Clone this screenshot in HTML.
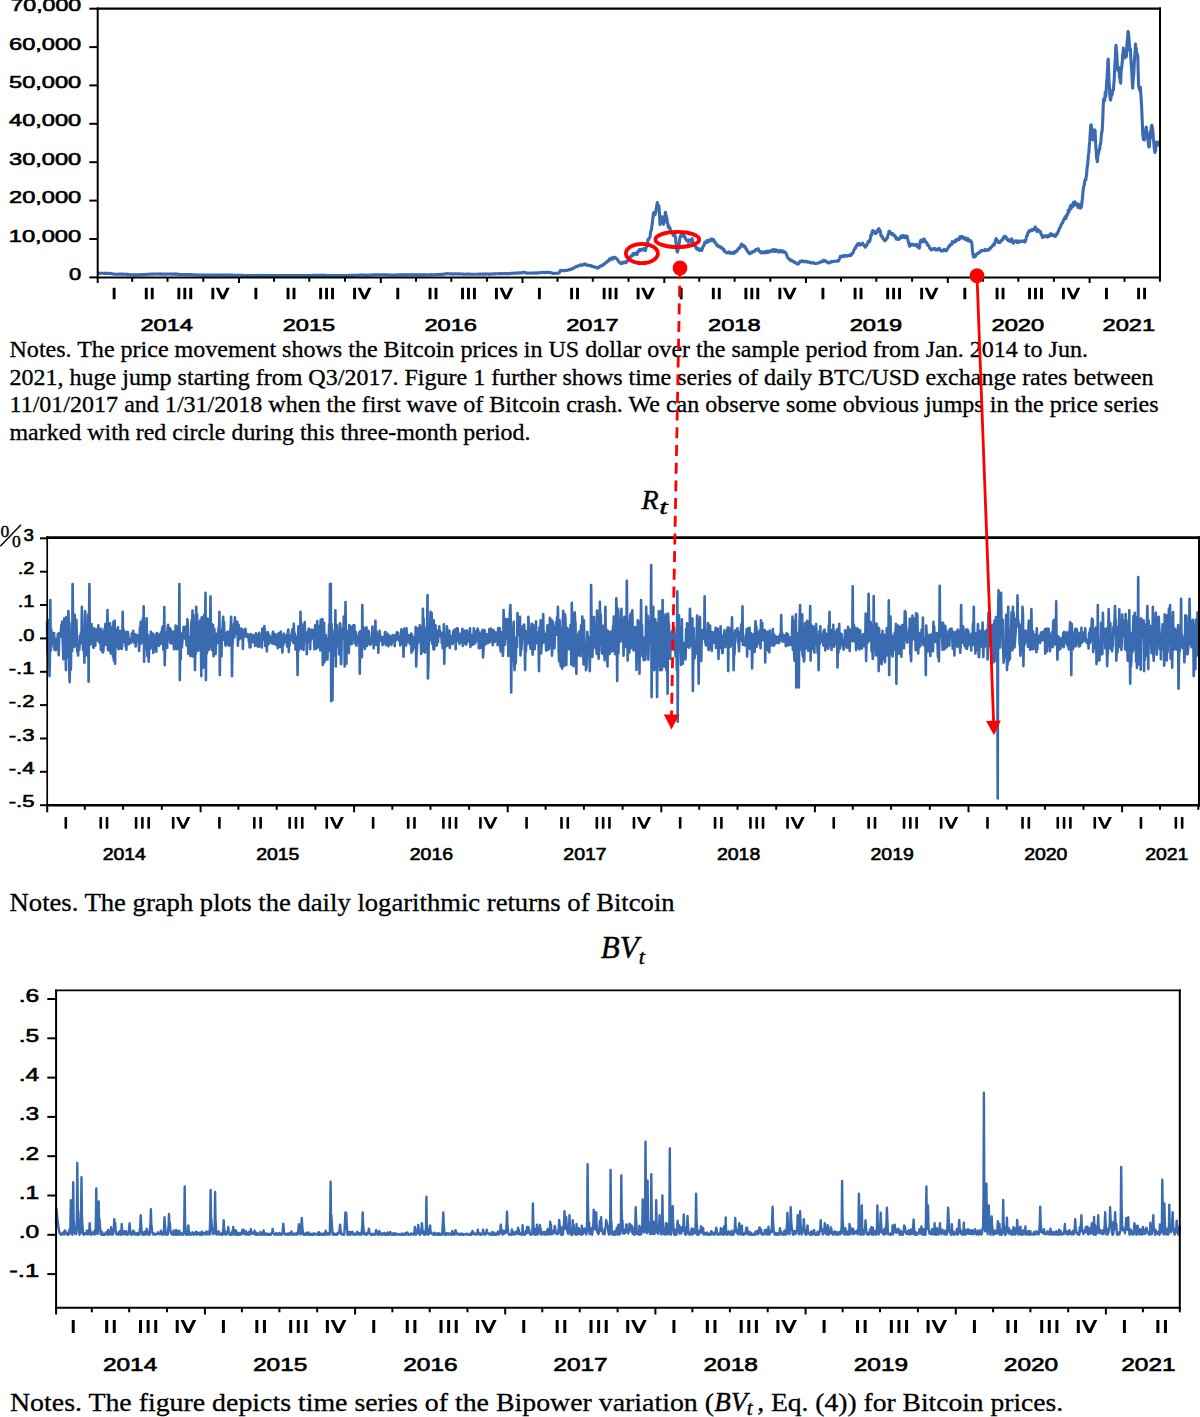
<!DOCTYPE html>
<html><head><meta charset="utf-8"><style>
html,body{margin:0;padding:0;background:#fff;}
svg{display:block;}
</style></head><body>
<svg width="1200" height="1417" viewBox="0 0 1200 1417" font-family="Liberation Sans, sans-serif" fill="#000">
<polyline points="97.6,273.4 98.0,273.4 98.4,273.4 98.8,273.4 99.2,273.4 99.6,273.3 100.0,273.1 100.3,273.2 100.7,273.2 101.1,273.2 101.5,273.2 101.9,273.2 102.3,273.3 102.7,273.3 103.1,273.2 103.4,273.3 103.8,273.3 104.2,273.4 104.6,273.4 105.0,273.5 105.4,273.4 105.8,273.4 106.2,273.3 106.6,273.3 106.9,273.3 107.3,273.5 107.7,273.4 108.1,273.4 108.5,273.3 108.9,273.5 109.3,273.4 109.7,273.5 110.0,273.5 110.4,273.4 110.8,273.6 111.2,273.6 111.6,273.6 112.0,273.8 112.4,273.9 112.8,273.9 113.2,274.0 113.5,274.1 113.9,274.1 114.3,274.0 114.7,274.2 115.1,274.2 115.5,274.3 115.9,274.3 116.3,274.2 116.6,274.2 117.0,274.3 117.4,274.2 117.8,274.2 118.2,274.2 118.6,274.1 119.0,274.1 119.4,274.1 119.8,274.0 120.1,274.1 120.5,274.1 120.9,274.1 121.3,274.1 121.7,274.2 122.1,274.2 122.5,274.1 122.9,274.1 123.2,274.1 123.6,274.2 124.0,274.3 124.4,274.2 124.8,274.3 125.2,274.3 125.6,274.3 126.0,274.2 126.3,274.3 126.7,274.3 127.1,274.4 127.5,274.4 127.9,274.4 128.3,274.5 128.7,274.5 129.1,274.5 129.5,274.6 129.8,274.6 130.2,274.7 130.6,274.7 131.0,274.7 131.4,274.7 131.8,274.7 132.2,274.7 132.6,274.7 132.9,274.7 133.3,274.7 133.7,274.7 134.1,274.7 134.5,274.8 134.9,274.8 135.3,274.9 135.7,274.9 136.1,274.8 136.4,274.8 136.8,274.8 137.2,274.6 137.6,274.8 138.0,274.8 138.4,274.7 138.8,274.7 139.2,274.7 139.5,274.7 139.9,274.7 140.3,274.6 140.7,274.7 141.1,274.7 141.5,274.6 141.9,274.7 142.3,274.6 142.6,274.6 143.0,274.5 143.4,274.5 143.8,274.5 144.2,274.5 144.6,274.5 145.0,274.6 145.4,274.6 145.8,274.4 146.1,274.5 146.5,274.4 146.9,274.5 147.3,274.3 147.7,274.4 148.1,274.3 148.5,274.3 148.9,274.3 149.2,274.2 149.6,274.1 150.0,274.2 150.4,274.2 150.8,274.2 151.2,274.2 151.6,274.1 152.0,274.1 152.4,274.1 152.7,274.1 153.1,274.1 153.5,274.2 153.9,274.0 154.3,274.0 154.7,274.0 155.1,274.0 155.5,274.1 155.8,274.0 156.2,274.0 156.6,274.0 157.0,274.0 157.4,274.0 157.8,274.1 158.2,274.1 158.6,273.9 159.0,274.0 159.3,274.1 159.7,274.0 160.1,273.9 160.5,274.1 160.9,274.1 161.3,274.1 161.7,274.2 162.1,274.1 162.4,274.1 162.8,274.1 163.2,274.1 163.6,274.0 164.0,274.1 164.4,274.1 164.8,274.1 165.2,274.1 165.5,274.0 165.9,274.1 166.3,274.0 166.7,274.0 167.1,274.1 167.5,274.1 167.9,274.0 168.3,274.0 168.7,274.0 169.0,274.0 169.4,274.0 169.8,274.0 170.2,274.0 170.6,274.1 171.0,274.2 171.4,274.1 171.8,274.0 172.1,274.1 172.5,274.1 172.9,274.1 173.3,274.1 173.7,274.1 174.1,274.2 174.5,274.1 174.9,274.2 175.3,274.1 175.6,274.2 176.0,274.1 176.4,274.1 176.8,274.1 177.2,274.3 177.6,274.4 178.0,274.3 178.4,274.4 178.7,274.4 179.1,274.3 179.5,274.5 179.9,274.6 180.3,274.5 180.7,274.5 181.1,274.5 181.5,274.5 181.8,274.5 182.2,274.6 182.6,274.6 183.0,274.6 183.4,274.6 183.8,274.5 184.2,274.5 184.6,274.5 185.0,274.6 185.3,274.6 185.7,274.6 186.1,274.6 186.5,274.6 186.9,274.6 187.3,274.6 187.7,274.6 188.1,274.5 188.4,274.6 188.8,274.6 189.2,274.6 189.6,274.6 190.0,274.7 190.4,274.7 190.8,274.6 191.2,274.7 191.6,274.7 191.9,274.7 192.3,274.7 192.7,274.7 193.1,274.9 193.5,274.8 193.9,274.9 194.3,275.0 194.7,274.9 195.0,274.8 195.4,274.8 195.8,274.9 196.2,275.0 196.6,274.9 197.0,274.9 197.4,274.9 197.8,275.0 198.2,275.0 198.5,275.0 198.9,275.0 199.3,275.0 199.7,275.1 200.1,275.0 200.5,275.1 200.9,275.0 201.3,275.1 201.6,275.1 202.0,275.1 202.4,275.2 202.8,275.1 203.2,275.0 203.6,275.1 204.0,275.1 204.4,275.1 204.7,275.2 205.1,275.1 205.5,275.1 205.9,275.1 206.3,275.2 206.7,275.1 207.1,275.1 207.5,275.1 207.9,275.1 208.2,275.1 208.6,275.0 209.0,275.1 209.4,275.1 209.8,275.2 210.2,275.0 210.6,275.0 211.0,275.0 211.3,275.0 211.7,275.1 212.1,275.1 212.5,275.1 212.9,275.1 213.3,275.1 213.7,275.0 214.1,275.0 214.5,275.1 214.8,275.1 215.2,275.1 215.6,275.0 216.0,275.0 216.4,275.0 216.8,275.1 217.2,275.1 217.6,275.1 217.9,275.0 218.3,275.0 218.7,275.0 219.1,275.0 219.5,275.0 219.9,275.1 220.3,275.1 220.7,275.1 221.0,275.0 221.4,275.0 221.8,275.0 222.2,274.9 222.6,275.0 223.0,275.0 223.4,275.0 223.8,275.0 224.2,275.1 224.5,275.0 224.9,275.0 225.3,275.0 225.7,275.1 226.1,275.1 226.5,275.1 226.9,275.1 227.3,275.2 227.6,275.1 228.0,275.1 228.4,275.1 228.8,275.1 229.2,275.1 229.6,275.1 230.0,275.1 230.4,275.1 230.8,275.2 231.1,275.2 231.5,275.2 231.9,275.1 232.3,275.1 232.7,275.2 233.1,275.2 233.5,275.2 233.9,275.2 234.2,275.2 234.6,275.2 235.0,275.2 235.4,275.2 235.8,275.2 236.2,275.2 236.6,275.2 237.0,275.2 237.4,275.1 237.7,275.2 238.1,275.2 238.5,275.3 238.9,275.2 239.3,275.3 239.7,275.3 240.1,275.3 240.5,275.3 240.8,275.3 241.2,275.4 241.6,275.4 242.0,275.4 242.4,275.4 242.8,275.3 243.2,275.4 243.6,275.5 243.9,275.6 244.3,275.7 244.7,275.7 245.1,275.7 245.5,275.7 245.9,275.7 246.3,275.6 246.7,275.6 247.1,275.6 247.4,275.6 247.8,275.6 248.2,275.6 248.6,275.6 249.0,275.6 249.4,275.6 249.8,275.6 250.2,275.6 250.5,275.6 250.9,275.6 251.3,275.5 251.7,275.6 252.1,275.6 252.5,275.6 252.9,275.5 253.3,275.5 253.7,275.5 254.0,275.5 254.4,275.6 254.8,275.6 255.2,275.5 255.6,275.5 256.0,275.6 256.4,275.5 256.8,275.5 257.1,275.4 257.5,275.5 257.9,275.5 258.3,275.5 258.7,275.4 259.1,275.4 259.5,275.4 259.9,275.5 260.2,275.4 260.6,275.5 261.0,275.5 261.4,275.4 261.8,275.5 262.2,275.4 262.6,275.4 263.0,275.5 263.4,275.5 263.7,275.5 264.1,275.4 264.5,275.5 264.9,275.5 265.3,275.5 265.7,275.5 266.1,275.5 266.5,275.4 266.8,275.4 267.2,275.5 267.6,275.4 268.0,275.5 268.4,275.5 268.8,275.4 269.2,275.5 269.6,275.4 270.0,275.5 270.3,275.5 270.7,275.5 271.1,275.5 271.5,275.5 271.9,275.5 272.3,275.5 272.7,275.5 273.1,275.5 273.4,275.5 273.8,275.5 274.2,275.5 274.6,275.5 275.0,275.5 275.4,275.6 275.8,275.5 276.2,275.6 276.6,275.6 276.9,275.6 277.3,275.5 277.7,275.6 278.1,275.6 278.5,275.6 278.9,275.6 279.3,275.5 279.7,275.6 280.0,275.6 280.4,275.5 280.8,275.6 281.2,275.5 281.6,275.6 282.0,275.6 282.4,275.6 282.8,275.5 283.1,275.6 283.5,275.5 283.9,275.5 284.3,275.5 284.7,275.5 285.1,275.5 285.5,275.6 285.9,275.6 286.3,275.6 286.6,275.6 287.0,275.5 287.4,275.5 287.8,275.6 288.2,275.6 288.6,275.6 289.0,275.5 289.4,275.6 289.7,275.5 290.1,275.6 290.5,275.5 290.9,275.6 291.3,275.5 291.7,275.6 292.1,275.6 292.5,275.5 292.9,275.5 293.2,275.5 293.6,275.5 294.0,275.6 294.4,275.6 294.8,275.5 295.2,275.5 295.6,275.5 296.0,275.6 296.3,275.5 296.7,275.5 297.1,275.5 297.5,275.5 297.9,275.5 298.3,275.5 298.7,275.5 299.1,275.6 299.4,275.6 299.8,275.5 300.2,275.6 300.6,275.5 301.0,275.5 301.4,275.5 301.8,275.5 302.2,275.6 302.6,275.6 302.9,275.6 303.3,275.6 303.7,275.5 304.1,275.5 304.5,275.6 304.9,275.5 305.3,275.6 305.7,275.5 306.0,275.5 306.4,275.6 306.8,275.5 307.2,275.5 307.6,275.5 308.0,275.5 308.4,275.5 308.8,275.5 309.2,275.5 309.5,275.5 309.9,275.5 310.3,275.5 310.7,275.5 311.1,275.5 311.5,275.5 311.9,275.5 312.3,275.4 312.6,275.5 313.0,275.4 313.4,275.4 313.8,275.4 314.2,275.4 314.6,275.4 315.0,275.4 315.4,275.4 315.8,275.4 316.1,275.3 316.5,275.4 316.9,275.3 317.3,275.3 317.7,275.3 318.1,275.3 318.5,275.4 318.9,275.3 319.2,275.4 319.6,275.4 320.0,275.4 320.4,275.4 320.8,275.4 321.2,275.4 321.6,275.3 322.0,275.4 322.3,275.4 322.7,275.3 323.1,275.3 323.5,275.3 323.9,275.4 324.3,275.4 324.7,275.4 325.1,275.4 325.5,275.4 325.8,275.4 326.2,275.4 326.6,275.5 327.0,275.5 327.4,275.5 327.8,275.5 328.2,275.5 328.6,275.5 328.9,275.5 329.3,275.5 329.7,275.6 330.1,275.6 330.5,275.5 330.9,275.5 331.3,275.5 331.7,275.6 332.1,275.6 332.4,275.6 332.8,275.6 333.2,275.6 333.6,275.6 334.0,275.5 334.4,275.5 334.8,275.6 335.2,275.6 335.5,275.5 335.9,275.6 336.3,275.6 336.7,275.5 337.1,275.5 337.5,275.5 337.9,275.5 338.3,275.5 338.6,275.5 339.0,275.5 339.4,275.6 339.8,275.6 340.2,275.5 340.6,275.5 341.0,275.5 341.4,275.5 341.8,275.5 342.1,275.5 342.5,275.5 342.9,275.5 343.3,275.5 343.7,275.5 344.1,275.5 344.5,275.5 344.9,275.5 345.2,275.6 345.6,275.6 346.0,275.5 346.4,275.5 346.8,275.6 347.2,275.5 347.6,275.5 348.0,275.5 348.4,275.5 348.7,275.4 349.1,275.5 349.5,275.4 349.9,275.4 350.3,275.5 350.7,275.4 351.1,275.4 351.5,275.4 351.8,275.4 352.2,275.4 352.6,275.4 353.0,275.4 353.4,275.3 353.8,275.3 354.2,275.3 354.6,275.3 355.0,275.2 355.3,275.2 355.7,275.2 356.1,275.2 356.5,275.2 356.9,275.2 357.3,275.2 357.7,275.2 358.1,275.2 358.4,275.2 358.8,275.2 359.2,275.1 359.6,275.0 360.0,275.0 360.4,275.0 360.8,274.9 361.2,274.9 361.5,275.0 361.9,275.0 362.3,275.0 362.7,275.0 363.1,275.1 363.5,275.1 363.9,275.1 364.3,275.1 364.7,275.2 365.0,275.2 365.4,275.2 365.8,275.2 366.2,275.2 366.6,275.2 367.0,275.1 367.4,275.1 367.8,275.1 368.1,275.1 368.5,275.0 368.9,275.1 369.3,275.1 369.7,275.0 370.1,275.0 370.5,275.0 370.9,275.1 371.3,275.0 371.6,274.9 372.0,274.9 372.4,274.9 372.8,275.0 373.2,274.9 373.6,274.9 374.0,274.9 374.4,274.8 374.7,274.8 375.1,274.8 375.5,274.8 375.9,274.8 376.3,274.8 376.7,274.8 377.1,274.8 377.5,274.9 377.8,274.8 378.2,274.8 378.6,274.8 379.0,274.7 379.4,274.8 379.8,274.8 380.2,274.8 380.6,274.8 381.0,274.8 381.3,274.8 381.7,274.8 382.1,274.8 382.5,274.8 382.9,274.8 383.3,274.8 383.7,274.8 384.1,274.8 384.4,274.8 384.8,274.8 385.2,274.8 385.6,274.8 386.0,274.8 386.4,274.8 386.8,274.8 387.2,274.9 387.6,275.0 387.9,274.9 388.3,275.0 388.7,275.0 389.1,275.0 389.5,275.0 389.9,275.0 390.3,275.0 390.7,275.0 391.0,275.0 391.4,274.9 391.8,275.0 392.2,275.0 392.6,275.0 393.0,275.0 393.4,275.0 393.8,275.0 394.2,275.0 394.5,275.0 394.9,275.0 395.3,274.9 395.7,275.0 396.1,275.0 396.5,275.0 396.9,274.9 397.3,275.0 397.6,275.0 398.0,274.9 398.4,274.9 398.8,274.9 399.2,274.8 399.6,274.9 400.0,274.9 400.4,274.9 400.7,274.9 401.1,274.8 401.5,274.9 401.9,274.9 402.3,274.9 402.7,274.9 403.1,274.9 403.5,274.8 403.9,274.8 404.2,274.8 404.6,274.8 405.0,274.9 405.4,274.9 405.8,274.9 406.2,274.9 406.6,274.8 407.0,274.9 407.3,274.9 407.7,274.8 408.1,274.8 408.5,274.8 408.9,274.8 409.3,274.8 409.7,274.8 410.1,274.8 410.5,274.8 410.8,274.8 411.2,274.8 411.6,274.9 412.0,274.9 412.4,274.9 412.8,274.8 413.2,274.9 413.6,274.8 413.9,274.8 414.3,274.9 414.7,274.9 415.1,274.9 415.5,274.9 415.9,274.9 416.3,274.8 416.7,274.9 417.0,274.8 417.4,274.9 417.8,274.8 418.2,274.8 418.6,274.7 419.0,274.8 419.4,274.9 419.8,274.9 420.2,274.8 420.5,274.9 420.9,274.9 421.3,274.8 421.7,274.9 422.1,274.9 422.5,274.9 422.9,274.9 423.3,274.9 423.6,274.9 424.0,274.8 424.4,274.8 424.8,274.9 425.2,274.9 425.6,274.8 426.0,274.8 426.4,274.8 426.8,274.8 427.1,274.8 427.5,274.8 427.9,274.8 428.3,274.8 428.7,274.7 429.1,274.7 429.5,274.7 429.9,274.8 430.2,274.7 430.6,274.8 431.0,274.8 431.4,274.6 431.8,274.7 432.2,274.7 432.6,274.7 433.0,274.7 433.3,274.7 433.7,274.7 434.1,274.8 434.5,274.7 434.9,274.7 435.3,274.7 435.7,274.6 436.1,274.6 436.5,274.6 436.8,274.7 437.2,274.6 437.6,274.5 438.0,274.5 438.4,274.5 438.8,274.5 439.2,274.4 439.6,274.5 439.9,274.5 440.3,274.5 440.7,274.4 441.1,274.4 441.5,274.4 441.9,274.4 442.3,274.3 442.7,274.3 443.1,274.3 443.4,274.2 443.8,274.1 444.2,274.2 444.6,274.1 445.0,274.0 445.4,274.0 445.8,274.0 446.2,274.0 446.5,273.8 446.9,273.7 447.3,273.6 447.7,273.7 448.1,273.7 448.5,273.8 448.9,273.8 449.3,273.7 449.7,273.9 450.0,273.8 450.4,273.9 450.8,273.8 451.2,273.9 451.6,274.0 452.0,273.9 452.4,273.9 452.8,273.9 453.1,273.9 453.5,274.0 453.9,274.1 454.3,273.9 454.7,273.9 455.1,273.9 455.5,273.9 455.9,273.9 456.2,273.9 456.6,274.0 457.0,273.9 457.4,273.9 457.8,274.0 458.2,273.9 458.6,273.9 459.0,274.0 459.4,273.9 459.7,273.9 460.1,274.0 460.5,274.0 460.9,274.0 461.3,274.0 461.7,274.0 462.1,274.0 462.5,274.0 462.8,274.1 463.2,274.1 463.6,274.1 464.0,274.2 464.4,274.2 464.8,274.2 465.2,274.2 465.6,274.2 466.0,274.2 466.3,274.1 466.7,274.2 467.1,274.1 467.5,274.1 467.9,274.1 468.3,274.1 468.7,274.2 469.1,274.2 469.4,274.2 469.8,274.1 470.2,274.1 470.6,274.3 471.0,274.3 471.4,274.2 471.8,274.2 472.2,274.2 472.5,274.2 472.9,274.2 473.3,274.2 473.7,274.2 474.1,274.2 474.5,274.3 474.9,274.2 475.3,274.3 475.7,274.2 476.0,274.2 476.4,274.2 476.8,274.2 477.2,274.2 477.6,274.2 478.0,274.3 478.4,274.2 478.8,274.1 479.1,274.1 479.5,274.1 479.9,274.1 480.3,274.1 480.7,274.1 481.1,274.1 481.5,274.0 481.9,274.1 482.3,274.1 482.6,274.1 483.0,274.1 483.4,274.2 483.8,274.1 484.2,274.1 484.6,274.1 485.0,274.1 485.4,274.1 485.7,274.1 486.1,274.1 486.5,274.0 486.9,274.0 487.3,273.9 487.7,274.0 488.1,274.1 488.5,274.1 488.9,274.0 489.2,274.1 489.6,274.1 490.0,274.1 490.4,274.1 490.8,274.1 491.2,274.1 491.6,274.0 492.0,274.0 492.3,274.0 492.7,273.9 493.1,273.8 493.5,273.9 493.9,273.9 494.3,273.9 494.7,273.9 495.1,273.9 495.4,273.7 495.8,273.8 496.2,273.7 496.6,273.8 497.0,273.7 497.4,273.7 497.8,273.7 498.2,273.7 498.6,273.6 498.9,273.6 499.3,273.7 499.7,273.7 500.1,273.7 500.5,273.7 500.9,273.6 501.3,273.7 501.7,273.5 502.0,273.8 502.4,273.7 502.8,273.6 503.2,273.7 503.6,273.7 504.0,273.7 504.4,273.8 504.8,273.7 505.2,273.5 505.5,273.5 505.9,273.7 506.3,273.7 506.7,273.7 507.1,273.6 507.5,273.6 507.9,273.7 508.3,273.6 508.6,273.5 509.0,273.6 509.4,273.6 509.8,273.6 510.2,273.6 510.6,273.6 511.0,273.4 511.4,273.4 511.7,273.3 512.1,273.2 512.5,273.2 512.9,273.3 513.3,273.2 513.7,273.1 514.1,273.2 514.5,273.3 514.9,273.2 515.2,273.3 515.6,273.0 516.0,273.2 516.4,273.2 516.8,273.1 517.2,273.0 517.6,273.0 518.0,272.9 518.3,272.9 518.7,272.8 519.1,273.1 519.5,272.9 519.9,273.0 520.3,272.9 520.7,272.8 521.1,272.9 521.5,272.9 521.8,272.8 522.2,272.7 522.6,272.8 523.0,272.5 523.4,272.2 523.8,272.4 524.2,272.4 524.6,272.3 524.9,272.5 525.3,272.7 525.7,272.9 526.1,273.0 526.5,273.1 526.9,273.2 527.3,273.1 527.7,273.2 528.1,273.2 528.4,273.3 528.8,273.2 529.2,273.2 529.6,273.2 530.0,273.0 530.4,273.0 530.8,273.0 531.2,273.0 531.5,273.1 531.9,273.1 532.3,273.1 532.7,273.0 533.1,273.1 533.5,272.9 533.9,273.0 534.3,273.1 534.6,273.1 535.0,273.0 535.4,273.0 535.8,273.0 536.2,272.8 536.6,272.9 537.0,273.1 537.4,273.0 537.8,273.1 538.1,272.9 538.5,272.7 538.9,272.7 539.3,272.8 539.7,272.8 540.1,272.6 540.5,272.6 540.9,272.6 541.2,272.5 541.6,272.3 542.0,272.4 542.4,272.5 542.8,272.5 543.2,272.5 543.6,272.6 544.0,272.6 544.4,272.5 544.7,272.6 545.1,272.5 545.5,272.5 545.9,272.2 546.3,272.5 546.7,272.4 547.1,272.4 547.5,272.4 547.8,272.3 548.2,272.4 548.6,272.5 549.0,272.6 549.4,272.5 549.8,272.4 550.2,272.5 550.6,272.7 550.9,272.8 551.3,272.9 551.7,272.9 552.1,273.1 552.5,273.2 552.9,273.4 553.3,273.5 553.7,273.3 554.1,273.5 554.4,273.4 554.8,273.3 555.2,273.3 555.6,273.3 556.0,273.3 556.4,273.2 556.8,273.2 557.2,273.3 557.5,273.2 557.9,273.2 558.3,273.1 558.7,273.0 559.1,272.9 559.5,272.5 559.9,271.2 560.3,270.6 560.7,270.5 561.0,270.4 561.4,270.4 561.8,270.5 562.2,270.6 562.6,270.4 563.0,270.7 563.4,270.5 563.8,270.6 564.1,270.6 564.5,270.7 564.9,270.6 565.3,270.5 565.7,270.3 566.1,270.2 566.5,270.3 566.9,270.3 567.3,270.4 567.6,270.2 568.0,270.1 568.4,269.9 568.8,269.5 569.2,269.6 569.6,269.8 570.0,269.7 570.4,269.7 570.7,269.5 571.1,269.0 571.5,268.9 571.9,269.1 572.3,268.7 572.7,268.3 573.1,268.4 573.5,268.3 573.8,268.1 574.2,267.8 574.6,267.5 575.0,267.2 575.4,266.9 575.8,266.7 576.2,266.4 576.6,266.4 577.0,266.7 577.3,266.4 577.7,266.0 578.1,265.9 578.5,265.5 578.9,265.6 579.3,265.7 579.7,265.1 580.1,265.1 580.4,265.1 580.8,264.9 581.2,264.7 581.6,264.8 582.0,265.4 582.4,265.2 582.8,265.0 583.2,265.0 583.6,264.6 583.9,264.2 584.3,264.4 584.7,264.6 585.1,263.9 585.5,264.4 585.9,264.9 586.3,264.8 586.7,264.7 587.0,265.1 587.4,264.9 587.8,265.2 588.2,265.5 588.6,265.4 589.0,265.3 589.4,265.7 589.8,265.7 590.1,265.8 590.5,265.3 590.9,266.0 591.3,265.8 591.7,266.1 592.1,266.4 592.5,266.3 592.9,266.3 593.3,266.3 593.6,266.6 594.0,267.0 594.4,267.2 594.8,267.1 595.2,267.1 595.6,267.0 596.0,267.3 596.4,267.3 596.7,267.3 597.1,267.6 597.5,268.1 597.9,268.1 598.3,267.9 598.7,267.2 599.1,267.3 599.5,266.7 599.9,266.5 600.2,266.1 600.6,265.9 601.0,266.0 601.4,265.9 601.8,265.6 602.2,265.4 602.6,265.3 603.0,265.0 603.3,264.3 603.7,264.7 604.1,264.2 604.5,264.1 604.9,263.6 605.3,263.0 605.7,262.8 606.1,262.3 606.5,262.6 606.8,261.7 607.2,261.7 607.6,261.0 608.0,260.7 608.4,261.2 608.8,260.6 609.2,259.8 609.6,258.8 609.9,258.9 610.3,258.9 610.7,259.5 611.1,258.6 611.5,258.0 611.9,258.5 612.3,258.6 612.7,259.2 613.0,258.4 613.4,257.3 613.8,257.6 614.2,257.5 614.6,257.6 615.0,258.2 615.4,257.5 615.8,258.2 616.2,258.3 616.5,258.6 616.9,258.8 617.3,259.3 617.7,259.8 618.1,260.7 618.5,261.4 618.9,261.5 619.3,262.0 619.6,262.6 620.0,263.1 620.4,263.2 620.8,263.6 621.2,263.5 621.6,263.6 622.0,263.0 622.4,262.7 622.8,262.1 623.1,262.9 623.5,262.9 623.9,262.5 624.3,262.6 624.7,262.6 625.1,262.0 625.5,262.4 625.9,262.7 626.2,262.6 626.6,261.8 627.0,261.2 627.4,261.2 627.8,260.8 628.2,259.8 628.6,259.1 629.0,259.0 629.3,258.1 629.7,257.5 630.1,257.8 630.5,257.0 630.9,256.0 631.3,255.7 631.7,256.1 632.1,255.4 632.5,254.6 632.8,253.9 633.2,255.3 633.6,253.4 634.0,254.5 634.4,253.8 634.8,253.3 635.2,253.2 635.6,253.4 635.9,254.1 636.3,253.3 636.7,253.6 637.1,254.4 637.5,251.9 637.9,251.7 638.3,250.9 638.7,251.7 639.1,250.6 639.4,249.8 639.8,249.3 640.2,249.7 640.6,250.3 641.0,249.6 641.4,250.3 641.8,250.2 642.2,249.4 642.5,249.9 642.9,249.7 643.3,249.7 643.7,248.7 644.1,248.9 644.5,249.8 644.9,249.5 645.3,250.6 645.7,249.5 646.0,247.5 646.4,247.2 646.8,245.5 647.2,244.7 647.6,242.4 648.0,239.4 648.4,239.8 648.8,238.6 649.1,238.5 649.5,238.1 649.9,237.5 650.3,234.4 650.7,231.8 651.1,230.6 651.5,229.6 651.9,226.1 652.2,224.1 652.6,220.1 653.0,217.2 653.4,214.0 653.8,212.5 654.2,213.5 654.6,213.4 655.0,214.8 655.4,213.2 655.7,212.4 656.1,209.2 656.5,208.0 656.9,204.8 657.3,202.5 657.7,205.7 658.1,206.4 658.5,207.4 658.8,205.8 659.2,208.9 659.6,216.8 660.0,224.6 660.4,221.2 660.8,222.0 661.2,217.5 661.6,217.0 662.0,220.1 662.3,216.8 662.7,218.2 663.1,222.9 663.5,224.3 663.9,223.1 664.3,220.2 664.7,219.3 665.1,216.1 665.4,212.2 665.8,214.5 666.2,215.6 666.6,218.8 667.0,218.7 667.4,223.1 667.8,223.8 668.2,226.7 668.5,227.6 668.9,225.8 669.3,227.9 669.7,227.7 670.1,228.7 670.5,230.5 670.9,231.0 671.3,231.8 671.7,232.6 672.0,232.2 672.4,232.7 672.8,234.3 673.2,235.5 673.6,235.2 674.0,235.8 674.4,235.4 674.8,234.2 675.1,235.7 675.5,237.6 675.9,241.7 676.3,245.6 676.7,248.8 677.1,251.6 677.5,252.0 677.9,250.2 678.3,247.6 678.6,246.0 679.0,243.9 679.4,242.4 679.8,238.1 680.2,236.8 680.6,235.6 681.0,235.8 681.4,235.1 681.7,236.2 682.1,235.5 682.5,233.5 682.9,236.1 683.3,235.4 683.7,235.0 684.1,236.2 684.5,236.6 684.9,236.6 685.2,238.4 685.6,238.4 686.0,239.7 686.4,240.2 686.8,240.6 687.2,240.6 687.6,240.6 688.0,240.6 688.3,242.2 688.7,240.1 689.1,239.8 689.5,240.0 689.9,240.8 690.3,240.9 690.7,240.3 691.1,240.2 691.4,241.6 691.8,240.3 692.2,238.6 692.6,242.2 693.0,241.9 693.4,242.7 693.8,243.8 694.2,243.6 694.6,245.7 694.9,246.0 695.3,245.7 695.7,247.1 696.1,248.1 696.5,248.5 696.9,249.0 697.3,248.0 697.7,249.1 698.0,248.5 698.4,249.6 698.8,248.9 699.2,249.1 699.6,250.6 700.0,249.8 700.4,250.1 700.8,249.9 701.2,248.8 701.5,249.9 701.9,250.3 702.3,248.4 702.7,247.8 703.1,246.2 703.5,245.8 703.9,245.8 704.3,244.7 704.6,242.8 705.0,242.1 705.4,242.5 705.8,242.4 706.2,242.4 706.6,242.5 707.0,240.6 707.4,241.2 707.7,242.0 708.1,241.7 708.5,240.6 708.9,240.1 709.3,240.3 709.7,240.6 710.1,240.0 710.5,240.9 710.9,240.8 711.2,239.0 711.6,239.8 712.0,239.7 712.4,239.2 712.8,239.7 713.2,240.6 713.6,239.6 714.0,240.5 714.3,241.8 714.7,241.7 715.1,242.1 715.5,243.4 715.9,243.4 716.3,243.8 716.7,245.3 717.1,244.9 717.5,245.0 717.8,245.4 718.2,246.5 718.6,246.2 719.0,246.2 719.4,246.3 719.8,247.2 720.2,246.7 720.6,247.8 720.9,247.8 721.3,247.1 721.7,248.3 722.1,248.8 722.5,248.3 722.9,249.2 723.3,249.6 723.7,249.7 724.1,249.5 724.4,251.4 724.8,251.5 725.2,251.8 725.6,252.2 726.0,252.4 726.4,252.6 726.8,252.4 727.2,252.8 727.5,252.5 727.9,252.3 728.3,252.8 728.7,252.6 729.1,251.9 729.5,252.3 729.9,252.9 730.3,252.9 730.6,253.3 731.0,253.0 731.4,252.6 731.8,253.3 732.2,253.3 732.6,252.7 733.0,253.3 733.4,253.1 733.8,253.4 734.1,253.3 734.5,252.9 734.9,251.4 735.3,251.9 735.7,252.0 736.1,251.9 736.5,251.5 736.9,250.8 737.2,250.7 737.6,249.5 738.0,249.6 738.4,248.6 738.8,248.4 739.2,247.7 739.6,248.2 740.0,247.2 740.4,246.4 740.7,245.7 741.1,246.2 741.5,244.1 741.9,244.6 742.3,245.0 742.7,245.3 743.1,245.5 743.5,245.4 743.8,246.5 744.2,246.9 744.6,246.5 745.0,246.6 745.4,247.4 745.8,248.3 746.2,249.3 746.6,249.6 746.9,249.6 747.3,251.2 747.7,250.9 748.1,251.5 748.5,252.8 748.9,252.8 749.3,253.6 749.7,253.8 750.1,253.6 750.4,253.0 750.8,252.6 751.2,252.4 751.6,252.0 752.0,252.7 752.4,251.6 752.8,252.0 753.2,251.7 753.5,251.3 753.9,251.4 754.3,251.4 754.7,251.1 755.1,250.4 755.5,249.7 755.9,249.4 756.3,249.9 756.7,249.9 757.0,249.9 757.4,249.0 757.8,249.9 758.2,248.8 758.6,249.9 759.0,250.9 759.4,251.0 759.8,251.2 760.1,252.0 760.5,252.3 760.9,252.9 761.3,252.4 761.7,252.2 762.1,252.6 762.5,252.0 762.9,252.3 763.3,252.4 763.6,252.8 764.0,252.6 764.4,251.9 764.8,252.6 765.2,251.9 765.6,251.7 766.0,251.6 766.4,252.6 766.7,251.9 767.1,251.2 767.5,251.7 767.9,251.4 768.3,252.4 768.7,251.3 769.1,251.5 769.5,250.8 769.8,251.9 770.2,251.0 770.6,251.1 771.0,250.6 771.4,251.2 771.8,251.3 772.2,249.8 772.6,250.8 773.0,251.1 773.3,250.9 773.7,251.2 774.1,250.2 774.5,249.5 774.9,250.6 775.3,251.5 775.7,250.4 776.1,250.1 776.4,250.2 776.8,250.1 777.2,251.1 777.6,251.2 778.0,251.8 778.4,252.1 778.8,251.1 779.2,251.6 779.6,250.4 779.9,251.1 780.3,251.7 780.7,251.2 781.1,250.6 781.5,251.0 781.9,252.0 782.3,251.6 782.7,251.0 783.0,251.7 783.4,252.1 783.8,251.4 784.2,251.6 784.6,252.3 785.0,252.2 785.4,252.4 785.8,252.7 786.1,253.7 786.5,254.3 786.9,255.3 787.3,257.1 787.7,257.6 788.1,258.1 788.5,258.6 788.9,258.6 789.3,259.3 789.6,259.7 790.0,259.4 790.4,260.0 790.8,260.7 791.2,260.0 791.6,260.4 792.0,260.5 792.4,261.0 792.7,261.2 793.1,261.5 793.5,261.5 793.9,261.5 794.3,262.4 794.7,262.0 795.1,262.6 795.5,262.9 795.9,262.8 796.2,263.1 796.6,263.7 797.0,263.2 797.4,263.9 797.8,264.0 798.2,264.2 798.6,263.6 799.0,263.4 799.3,262.6 799.7,262.4 800.1,261.4 800.5,261.7 800.9,261.7 801.3,261.1 801.7,261.3 802.1,261.5 802.4,260.9 802.8,261.3 803.2,261.7 803.6,261.4 804.0,261.9 804.4,261.4 804.8,261.2 805.2,261.6 805.6,261.8 805.9,261.6 806.3,261.6 806.7,261.9 807.1,261.5 807.5,262.1 807.9,262.0 808.3,262.0 808.7,262.0 809.0,262.0 809.4,262.4 809.8,262.1 810.2,262.3 810.6,262.6 811.0,262.9 811.4,263.0 811.8,262.7 812.2,263.0 812.5,262.9 812.9,262.7 813.3,262.7 813.7,262.6 814.1,263.1 814.5,263.5 814.9,263.2 815.3,263.3 815.6,263.2 816.0,263.5 816.4,263.4 816.8,263.4 817.2,263.3 817.6,263.2 818.0,263.1 818.4,263.0 818.8,262.9 819.1,262.5 819.5,262.7 819.9,262.1 820.3,262.2 820.7,261.9 821.1,261.9 821.5,261.9 821.9,261.1 822.2,261.4 822.6,261.7 823.0,261.5 823.4,261.2 823.8,260.2 824.2,260.5 824.6,260.6 825.0,261.3 825.3,261.3 825.7,261.4 826.1,261.2 826.5,261.9 826.9,262.0 827.3,262.2 827.7,262.7 828.1,262.5 828.5,262.5 828.8,263.0 829.2,262.3 829.6,262.1 830.0,262.2 830.4,262.5 830.8,261.7 831.2,261.8 831.6,261.6 831.9,261.3 832.3,261.7 832.7,261.5 833.1,261.6 833.5,261.6 833.9,261.5 834.3,261.5 834.7,261.1 835.1,261.2 835.4,261.2 835.8,261.3 836.2,261.1 836.6,261.3 837.0,261.2 837.4,261.0 837.8,261.1 838.2,260.9 838.5,260.9 838.9,259.7 839.3,258.9 839.7,258.3 840.1,257.8 840.5,256.2 840.9,256.5 841.3,256.7 841.6,256.6 842.0,256.5 842.4,256.1 842.8,256.4 843.2,255.6 843.6,256.4 844.0,256.1 844.4,256.5 844.8,255.6 845.1,256.0 845.5,256.0 845.9,255.6 846.3,255.3 846.7,256.0 847.1,255.9 847.5,256.2 847.9,255.7 848.2,255.6 848.6,255.6 849.0,255.6 849.4,255.5 849.8,255.5 850.2,255.0 850.6,254.4 851.0,255.4 851.4,255.1 851.7,254.6 852.1,253.6 852.5,253.4 852.9,252.6 853.3,252.2 853.7,250.8 854.1,250.0 854.5,249.4 854.8,248.4 855.2,247.8 855.6,248.0 856.0,246.6 856.4,245.9 856.8,245.5 857.2,244.5 857.6,244.0 858.0,245.1 858.3,245.2 858.7,243.8 859.1,243.3 859.5,244.3 859.9,244.8 860.3,244.6 860.7,244.4 861.1,244.8 861.4,244.0 861.8,244.3 862.2,244.3 862.6,243.2 863.0,244.3 863.4,244.6 863.8,244.7 864.2,245.0 864.5,246.0 864.9,246.5 865.3,247.2 865.7,245.5 866.1,245.2 866.5,245.7 866.9,244.9 867.3,243.9 867.7,243.3 868.0,241.9 868.4,241.3 868.8,241.9 869.2,241.4 869.6,241.6 870.0,240.0 870.4,238.4 870.8,235.1 871.1,234.8 871.5,235.3 871.9,233.4 872.3,231.0 872.7,230.7 873.1,231.3 873.5,231.4 873.9,231.2 874.3,231.9 874.6,233.0 875.0,232.5 875.4,233.3 875.8,233.1 876.2,233.3 876.6,232.7 877.0,231.0 877.4,231.9 877.7,230.7 878.1,229.3 878.5,229.4 878.9,228.6 879.3,230.4 879.7,229.9 880.1,230.7 880.5,232.3 880.8,235.0 881.2,236.1 881.6,235.7 882.0,235.7 882.4,237.3 882.8,237.7 883.2,239.1 883.6,239.4 884.0,239.6 884.3,239.6 884.7,240.9 885.1,240.0 885.5,239.4 885.9,239.9 886.3,239.7 886.7,238.1 887.1,237.6 887.4,238.0 887.8,235.5 888.2,234.5 888.6,234.0 889.0,231.2 889.4,231.2 889.8,231.9 890.2,232.0 890.6,233.2 890.9,233.7 891.3,233.3 891.7,234.1 892.1,234.6 892.5,233.5 892.9,234.0 893.3,234.5 893.7,235.2 894.0,235.6 894.4,235.3 894.8,236.4 895.2,235.8 895.6,237.6 896.0,238.0 896.4,239.1 896.8,239.0 897.2,238.6 897.5,238.1 897.9,239.4 898.3,239.5 898.7,239.3 899.1,239.1 899.5,239.0 899.9,237.8 900.3,238.2 900.6,236.8 901.0,236.0 901.4,236.5 901.8,237.0 902.2,237.5 902.6,235.5 903.0,237.1 903.4,235.7 903.7,236.0 904.1,236.8 904.5,237.7 904.9,236.6 905.3,235.8 905.7,237.4 906.1,237.6 906.5,236.9 906.9,237.2 907.2,236.2 907.6,238.6 908.0,240.0 908.4,242.5 908.8,242.4 909.2,244.9 909.6,246.3 910.0,245.6 910.3,245.3 910.7,244.1 911.1,245.0 911.5,245.1 911.9,244.8 912.3,244.1 912.7,244.8 913.1,244.4 913.5,244.6 913.8,245.1 914.2,245.1 914.6,245.1 915.0,245.6 915.4,244.6 915.8,245.7 916.2,244.7 916.6,244.4 916.9,245.4 917.3,246.5 917.7,246.9 918.1,247.0 918.5,247.3 918.9,247.9 919.3,248.1 919.7,245.9 920.0,242.3 920.4,241.4 920.8,240.4 921.2,240.4 921.6,240.7 922.0,239.9 922.4,239.9 922.8,241.9 923.2,241.0 923.5,241.5 923.9,240.2 924.3,238.9 924.7,240.3 925.1,240.9 925.5,241.7 925.9,242.0 926.3,242.4 926.6,242.5 927.0,244.2 927.4,243.8 927.8,245.4 928.2,245.6 928.6,245.6 929.0,246.2 929.4,247.5 929.8,248.2 930.1,248.7 930.5,248.9 930.9,248.8 931.3,250.1 931.7,249.6 932.1,249.3 932.5,249.2 932.9,249.2 933.2,248.7 933.6,248.9 934.0,248.8 934.4,248.9 934.8,248.3 935.2,249.8 935.6,248.8 936.0,249.1 936.4,249.2 936.7,249.6 937.1,250.0 937.5,249.5 937.9,249.4 938.3,248.8 938.7,249.5 939.1,248.4 939.5,248.5 939.8,249.1 940.2,249.8 940.6,250.4 941.0,251.0 941.4,251.0 941.8,250.7 942.2,250.6 942.6,251.0 942.9,250.7 943.3,250.8 943.7,250.3 944.1,249.4 944.5,249.5 944.9,250.0 945.3,250.6 945.7,250.7 946.1,250.9 946.4,249.8 946.8,250.0 947.2,249.2 947.6,248.9 948.0,248.1 948.4,246.8 948.8,247.0 949.2,246.5 949.5,246.2 949.9,244.8 950.3,244.9 950.7,244.8 951.1,244.8 951.5,244.7 951.9,243.4 952.3,241.7 952.7,242.9 953.0,242.0 953.4,242.0 953.8,242.5 954.2,242.1 954.6,241.7 955.0,241.7 955.4,240.0 955.8,241.4 956.1,240.5 956.5,240.0 956.9,240.3 957.3,239.8 957.7,239.0 958.1,239.1 958.5,238.8 958.9,238.3 959.2,239.7 959.6,237.9 960.0,236.6 960.4,236.8 960.8,236.7 961.2,238.0 961.6,237.6 962.0,237.7 962.4,237.4 962.7,236.6 963.1,237.6 963.5,237.7 963.9,239.0 964.3,238.5 964.7,238.3 965.1,238.9 965.5,239.2 965.8,237.9 966.2,239.5 966.6,240.1 967.0,240.3 967.4,239.3 967.8,238.5 968.2,239.5 968.6,240.6 969.0,240.9 969.3,240.3 969.7,241.5 970.1,240.6 970.5,240.5 970.9,241.4 971.3,241.6 971.7,242.4 972.1,245.9 972.4,250.4 972.8,252.8 973.2,255.9 973.6,257.1 974.0,256.7 974.4,256.5 974.8,256.5 975.2,256.6 975.6,256.2 975.9,255.1 976.3,254.2 976.7,254.2 977.1,253.7 977.5,253.9 977.9,253.5 978.3,253.0 978.7,253.1 979.0,252.8 979.4,252.2 979.8,252.0 980.2,252.1 980.6,251.3 981.0,251.2 981.4,250.4 981.8,250.5 982.1,250.6 982.5,250.5 982.9,250.5 983.3,250.7 983.7,250.6 984.1,250.1 984.5,249.9 984.9,249.5 985.3,250.7 985.6,250.5 986.0,250.4 986.4,250.1 986.8,250.2 987.2,250.2 987.6,249.6 988.0,249.7 988.4,250.2 988.7,249.3 989.1,249.0 989.5,249.2 989.9,248.3 990.3,248.5 990.7,247.3 991.1,247.3 991.5,247.2 991.9,246.7 992.2,246.4 992.6,245.5 993.0,244.9 993.4,244.4 993.8,244.1 994.2,245.1 994.6,243.0 995.0,242.9 995.3,241.1 995.7,239.4 996.1,238.7 996.5,239.1 996.9,239.7 997.3,240.2 997.7,241.0 998.1,241.6 998.4,242.3 998.8,241.7 999.2,242.5 999.6,242.3 1000.0,242.4 1000.4,241.9 1000.8,241.6 1001.2,240.8 1001.6,240.1 1001.9,239.8 1002.3,240.0 1002.7,239.8 1003.1,237.9 1003.5,238.1 1003.9,237.9 1004.3,236.3 1004.7,236.4 1005.0,237.0 1005.4,237.9 1005.8,236.7 1006.2,237.6 1006.6,238.0 1007.0,238.8 1007.4,239.9 1007.8,240.4 1008.2,239.7 1008.5,239.6 1008.9,240.1 1009.3,240.9 1009.7,241.4 1010.1,241.0 1010.5,241.5 1010.9,240.4 1011.3,239.9 1011.6,238.8 1012.0,239.7 1012.4,240.9 1012.8,241.5 1013.2,243.3 1013.6,242.3 1014.0,241.8 1014.4,241.0 1014.8,241.0 1015.1,241.1 1015.5,241.4 1015.9,241.3 1016.3,240.9 1016.7,242.3 1017.1,242.3 1017.5,242.8 1017.9,241.3 1018.2,240.9 1018.6,241.0 1019.0,242.1 1019.4,241.7 1019.8,241.8 1020.2,241.6 1020.6,241.7 1021.0,241.2 1021.3,241.6 1021.7,241.0 1022.1,241.1 1022.5,241.4 1022.9,241.4 1023.3,241.5 1023.7,240.8 1024.1,241.2 1024.5,240.9 1024.8,241.2 1025.2,241.9 1025.6,239.7 1026.0,239.3 1026.4,237.2 1026.8,235.8 1027.2,235.8 1027.6,234.5 1027.9,232.8 1028.3,232.3 1028.7,232.4 1029.1,230.9 1029.5,231.0 1029.9,230.5 1030.3,230.8 1030.7,230.3 1031.1,230.8 1031.4,230.3 1031.8,229.6 1032.2,229.6 1032.6,229.9 1033.0,230.4 1033.4,229.5 1033.8,228.9 1034.2,229.1 1034.5,229.4 1034.9,228.5 1035.3,226.9 1035.7,228.7 1036.1,228.9 1036.5,229.1 1036.9,231.5 1037.3,230.4 1037.6,230.8 1038.0,229.5 1038.4,230.4 1038.8,231.2 1039.2,231.2 1039.6,231.1 1040.0,231.7 1040.4,231.6 1040.8,233.5 1041.1,234.4 1041.5,234.9 1041.9,235.2 1042.3,237.0 1042.7,237.5 1043.1,236.9 1043.5,236.6 1043.9,235.9 1044.2,235.9 1044.6,236.5 1045.0,236.3 1045.4,236.2 1045.8,235.9 1046.2,235.7 1046.6,236.1 1047.0,237.0 1047.4,236.3 1047.7,237.0 1048.1,235.9 1048.5,235.5 1048.9,236.5 1049.3,235.3 1049.7,234.7 1050.1,235.0 1050.5,234.1 1050.8,233.6 1051.2,235.5 1051.6,234.7 1052.0,234.8 1052.4,234.8 1052.8,234.5 1053.2,235.5 1053.6,235.8 1054.0,236.0 1054.3,236.1 1054.7,235.6 1055.1,236.4 1055.5,236.4 1055.9,235.0 1056.3,234.4 1056.7,233.5 1057.1,234.3 1057.4,233.4 1057.8,232.5 1058.2,231.3 1058.6,230.9 1059.0,229.1 1059.4,228.8 1059.8,228.1 1060.2,227.4 1060.5,226.1 1060.9,226.1 1061.3,224.3 1061.7,223.7 1062.1,223.4 1062.5,223.0 1062.9,221.9 1063.3,220.7 1063.7,219.8 1064.0,219.6 1064.4,218.6 1064.8,218.5 1065.2,216.9 1065.6,217.1 1066.0,218.6 1066.4,215.4 1066.8,214.9 1067.1,215.6 1067.5,214.3 1067.9,214.0 1068.3,210.2 1068.7,210.1 1069.1,211.6 1069.5,209.4 1069.9,209.0 1070.3,205.7 1070.6,207.4 1071.0,208.7 1071.4,205.9 1071.8,204.9 1072.2,204.7 1072.6,206.8 1073.0,204.6 1073.4,202.4 1073.7,205.8 1074.1,203.5 1074.5,204.8 1074.9,201.8 1075.3,203.1 1075.7,204.3 1076.1,203.3 1076.5,203.7 1076.8,205.2 1077.2,204.3 1077.6,205.5 1078.0,207.4 1078.4,204.0 1078.8,205.5 1079.2,206.4 1079.6,205.8 1080.0,207.7 1080.3,208.2 1080.7,207.6 1081.1,207.5 1081.5,206.9 1081.9,202.0 1082.3,199.5 1082.7,195.0 1083.1,190.5 1083.4,188.5 1083.8,186.1 1084.2,185.7 1084.6,182.0 1085.0,180.4 1085.4,179.4 1085.8,179.7 1086.2,176.8 1086.6,174.5 1086.9,169.5 1087.3,166.6 1087.7,164.2 1088.1,158.5 1088.5,154.3 1088.9,152.2 1089.3,145.6 1089.7,141.7 1090.0,136.6 1090.4,130.1 1090.8,125.3 1091.2,124.8 1091.6,128.7 1092.0,129.8 1092.4,133.1 1092.8,139.9 1093.2,137.6 1093.5,137.3 1093.9,134.9 1094.3,131.6 1094.7,129.9 1095.1,130.7 1095.5,139.5 1095.9,148.5 1096.3,151.4 1096.6,158.4 1097.0,158.7 1097.4,161.7 1097.8,156.4 1098.2,154.1 1098.6,152.6 1099.0,151.2 1099.4,148.9 1099.7,149.2 1100.1,145.2 1100.5,144.3 1100.9,141.2 1101.3,135.5 1101.7,132.2 1102.1,131.7 1102.5,125.1 1102.9,115.5 1103.2,106.4 1103.6,99.1 1104.0,99.1 1104.4,100.9 1104.8,99.9 1105.2,92.6 1105.6,96.6 1106.0,93.4 1106.3,88.6 1106.7,80.9 1107.1,77.9 1107.5,69.8 1107.9,60.6 1108.3,59.2 1108.7,72.1 1109.1,83.7 1109.5,88.5 1109.8,95.6 1110.2,99.2 1110.6,100.0 1111.0,97.0 1111.4,95.5 1111.8,92.3 1112.2,94.6 1112.6,91.3 1112.9,89.7 1113.3,90.1 1113.7,86.1 1114.1,80.7 1114.5,73.6 1114.9,63.5 1115.3,58.9 1115.7,47.7 1116.0,45.4 1116.4,49.9 1116.8,52.5 1117.2,62.4 1117.6,69.4 1118.0,70.3 1118.4,70.5 1118.8,67.5 1119.2,71.5 1119.5,77.6 1119.9,76.8 1120.3,81.6 1120.7,83.1 1121.1,70.5 1121.5,69.2 1121.9,65.2 1122.3,61.7 1122.6,54.6 1123.0,53.5 1123.4,48.1 1123.8,54.5 1124.2,58.2 1124.6,52.5 1125.0,50.8 1125.4,53.4 1125.8,55.5 1126.1,57.0 1126.5,55.5 1126.9,45.3 1127.3,40.8 1127.7,36.3 1128.1,31.5 1128.5,33.1 1128.9,37.8 1129.2,41.2 1129.6,50.0 1130.0,50.7 1130.4,48.7 1130.8,57.5 1131.2,63.8 1131.6,69.2 1132.0,75.8 1132.3,83.4 1132.7,88.2 1133.1,79.7 1133.5,77.0 1133.9,71.4 1134.3,62.1 1134.7,56.9 1135.1,52.0 1135.5,44.1 1135.8,47.6 1136.2,48.6 1136.6,53.0 1137.0,53.5 1137.4,54.5 1137.8,56.6 1138.2,72.8 1138.6,86.1 1138.9,86.6 1139.3,88.3 1139.7,90.1 1140.1,90.9 1140.5,87.3 1140.9,95.3 1141.3,101.2 1141.7,108.2 1142.1,118.2 1142.4,124.3 1142.8,135.3 1143.2,137.5 1143.6,139.7 1144.0,139.8 1144.4,139.9 1144.8,135.8 1145.2,136.7 1145.5,133.6 1145.9,128.3 1146.3,127.0 1146.7,131.1 1147.1,131.9 1147.5,137.5 1147.9,139.0 1148.3,142.7 1148.7,146.2 1149.0,147.1 1149.4,146.4 1149.8,139.0 1150.2,138.2 1150.6,131.2 1151.0,131.7 1151.4,126.4 1151.8,125.3 1152.1,126.0 1152.5,128.5 1152.9,131.6 1153.3,138.9 1153.7,140.2 1154.1,146.6 1154.5,150.1 1154.9,152.5 1155.2,149.7 1155.6,150.9 1156.0,144.5 1156.4,142.3 1156.8,142.2 1157.2,143.7 1157.6,145.3 1158.0,145.3 1158.4,142.3 1158.7,142.7 1159.1,144.1 1159.5,143.6" fill="none" stroke="#3a6ab0" stroke-width="3.1" stroke-linejoin="round"/>
<polyline points="47.0,621.2 47.4,650.9 47.8,654.4 48.2,620.1 48.6,631.1 49.1,651.3 49.5,676.1 49.9,657.6 50.3,600.0 50.7,650.8 51.2,629.1 51.6,637.1 52.0,632.5 52.4,643.2 52.8,639.6 53.3,641.7 53.7,646.8 54.1,633.1 54.5,649.7 54.9,648.0 55.4,642.2 55.8,650.3 56.2,638.7 56.6,641.7 57.1,640.3 57.5,642.5 57.9,633.9 58.3,642.9 58.7,655.2 59.2,633.2 59.6,634.6 60.0,635.2 60.4,636.4 60.8,634.4 61.3,625.1 61.7,633.4 62.1,621.6 62.5,637.8 62.9,645.2 63.4,659.2 63.8,639.9 64.2,618.2 64.6,620.4 65.0,631.9 65.5,628.9 65.9,670.1 66.3,617.1 66.7,650.7 67.1,626.5 67.6,657.5 68.0,626.3 68.4,611.0 68.8,620.6 69.2,670.1 69.7,682.1 70.1,630.6 70.5,670.1 70.9,669.0 71.3,636.8 71.8,622.7 72.2,651.1 72.6,584.0 73.0,617.1 73.5,630.3 73.9,647.0 74.3,616.0 74.7,614.7 75.1,646.0 75.6,625.7 76.0,626.9 76.4,619.9 76.8,638.2 77.2,651.7 77.7,647.0 78.1,655.4 78.5,643.6 78.9,649.8 79.3,649.8 79.8,635.9 80.2,637.1 80.6,635.9 81.0,632.6 81.4,643.1 81.9,606.7 82.3,629.3 82.7,641.5 83.1,650.0 83.5,648.8 84.0,646.9 84.4,662.6 84.8,628.8 85.2,611.3 85.6,630.8 86.1,648.5 86.5,655.3 86.9,655.2 87.3,640.7 87.7,651.2 88.2,614.5 88.6,681.8 89.0,627.6 89.4,584.0 89.9,644.3 90.3,644.5 90.7,636.5 91.1,630.9 91.5,624.0 92.0,633.7 92.4,631.5 92.8,640.8 93.2,647.4 93.6,647.8 94.1,628.3 94.5,641.9 94.9,636.5 95.3,645.6 95.7,631.5 96.2,629.4 96.6,640.5 97.0,637.5 97.4,633.3 97.8,638.7 98.3,625.2 98.7,639.1 99.1,642.4 99.5,628.9 99.9,638.1 100.4,634.9 100.8,649.6 101.2,628.7 101.6,641.0 102.0,631.1 102.5,652.3 102.9,652.4 103.3,651.1 103.7,645.6 104.1,645.2 104.6,628.7 105.0,633.2 105.4,623.8 105.8,644.7 106.3,641.3 106.7,627.8 107.1,631.9 107.5,610.0 107.9,650.0 108.4,634.9 108.8,632.5 109.2,641.2 109.6,650.9 110.0,623.3 110.5,649.4 110.9,653.5 111.3,631.1 111.7,652.1 112.1,650.2 112.6,627.1 113.0,656.7 113.4,621.8 113.8,660.6 114.2,637.1 114.7,620.8 115.1,663.8 115.5,634.9 115.9,629.6 116.3,646.5 116.8,642.5 117.2,643.5 117.6,644.1 118.0,627.4 118.4,649.3 118.9,636.6 119.3,645.3 119.7,648.7 120.1,637.6 120.5,631.0 121.0,644.2 121.4,636.0 121.8,649.0 122.2,644.8 122.7,611.7 123.1,640.0 123.5,629.5 123.9,641.8 124.3,638.4 124.8,631.8 125.2,638.1 125.6,646.4 126.0,638.4 126.4,649.7 126.9,632.2 127.3,631.7 127.7,631.7 128.1,633.5 128.5,637.7 129.0,644.1 129.4,641.9 129.8,640.2 130.2,639.0 130.6,638.8 131.1,642.9 131.5,639.3 131.9,633.4 132.3,641.1 132.7,636.2 133.2,630.8 133.6,637.9 134.0,637.2 134.4,642.9 134.8,641.3 135.3,634.4 135.7,646.4 136.1,638.2 136.5,639.5 136.9,635.1 137.4,639.0 137.8,635.2 138.2,641.6 138.6,637.6 139.1,650.9 139.5,641.3 139.9,627.7 140.3,640.5 140.7,621.9 141.2,643.5 141.6,632.0 142.0,634.5 142.4,633.2 142.8,618.9 143.3,631.0 143.7,606.4 144.1,661.8 144.5,638.7 144.9,632.4 145.4,622.9 145.8,647.7 146.2,642.9 146.6,618.3 147.0,648.9 147.5,656.2 147.9,634.7 148.3,652.6 148.7,661.6 149.1,649.6 149.6,646.3 150.0,645.6 150.4,648.6 150.8,631.7 151.2,637.0 151.7,638.5 152.1,647.4 152.5,636.7 152.9,633.5 153.3,653.0 153.8,636.5 154.2,639.8 154.6,644.6 155.0,646.6 155.5,650.1 155.9,634.1 156.3,651.6 156.7,644.3 157.1,633.0 157.6,639.8 158.0,639.4 158.4,639.6 158.8,634.9 159.2,645.6 159.7,636.4 160.1,641.0 160.5,638.3 160.9,632.3 161.3,643.5 161.8,640.4 162.2,627.8 162.6,635.1 163.0,626.1 163.4,649.8 163.9,647.7 164.3,607.0 164.7,665.1 165.1,647.7 165.5,644.6 166.0,647.4 166.4,642.1 166.8,632.3 167.2,647.6 167.6,628.2 168.1,624.8 168.5,635.3 168.9,639.1 169.3,637.9 169.7,628.1 170.2,642.6 170.6,629.4 171.0,633.5 171.4,643.4 171.9,634.9 172.3,642.3 172.7,638.5 173.1,631.6 173.5,638.4 174.0,649.2 174.4,640.6 174.8,644.9 175.2,642.0 175.6,625.6 176.1,634.6 176.5,649.3 176.9,629.9 177.3,648.8 177.7,626.5 178.2,629.4 178.6,646.7 179.0,636.0 179.4,584.0 179.8,680.1 180.3,635.4 180.7,659.4 181.1,633.6 181.5,645.9 181.9,647.4 182.4,640.8 182.8,634.2 183.2,636.4 183.6,626.7 184.0,637.3 184.5,638.3 184.9,638.5 185.3,626.8 185.7,627.4 186.1,638.0 186.6,645.5 187.0,637.2 187.4,619.4 187.8,625.0 188.3,653.8 188.7,645.7 189.1,636.8 189.5,645.6 189.9,652.3 190.4,656.2 190.8,639.8 191.2,626.7 191.6,620.4 192.0,632.3 192.5,610.5 192.9,656.4 193.3,614.7 193.7,633.6 194.1,641.7 194.6,647.6 195.0,670.1 195.4,645.6 195.8,653.7 196.2,606.7 196.7,636.9 197.1,614.3 197.5,649.0 197.9,632.5 198.3,650.7 198.8,633.4 199.2,635.1 199.6,624.2 200.0,620.6 200.4,645.0 200.9,642.2 201.3,676.1 201.7,617.3 202.1,640.8 202.5,642.6 203.0,654.4 203.4,667.7 203.8,664.7 204.2,614.7 204.6,627.4 205.1,629.2 205.5,592.7 205.9,680.1 206.3,628.1 206.8,653.5 207.2,650.7 207.6,618.6 208.0,629.7 208.4,635.6 208.9,649.7 209.3,642.2 209.7,638.5 210.1,627.2 210.5,596.4 211.0,640.0 211.4,632.8 211.8,649.8 212.2,624.3 212.6,630.7 213.1,625.0 213.5,656.3 213.9,650.6 214.3,628.9 214.7,635.5 215.2,644.4 215.6,653.9 216.0,641.8 216.4,644.3 216.8,635.5 217.3,633.2 217.7,636.7 218.1,642.6 218.5,627.7 218.9,640.6 219.4,611.7 219.8,675.1 220.2,644.6 220.6,630.2 221.0,631.0 221.5,656.1 221.9,637.0 222.3,631.0 222.7,625.8 223.2,616.8 223.6,639.7 224.0,622.0 224.4,636.6 224.8,632.7 225.3,644.0 225.7,645.6 226.1,637.9 226.5,639.4 226.9,644.2 227.4,631.7 227.8,641.2 228.2,631.7 228.6,637.1 229.0,645.6 229.5,638.4 229.9,641.7 230.3,629.7 230.7,628.1 231.1,616.8 231.6,634.1 232.0,676.1 232.4,646.0 232.8,641.6 233.2,633.0 233.7,637.5 234.1,623.9 234.5,637.1 234.9,617.4 235.3,629.6 235.8,629.5 236.2,628.9 236.6,633.4 237.0,627.6 237.4,621.9 237.9,645.8 238.3,629.1 238.7,625.1 239.1,639.3 239.6,632.4 240.0,633.4 240.4,638.2 240.8,628.5 241.2,633.0 241.7,631.8 242.1,629.1 242.5,631.4 242.9,648.9 243.3,630.3 243.8,632.1 244.2,633.5 244.6,635.3 245.0,636.3 245.4,628.7 245.9,635.4 246.3,634.7 246.7,637.0 247.1,634.1 247.5,634.7 248.0,636.1 248.4,634.4 248.8,641.5 249.2,636.6 249.6,647.4 250.1,635.7 250.5,647.3 250.9,634.1 251.3,639.3 251.7,641.4 252.2,642.2 252.6,640.5 253.0,635.2 253.4,638.6 253.8,635.2 254.3,641.7 254.7,641.3 255.1,645.8 255.5,640.0 256.0,633.3 256.4,636.3 256.8,642.5 257.2,637.7 257.6,646.4 258.1,635.3 258.5,634.3 258.9,646.6 259.3,632.9 259.7,641.8 260.2,638.1 260.6,638.5 261.0,645.1 261.4,639.0 261.8,647.5 262.3,628.5 262.7,640.0 263.1,637.8 263.5,636.3 263.9,639.4 264.4,626.1 264.8,632.2 265.2,645.9 265.6,637.8 266.0,641.8 266.5,639.3 266.9,651.4 267.3,632.2 267.7,633.8 268.1,632.3 268.6,644.3 269.0,636.4 269.4,635.5 269.8,641.2 270.2,636.7 270.7,639.2 271.1,640.9 271.5,643.3 271.9,637.7 272.4,637.9 272.8,632.5 273.2,631.7 273.6,643.9 274.0,637.0 274.5,642.4 274.9,634.8 275.3,634.2 275.7,634.9 276.1,644.9 276.6,645.2 277.0,637.1 277.4,639.0 277.8,648.2 278.2,634.5 278.7,633.2 279.1,644.1 279.5,636.3 279.9,633.1 280.3,646.9 280.8,631.6 281.2,639.7 281.6,640.4 282.0,643.2 282.4,652.4 282.9,639.0 283.3,645.0 283.7,634.0 284.1,633.6 284.5,640.8 285.0,642.2 285.4,636.9 285.8,640.3 286.2,639.8 286.6,635.4 287.1,646.4 287.5,646.6 287.9,630.9 288.3,629.6 288.8,651.9 289.2,635.3 289.6,645.2 290.0,636.7 290.4,638.4 290.9,636.4 291.3,640.3 291.7,633.4 292.1,630.9 292.5,629.3 293.0,632.8 293.4,642.9 293.8,623.9 294.2,636.3 294.6,633.3 295.1,635.7 295.5,649.5 295.9,636.5 296.3,641.5 296.7,642.5 297.2,644.7 297.6,675.1 298.0,638.3 298.4,626.3 298.8,650.4 299.3,630.9 299.7,632.6 300.1,646.8 300.5,611.7 300.9,633.4 301.4,648.7 301.8,624.0 302.2,638.5 302.6,637.8 303.0,641.5 303.5,649.9 303.9,638.2 304.3,627.7 304.7,622.1 305.2,639.7 305.6,636.9 306.0,638.0 306.4,635.9 306.8,654.3 307.3,637.7 307.7,632.0 308.1,641.4 308.5,629.3 308.9,628.6 309.4,642.5 309.8,630.0 310.2,649.3 310.6,630.5 311.0,640.1 311.5,638.6 311.9,629.5 312.3,637.0 312.7,630.1 313.1,632.0 313.6,638.4 314.0,634.2 314.4,649.3 314.8,632.4 315.2,625.1 315.7,637.2 316.1,648.7 316.5,633.3 316.9,648.1 317.3,621.1 317.8,644.7 318.2,647.2 318.6,646.8 319.0,638.3 319.4,625.9 319.9,633.7 320.3,650.4 320.7,619.9 321.1,648.5 321.6,633.3 322.0,625.3 322.4,619.0 322.8,664.9 323.2,636.5 323.7,657.9 324.1,622.7 324.5,662.1 324.9,655.9 325.3,658.9 325.8,635.0 326.2,643.2 326.6,643.6 327.0,645.7 327.4,659.8 327.9,644.6 328.3,638.3 328.7,644.1 329.1,624.6 329.5,650.6 330.0,584.0 330.4,645.9 330.8,583.7 331.2,701.1 331.6,624.1 332.1,649.6 332.5,700.1 332.9,634.6 333.3,637.9 333.7,655.8 334.2,652.6 334.6,629.8 335.0,652.8 335.4,610.4 335.8,666.4 336.3,633.5 336.7,624.8 337.1,646.2 337.5,643.6 338.0,636.5 338.4,631.6 338.8,632.3 339.2,654.4 339.6,626.3 340.1,623.3 340.5,628.3 340.9,664.2 341.3,662.4 341.7,628.9 342.2,628.7 342.6,634.8 343.0,638.1 343.4,634.3 343.8,616.5 344.3,620.7 344.7,666.4 345.1,636.8 345.5,602.0 345.9,631.5 346.4,663.8 346.8,630.7 347.2,635.4 347.6,652.5 348.0,635.3 348.5,638.8 348.9,652.9 349.3,625.0 349.7,642.7 350.1,641.9 350.6,627.1 351.0,635.7 351.4,644.3 351.8,628.3 352.2,643.4 352.7,626.1 353.1,637.4 353.5,625.4 353.9,626.5 354.4,625.2 354.8,636.1 355.2,643.6 355.6,632.3 356.0,632.3 356.5,645.8 356.9,638.9 357.3,642.6 357.7,641.9 358.1,639.2 358.6,635.9 359.0,640.5 359.4,632.3 359.8,673.8 360.2,631.2 360.7,641.8 361.1,639.0 361.5,637.0 361.9,657.1 362.3,605.0 362.8,646.7 363.2,627.1 363.6,641.8 364.0,634.0 364.4,628.3 364.9,648.9 365.3,629.0 365.7,643.1 366.1,637.9 366.5,627.4 367.0,646.0 367.4,643.1 367.8,643.6 368.2,636.5 368.6,630.8 369.1,633.7 369.5,640.6 369.9,644.4 370.3,644.7 370.8,641.8 371.2,638.7 371.6,642.8 372.0,641.7 372.4,626.6 372.9,642.8 373.3,637.9 373.7,648.1 374.1,630.5 374.5,642.7 375.0,638.4 375.4,620.7 375.8,638.6 376.2,644.8 376.6,631.5 377.1,643.7 377.5,636.4 377.9,634.3 378.3,652.7 378.7,640.4 379.2,639.0 379.6,630.8 380.0,640.2 380.4,640.3 380.8,640.7 381.3,636.5 381.7,641.7 382.1,637.0 382.5,645.3 382.9,644.8 383.4,641.2 383.8,641.8 384.2,639.2 384.6,636.8 385.0,632.4 385.5,631.9 385.9,645.1 386.3,640.7 386.7,636.2 387.1,637.1 387.6,633.8 388.0,639.8 388.4,646.3 388.8,640.3 389.3,640.8 389.7,635.7 390.1,641.0 390.5,638.4 390.9,643.4 391.4,644.9 391.8,642.2 392.2,637.8 392.6,635.0 393.0,641.0 393.5,635.5 393.9,635.8 394.3,636.9 394.7,646.2 395.1,635.2 395.6,638.7 396.0,640.4 396.4,636.6 396.8,632.4 397.2,637.7 397.7,637.1 398.1,632.7 398.5,637.6 398.9,640.5 399.3,637.7 399.8,637.1 400.2,645.4 400.6,644.7 401.0,639.1 401.4,629.2 401.9,640.7 402.3,640.6 402.7,630.6 403.1,635.8 403.5,656.7 404.0,640.1 404.4,628.6 404.8,636.6 405.2,640.4 405.7,638.6 406.1,645.5 406.5,628.4 406.9,637.9 407.3,636.8 407.8,642.1 408.2,635.3 408.6,635.1 409.0,635.4 409.4,636.6 409.9,643.9 410.3,635.2 410.7,640.1 411.1,633.5 411.5,652.8 412.0,634.6 412.4,637.8 412.8,650.5 413.2,644.2 413.6,641.8 414.1,637.2 414.5,647.3 414.9,637.1 415.3,646.0 415.7,627.0 416.2,666.4 416.6,653.3 417.0,647.6 417.4,628.3 417.8,643.1 418.3,632.2 418.7,640.5 419.1,641.2 419.5,628.7 419.9,625.4 420.4,630.7 420.8,641.3 421.2,653.9 421.6,634.0 422.1,636.5 422.5,651.6 422.9,608.7 423.3,645.9 423.7,618.7 424.2,647.3 424.6,628.5 425.0,652.4 425.4,645.8 425.8,645.9 426.3,631.2 426.7,627.3 427.1,631.7 427.5,595.0 427.9,678.4 428.4,666.4 428.8,637.3 429.2,632.8 429.6,632.5 430.0,634.4 430.5,611.7 430.9,633.0 431.3,640.7 431.7,613.1 432.1,643.1 432.6,644.4 433.0,632.4 433.4,649.0 433.8,620.4 434.2,649.5 434.7,639.4 435.1,635.4 435.5,625.3 435.9,641.7 436.3,629.8 436.8,645.5 437.2,631.3 437.6,642.0 438.0,642.0 438.5,633.3 438.9,634.5 439.3,626.3 439.7,636.2 440.1,631.0 440.6,632.8 441.0,635.0 441.4,635.3 441.8,643.2 442.2,633.5 442.7,648.2 443.1,641.6 443.5,637.9 443.9,624.4 444.3,663.8 444.8,635.8 445.2,642.5 445.6,637.0 446.0,635.0 446.4,646.2 446.9,626.4 447.3,640.4 447.7,645.2 448.1,643.3 448.5,632.0 449.0,630.5 449.4,630.7 449.8,647.9 450.2,637.3 450.6,637.2 451.1,638.4 451.5,636.4 451.9,642.7 452.3,640.0 452.7,644.0 453.2,631.3 453.6,632.5 454.0,638.9 454.4,629.8 454.9,641.3 455.3,629.4 455.7,649.1 456.1,634.7 456.5,634.8 457.0,628.4 457.4,630.2 457.8,628.6 458.2,638.0 458.6,641.6 459.1,637.2 459.5,644.0 459.9,641.9 460.3,640.6 460.7,633.5 461.2,642.0 461.6,635.8 462.0,638.1 462.4,628.9 462.8,646.0 463.3,634.1 463.7,638.5 464.1,643.5 464.5,630.6 464.9,639.7 465.4,635.7 465.8,639.6 466.2,644.7 466.6,638.9 467.0,630.5 467.5,642.1 467.9,638.3 468.3,639.8 468.7,640.0 469.1,632.5 469.6,639.4 470.0,628.4 470.4,647.0 470.8,636.3 471.3,637.2 471.7,645.0 472.1,640.6 472.5,634.7 472.9,644.6 473.4,643.3 473.8,628.3 474.2,642.8 474.6,640.2 475.0,643.6 475.5,631.4 475.9,641.5 476.3,631.3 476.7,638.8 477.1,638.0 477.6,628.6 478.0,639.7 478.4,630.5 478.8,648.1 479.2,633.1 479.7,647.0 480.1,636.5 480.5,648.0 480.9,636.0 481.3,639.2 481.8,631.6 482.2,643.7 482.6,629.9 483.0,657.4 483.4,652.4 483.9,638.1 484.3,644.5 484.7,630.4 485.1,634.7 485.5,644.5 486.0,635.8 486.4,636.5 486.8,643.0 487.2,634.4 487.7,643.1 488.1,640.1 488.5,643.0 488.9,639.8 489.3,629.0 489.8,642.0 490.2,637.0 490.6,635.5 491.0,628.6 491.4,640.9 491.9,636.7 492.3,632.5 492.7,645.1 493.1,632.2 493.5,630.1 494.0,633.8 494.4,641.5 494.8,642.0 495.2,632.3 495.6,635.9 496.1,640.8 496.5,635.6 496.9,637.5 497.3,632.2 497.7,645.2 498.2,628.0 498.6,640.0 499.0,634.7 499.4,629.3 499.8,628.4 500.3,646.8 500.7,651.4 501.1,632.0 501.5,643.2 501.9,637.8 502.4,636.8 502.8,655.9 503.2,651.1 503.6,610.0 504.1,632.8 504.5,643.7 504.9,644.7 505.3,637.3 505.7,619.0 506.2,638.1 506.6,630.8 507.0,621.9 507.4,623.4 507.8,619.0 508.3,656.0 508.7,632.7 509.1,642.0 509.5,633.7 509.9,611.3 510.4,605.0 510.8,623.8 511.2,692.4 511.6,644.6 512.0,635.1 512.5,642.2 512.9,627.5 513.3,636.9 513.7,621.8 514.1,661.1 514.6,670.1 515.0,637.9 515.4,649.8 515.8,663.4 516.2,639.4 516.7,640.4 517.1,646.8 517.5,613.0 517.9,635.1 518.3,628.8 518.8,618.8 519.2,633.2 519.6,633.4 520.0,616.7 520.5,655.5 520.9,644.7 521.3,649.6 521.7,644.7 522.1,630.6 522.6,631.1 523.0,625.7 523.4,637.8 523.8,630.1 524.2,624.5 524.7,642.9 525.1,670.1 525.5,630.9 525.9,651.9 526.3,642.6 526.8,632.5 527.2,641.1 527.6,643.9 528.0,636.8 528.4,616.7 528.9,628.9 529.3,623.7 529.7,634.6 530.1,641.8 530.5,648.6 531.0,632.0 531.4,634.5 531.8,644.3 532.2,623.8 532.6,654.6 533.1,646.9 533.5,628.5 533.9,625.6 534.3,639.0 534.7,649.2 535.2,631.0 535.6,643.7 536.0,621.3 536.4,636.7 536.9,632.2 537.3,639.4 537.7,640.3 538.1,643.7 538.5,638.6 539.0,671.1 539.4,627.2 539.8,649.6 540.2,643.4 540.6,620.4 541.1,653.5 541.5,646.8 541.9,641.4 542.3,643.5 542.7,634.1 543.2,614.0 543.6,637.7 544.0,631.8 544.4,642.2 544.8,635.6 545.3,638.1 545.7,635.9 546.1,650.4 546.5,634.1 546.9,644.3 547.4,625.2 547.8,649.8 548.2,629.3 548.6,641.7 549.0,649.2 549.5,643.3 549.9,617.7 550.3,636.1 550.7,635.0 551.1,645.8 551.6,620.0 552.0,655.8 552.4,644.3 552.8,621.6 553.2,631.2 553.7,628.0 554.1,631.1 554.5,648.3 554.9,630.8 555.4,627.3 555.8,625.5 556.2,622.4 556.6,634.8 557.0,617.2 557.5,632.2 557.9,606.7 558.3,624.6 558.7,651.7 559.1,661.1 559.6,620.4 560.0,632.8 560.4,661.1 560.8,666.3 561.2,640.7 561.7,638.9 562.1,668.6 562.5,629.4 562.9,618.3 563.3,610.9 563.8,666.1 564.2,630.9 564.6,642.6 565.0,614.4 565.4,617.2 565.9,645.9 566.3,665.1 566.7,640.0 567.1,628.0 567.5,628.2 568.0,631.6 568.4,637.6 568.8,649.2 569.2,649.2 569.6,646.3 570.1,644.5 570.5,624.7 570.9,626.6 571.3,664.6 571.8,602.7 572.2,633.8 572.6,657.2 573.0,633.0 573.4,666.3 573.9,634.8 574.3,617.5 574.7,612.2 575.1,620.8 575.5,623.2 576.0,663.1 576.4,673.8 576.8,640.6 577.2,635.1 577.6,639.4 578.1,638.9 578.5,655.1 578.9,632.1 579.3,649.2 579.7,655.5 580.2,630.9 580.6,656.2 581.0,625.4 581.4,635.1 581.8,648.5 582.3,616.5 582.7,636.3 583.1,625.5 583.5,664.5 583.9,620.2 584.4,642.9 584.8,648.1 585.2,648.8 585.6,651.2 586.0,670.1 586.5,667.3 586.9,648.9 587.3,631.9 587.7,638.2 588.2,645.4 588.6,637.1 589.0,650.8 589.4,655.8 589.8,671.1 590.3,643.8 590.7,656.6 591.1,585.0 591.5,617.7 591.9,634.1 592.4,657.0 592.8,643.2 593.2,635.7 593.6,618.8 594.0,616.9 594.5,635.7 594.9,635.4 595.3,647.9 595.7,633.5 596.1,641.7 596.6,653.6 597.0,610.5 597.4,644.6 597.8,623.2 598.2,651.6 598.7,658.8 599.1,649.4 599.5,628.6 599.9,601.7 600.3,636.2 600.8,614.7 601.2,643.6 601.6,628.3 602.0,652.6 602.4,653.6 602.9,647.8 603.3,625.7 603.7,642.1 604.1,639.1 604.6,660.2 605.0,643.1 605.4,606.7 605.8,640.2 606.2,645.3 606.7,629.7 607.1,647.7 607.5,666.5 607.9,630.8 608.3,639.4 608.8,632.0 609.2,633.6 609.6,654.0 610.0,631.8 610.4,651.9 610.9,649.9 611.3,632.6 611.7,640.3 612.1,631.0 612.5,651.1 613.0,626.4 613.4,630.8 613.8,616.6 614.2,646.3 614.6,629.5 615.1,654.1 615.5,621.8 615.9,633.2 616.3,598.4 616.7,610.7 617.2,681.1 617.6,623.5 618.0,608.7 618.4,653.4 618.8,635.2 619.3,635.0 619.7,630.0 620.1,641.8 620.5,626.5 621.0,611.9 621.4,608.8 621.8,635.8 622.2,640.4 622.6,619.5 623.1,624.8 623.5,655.8 623.9,641.9 624.3,616.9 624.7,630.7 625.2,637.6 625.6,634.4 626.0,644.6 626.4,647.3 626.8,580.7 627.3,627.2 627.7,660.5 628.1,637.4 628.5,622.1 628.9,643.9 629.4,652.5 629.8,642.2 630.2,615.3 630.6,641.0 631.0,613.2 631.5,643.7 631.9,648.0 632.3,610.2 632.7,630.6 633.1,630.0 633.6,650.4 634.0,643.5 634.4,646.9 634.8,637.5 635.2,627.1 635.7,641.0 636.1,636.5 636.5,670.0 636.9,644.3 637.4,641.3 637.8,620.3 638.2,636.2 638.6,621.7 639.0,636.4 639.5,673.8 639.9,625.4 640.3,636.9 640.7,630.4 641.1,600.0 641.6,645.9 642.0,625.3 642.4,656.1 642.8,637.0 643.2,644.8 643.7,660.2 644.1,650.9 644.5,654.9 644.9,637.8 645.3,659.7 645.8,635.7 646.2,606.7 646.6,636.2 647.0,648.9 647.4,654.0 647.9,616.1 648.3,659.6 648.7,646.5 649.1,625.0 649.5,629.0 650.0,627.3 650.4,626.9 650.8,617.1 651.2,565.0 651.6,697.1 652.1,631.0 652.5,628.4 652.9,619.2 653.3,606.7 653.8,666.4 654.2,670.1 654.6,643.3 655.0,626.9 655.4,619.4 655.9,653.8 656.3,623.1 656.7,652.2 657.1,697.1 657.5,632.4 658.0,646.0 658.4,646.8 658.8,611.3 659.2,628.8 659.6,656.9 660.1,670.1 660.5,637.7 660.9,631.5 661.3,610.9 661.7,670.1 662.2,666.7 662.6,600.0 663.0,649.8 663.4,617.1 663.8,621.8 664.3,631.5 664.7,666.6 665.1,627.4 665.5,614.2 665.9,646.1 666.4,670.1 666.8,670.1 667.2,654.4 667.6,693.8 668.0,613.5 668.5,622.5 668.9,624.0 669.3,635.2 669.7,635.9 670.2,658.8 670.6,637.2 671.0,648.7 671.4,647.1 671.8,632.9 672.3,631.2 672.7,642.4 673.1,641.1 673.5,641.3 673.9,627.1 674.4,634.2 674.8,637.1 675.2,649.7 675.6,656.3 676.0,655.4 676.5,654.9 676.9,670.1 677.3,591.4 677.7,721.8 678.1,651.7 678.6,646.4 679.0,615.2 679.4,645.7 679.8,627.2 680.2,640.0 680.7,648.7 681.1,665.0 681.5,653.5 681.9,619.2 682.3,657.2 682.8,663.7 683.2,653.2 683.6,651.0 684.0,657.2 684.4,642.9 684.9,646.0 685.3,659.5 685.7,656.0 686.1,629.1 686.6,644.7 687.0,623.4 687.4,630.8 687.8,640.5 688.2,646.8 688.7,623.5 689.1,647.8 689.5,644.9 689.9,608.7 690.3,618.4 690.8,628.1 691.2,645.8 691.6,627.1 692.0,637.0 692.4,618.6 692.9,691.1 693.3,647.7 693.7,628.0 694.1,645.0 694.5,658.5 695.0,654.4 695.4,643.6 695.8,653.7 696.2,645.9 696.6,642.5 697.1,615.5 697.5,631.6 697.9,635.4 698.3,657.1 698.7,683.8 699.2,619.4 699.6,629.5 700.0,616.9 700.4,655.5 700.8,643.5 701.3,661.0 701.7,634.4 702.1,630.0 702.5,632.4 703.0,638.8 703.4,636.2 703.8,635.0 704.2,636.0 704.6,596.4 705.1,642.3 705.5,641.1 705.9,645.4 706.3,643.9 706.7,631.5 707.2,632.1 707.6,634.0 708.0,623.0 708.4,649.3 708.8,650.0 709.3,631.0 709.7,629.6 710.1,625.6 710.5,647.7 710.9,638.6 711.4,643.1 711.8,650.9 712.2,632.1 712.6,638.4 713.0,637.8 713.5,643.0 713.9,632.6 714.3,642.1 714.7,641.2 715.1,640.2 715.6,627.8 716.0,648.0 716.4,647.9 716.8,636.8 717.2,645.0 717.7,628.5 718.1,641.6 718.5,659.0 718.9,641.5 719.3,643.4 719.8,647.6 720.2,642.4 720.6,626.2 721.0,647.8 721.5,642.4 721.9,646.3 722.3,653.1 722.7,652.9 723.1,635.2 723.6,638.5 724.0,640.1 724.4,630.2 724.8,640.1 725.2,647.2 725.7,635.7 726.1,641.3 726.5,644.3 726.9,639.0 727.3,629.7 727.8,627.5 728.2,671.1 728.6,627.6 729.0,642.3 729.4,642.7 729.9,629.4 730.3,647.0 730.7,637.3 731.1,630.9 731.5,633.7 732.0,617.4 732.4,639.1 732.8,645.3 733.2,632.6 733.6,670.1 734.1,648.9 734.5,654.5 734.9,641.0 735.3,630.2 735.7,631.4 736.2,636.7 736.6,630.3 737.0,634.4 737.4,628.2 737.9,642.0 738.3,637.0 738.7,646.2 739.1,651.3 739.5,632.0 740.0,637.2 740.4,638.2 740.8,630.7 741.2,624.2 741.6,640.7 742.1,637.8 742.5,606.4 742.9,644.9 743.3,641.1 743.7,639.3 744.2,644.7 744.6,640.8 745.0,645.5 745.4,639.0 745.8,635.2 746.3,635.2 746.7,629.1 747.1,656.4 747.5,644.1 747.9,635.7 748.4,628.3 748.8,640.1 749.2,644.0 749.6,627.9 750.0,649.0 750.5,633.8 750.9,632.9 751.3,637.5 751.7,641.3 752.1,668.4 752.6,645.9 753.0,647.4 753.4,634.4 753.8,647.8 754.3,642.0 754.7,651.9 755.1,629.7 755.5,621.2 755.9,626.9 756.4,626.9 756.8,646.6 757.2,642.9 757.6,634.1 758.0,633.2 758.5,643.1 758.9,634.9 759.3,632.5 759.7,630.2 760.1,643.6 760.6,648.3 761.0,620.2 761.4,636.8 761.8,640.2 762.2,623.0 762.7,636.1 763.1,633.3 763.5,637.1 763.9,640.3 764.3,633.2 764.8,630.1 765.2,662.4 765.6,635.0 766.0,635.7 766.4,633.1 766.9,635.7 767.3,631.8 767.7,648.7 768.1,650.6 768.5,633.5 769.0,651.3 769.4,652.3 769.8,630.6 770.2,644.3 770.7,643.1 771.1,644.4 771.5,645.5 771.9,640.9 772.3,641.5 772.8,629.1 773.2,640.9 773.6,638.2 774.0,645.7 774.4,634.9 774.9,639.5 775.3,640.0 775.7,643.4 776.1,642.4 776.5,636.6 777.0,637.9 777.4,641.6 777.8,637.0 778.2,642.8 778.6,641.0 779.1,643.1 779.5,637.8 779.9,635.2 780.3,634.0 780.7,640.3 781.2,615.0 781.6,634.0 782.0,632.0 782.4,641.4 782.8,634.9 783.3,641.6 783.7,638.5 784.1,636.8 784.5,640.2 784.9,635.2 785.4,639.4 785.8,646.1 786.2,635.6 786.6,633.3 787.1,635.6 787.5,633.9 787.9,634.1 788.3,645.4 788.7,640.0 789.2,637.0 789.6,638.3 790.0,644.8 790.4,638.3 790.8,641.3 791.3,644.9 791.7,641.6 792.1,631.2 792.5,616.5 792.9,649.7 793.4,622.3 793.8,645.7 794.2,655.5 794.6,660.6 795.0,620.6 795.5,650.5 795.9,614.2 796.3,687.4 796.7,636.8 797.1,652.6 797.6,638.3 798.0,633.3 798.4,643.6 798.8,687.4 799.2,639.3 799.7,617.0 800.1,605.0 800.5,639.0 800.9,642.0 801.3,625.0 801.8,650.5 802.2,614.3 802.6,654.8 803.0,656.6 803.5,647.4 803.9,661.4 804.3,659.5 804.7,636.4 805.1,623.1 805.6,638.1 806.0,648.3 806.4,645.3 806.8,642.2 807.2,620.7 807.7,638.0 808.1,650.7 808.5,626.2 808.9,623.5 809.3,648.7 809.8,631.9 810.2,606.0 810.6,660.6 811.0,624.6 811.4,631.5 811.9,630.1 812.3,639.3 812.7,648.9 813.1,626.3 813.5,633.5 814.0,650.7 814.4,652.6 814.8,637.3 815.2,644.2 815.6,630.5 816.1,624.0 816.5,631.8 816.9,639.8 817.3,646.0 817.7,653.3 818.2,641.6 818.6,670.1 819.0,651.0 819.4,631.3 819.9,643.7 820.3,626.2 820.7,641.7 821.1,633.8 821.5,638.6 822.0,638.0 822.4,641.2 822.8,636.3 823.2,645.4 823.6,631.4 824.1,631.7 824.5,629.5 824.9,643.8 825.3,650.5 825.7,644.6 826.2,633.7 826.6,641.9 827.0,639.8 827.4,644.9 827.8,644.1 828.3,648.8 828.7,625.5 829.1,637.4 829.5,611.7 829.9,636.4 830.4,635.0 830.8,645.9 831.2,630.9 831.6,649.9 832.0,629.9 832.5,632.6 832.9,640.9 833.3,624.7 833.7,638.6 834.1,646.7 834.6,634.5 835.0,644.4 835.4,632.0 835.8,635.7 836.3,643.1 836.7,630.2 837.1,629.3 837.5,667.4 837.9,633.7 838.4,652.8 838.8,634.0 839.2,623.9 839.6,643.2 840.0,648.4 840.5,633.4 840.9,639.6 841.3,637.3 841.7,634.3 842.1,640.2 842.6,643.5 843.0,646.1 843.4,648.0 843.8,649.8 844.2,640.5 844.7,641.5 845.1,630.2 845.5,632.2 845.9,631.1 846.3,642.8 846.8,647.7 847.2,641.9 847.6,642.4 848.0,626.7 848.4,630.7 848.9,648.0 849.3,629.0 849.7,651.0 850.1,636.6 850.5,632.7 851.0,632.4 851.4,629.7 851.8,633.0 852.2,640.9 852.7,586.4 853.1,641.1 853.5,640.4 853.9,624.9 854.3,641.3 854.8,636.0 855.2,641.3 855.6,627.7 856.0,650.1 856.4,638.3 856.9,640.7 857.3,647.6 857.7,628.5 858.1,635.0 858.5,633.3 859.0,644.4 859.4,649.4 859.8,639.3 860.2,630.4 860.6,641.1 861.1,639.6 861.5,637.2 861.9,648.5 862.3,639.0 862.7,641.5 863.2,634.2 863.6,637.1 864.0,635.0 864.4,646.1 864.8,636.9 865.3,637.6 865.7,613.5 866.1,660.9 866.5,641.6 866.9,631.1 867.4,615.9 867.8,642.7 868.2,623.4 868.6,593.7 869.1,626.6 869.5,637.4 869.9,636.9 870.3,640.7 870.7,622.0 871.2,631.9 871.6,651.2 872.0,636.5 872.4,649.5 872.8,658.9 873.3,654.5 873.7,596.0 874.1,638.6 874.5,649.1 874.9,627.4 875.4,632.0 875.8,644.5 876.2,655.4 876.6,623.6 877.0,644.0 877.5,648.7 877.9,640.5 878.3,627.5 878.7,671.1 879.1,628.7 879.6,663.3 880.0,635.4 880.4,634.9 880.8,635.3 881.2,641.7 881.7,664.3 882.1,643.2 882.5,630.7 882.9,642.2 883.3,659.2 883.8,650.7 884.2,641.8 884.6,634.8 885.0,662.2 885.4,650.1 885.9,651.8 886.3,648.1 886.7,628.4 887.1,633.6 887.6,655.4 888.0,637.0 888.4,639.9 888.8,600.4 889.2,675.1 889.7,635.8 890.1,645.3 890.5,616.6 890.9,639.6 891.3,654.2 891.8,635.2 892.2,649.3 892.6,656.4 893.0,649.4 893.4,636.9 893.9,647.7 894.3,640.4 894.7,632.7 895.1,649.6 895.5,632.7 896.0,623.7 896.4,683.8 896.8,631.1 897.2,639.2 897.6,648.4 898.1,628.5 898.5,625.6 898.9,653.8 899.3,637.2 899.7,647.8 900.2,628.8 900.6,640.7 901.0,626.7 901.4,656.8 901.8,630.5 902.3,625.0 902.7,642.7 903.1,634.1 903.5,641.7 904.0,648.1 904.4,629.6 904.8,611.0 905.2,627.2 905.6,612.4 906.1,633.6 906.5,639.8 906.9,641.0 907.3,642.6 907.7,636.0 908.2,638.0 908.6,634.9 909.0,629.2 909.4,633.3 909.8,618.8 910.3,654.0 910.7,650.6 911.1,661.1 911.5,642.7 911.9,636.6 912.4,615.5 912.8,622.1 913.2,637.1 913.6,639.2 914.0,618.6 914.5,631.1 914.9,633.8 915.3,634.3 915.7,650.1 916.1,613.4 916.6,624.7 917.0,613.7 917.4,615.0 917.8,647.8 918.2,653.5 918.7,638.6 919.1,647.5 919.5,633.0 919.9,640.8 920.4,646.0 920.8,635.5 921.2,641.1 921.6,629.6 922.0,631.5 922.5,639.0 922.9,617.5 923.3,645.1 923.7,639.9 924.1,640.6 924.6,640.0 925.0,642.6 925.4,637.8 925.8,675.1 926.2,625.5 926.7,635.1 927.1,647.6 927.5,637.6 927.9,651.4 928.3,635.1 928.8,640.6 929.2,647.1 929.6,642.8 930.0,639.1 930.4,655.9 930.9,634.4 931.3,644.7 931.7,635.1 932.1,635.6 932.5,645.0 933.0,651.2 933.4,621.8 933.8,641.6 934.2,626.6 934.6,637.7 935.1,633.9 935.5,641.9 935.9,633.2 936.3,634.2 936.8,634.8 937.2,633.1 937.6,645.6 938.0,657.1 938.4,652.3 938.9,661.1 939.3,640.7 939.7,585.7 940.1,636.1 940.5,622.4 941.0,634.8 941.4,632.3 941.8,623.1 942.2,638.4 942.6,649.8 943.1,622.8 943.5,648.0 943.9,635.1 944.3,629.2 944.7,649.2 945.2,625.7 945.6,628.8 946.0,640.1 946.4,636.2 946.8,647.3 947.3,641.5 947.7,635.7 948.1,642.7 948.5,631.2 948.9,644.0 949.4,645.6 949.8,629.2 950.2,630.5 950.6,633.9 951.0,637.1 951.5,628.6 951.9,632.7 952.3,637.6 952.7,648.7 953.2,631.7 953.6,632.5 954.0,640.4 954.4,655.5 954.8,635.1 955.3,640.8 955.7,643.3 956.1,631.7 956.5,635.2 956.9,644.0 957.4,647.0 957.8,629.6 958.2,636.1 958.6,636.5 959.0,645.5 959.5,631.1 959.9,640.5 960.3,652.8 960.7,643.9 961.1,605.0 961.6,634.2 962.0,632.0 962.4,642.6 962.8,634.2 963.2,626.5 963.7,636.8 964.1,640.4 964.5,645.7 964.9,645.0 965.3,642.6 965.8,648.2 966.2,629.5 966.6,641.1 967.0,649.0 967.4,629.5 967.9,645.9 968.3,630.7 968.7,639.1 969.1,634.5 969.6,644.2 970.0,638.5 970.4,638.9 970.8,635.3 971.2,650.4 971.7,633.2 972.1,643.1 972.5,645.1 972.9,623.9 973.3,638.1 973.8,606.7 974.2,645.0 974.6,641.8 975.0,637.8 975.4,653.5 975.9,633.4 976.3,649.7 976.7,635.6 977.1,637.1 977.5,634.6 978.0,624.1 978.4,647.3 978.8,656.9 979.2,657.1 979.6,635.8 980.1,630.9 980.5,635.1 980.9,637.0 981.3,646.4 981.7,631.2 982.2,637.5 982.6,622.6 983.0,648.8 983.4,657.1 983.8,632.1 984.3,647.2 984.7,631.5 985.1,638.1 985.5,631.0 986.0,637.0 986.4,645.8 986.8,646.4 987.2,629.9 987.6,659.4 988.1,626.5 988.5,612.9 988.9,623.1 989.3,613.5 989.7,637.3 990.2,642.4 990.6,646.2 991.0,645.3 991.4,637.0 991.8,663.1 992.3,624.8 992.7,642.0 993.1,661.0 993.5,657.4 993.9,662.1 994.4,620.7 994.8,645.2 995.2,632.6 995.6,624.5 996.0,617.0 996.5,661.0 996.9,637.9 997.3,619.6 997.7,798.5 998.1,612.5 998.6,590.4 999.0,645.4 999.4,624.6 999.8,632.0 1000.2,647.5 1000.7,626.2 1001.1,592.7 1001.5,624.5 1001.9,632.7 1002.4,624.9 1002.8,619.8 1003.2,646.0 1003.6,662.7 1004.0,658.1 1004.5,654.7 1004.9,642.6 1005.3,657.4 1005.7,646.1 1006.1,614.9 1006.6,617.1 1007.0,670.1 1007.4,631.3 1007.8,664.2 1008.2,606.7 1008.7,660.9 1009.1,657.5 1009.5,643.9 1009.9,659.0 1010.3,632.8 1010.8,631.9 1011.2,627.5 1011.6,612.1 1012.0,626.7 1012.4,650.3 1012.9,606.7 1013.3,637.5 1013.7,613.1 1014.1,639.9 1014.5,647.4 1015.0,641.1 1015.4,636.0 1015.8,629.6 1016.2,618.5 1016.6,625.5 1017.1,626.3 1017.5,595.4 1017.9,621.9 1018.3,620.1 1018.8,625.8 1019.2,625.1 1019.6,644.4 1020.0,644.9 1020.4,655.8 1020.9,645.9 1021.3,624.3 1021.7,635.3 1022.1,640.4 1022.5,606.7 1023.0,615.5 1023.4,666.1 1023.8,644.1 1024.2,639.5 1024.6,644.5 1025.1,640.6 1025.5,630.6 1025.9,633.9 1026.3,640.8 1026.7,638.9 1027.2,638.5 1027.6,641.8 1028.0,646.8 1028.4,629.1 1028.8,620.8 1029.3,630.9 1029.7,639.3 1030.1,649.6 1030.5,629.4 1030.9,638.4 1031.4,609.0 1031.8,634.6 1032.2,648.9 1032.6,631.2 1033.0,631.3 1033.5,649.1 1033.9,637.7 1034.3,634.7 1034.7,639.5 1035.2,635.1 1035.6,641.6 1036.0,644.0 1036.4,652.3 1036.8,628.3 1037.3,649.3 1037.7,641.7 1038.1,642.6 1038.5,640.6 1038.9,638.3 1039.4,635.7 1039.8,640.5 1040.2,643.0 1040.6,636.8 1041.0,632.7 1041.5,632.4 1041.9,640.1 1042.3,632.0 1042.7,640.3 1043.1,635.4 1043.6,636.3 1044.0,639.7 1044.4,636.8 1044.8,629.3 1045.2,653.6 1045.7,634.8 1046.1,646.6 1046.5,628.5 1046.9,651.5 1047.3,637.1 1047.8,633.4 1048.2,645.6 1048.6,628.9 1049.0,641.2 1049.4,635.5 1049.9,651.3 1050.3,647.7 1050.7,643.4 1051.1,641.0 1051.6,633.0 1052.0,634.9 1052.4,631.7 1052.8,647.2 1053.2,621.3 1053.7,636.2 1054.1,619.7 1054.5,644.4 1054.9,643.7 1055.3,635.9 1055.8,639.2 1056.2,601.4 1056.6,645.2 1057.0,640.1 1057.4,659.8 1057.9,639.2 1058.3,636.2 1058.7,641.0 1059.1,649.6 1059.5,637.9 1060.0,639.4 1060.4,648.7 1060.8,642.2 1061.2,639.7 1061.6,643.6 1062.1,645.9 1062.5,637.3 1062.9,639.3 1063.3,633.0 1063.7,647.1 1064.2,631.9 1064.6,634.7 1065.0,636.7 1065.4,643.1 1065.8,639.2 1066.3,636.8 1066.7,637.3 1067.1,632.4 1067.5,645.6 1067.9,642.5 1068.4,646.0 1068.8,649.4 1069.2,640.6 1069.6,632.4 1070.1,622.2 1070.5,628.5 1070.9,631.7 1071.3,675.1 1071.7,623.9 1072.2,632.0 1072.6,634.8 1073.0,649.2 1073.4,642.1 1073.8,634.6 1074.3,636.2 1074.7,646.3 1075.1,631.8 1075.5,628.8 1075.9,646.2 1076.4,629.0 1076.8,629.1 1077.2,643.4 1077.6,636.4 1078.0,640.3 1078.5,632.8 1078.9,646.5 1079.3,635.7 1079.7,644.3 1080.1,645.9 1080.6,634.6 1081.0,634.8 1081.4,627.8 1081.8,642.7 1082.2,639.9 1082.7,637.3 1083.1,634.9 1083.5,641.4 1083.9,635.7 1084.3,632.1 1084.8,640.3 1085.2,628.2 1085.6,637.9 1086.0,639.1 1086.5,642.4 1086.9,643.0 1087.3,640.1 1087.7,640.5 1088.1,640.2 1088.6,648.5 1089.0,634.7 1089.4,632.3 1089.8,643.0 1090.2,628.6 1090.7,629.0 1091.1,641.3 1091.5,627.1 1091.9,618.5 1092.3,635.3 1092.8,619.7 1093.2,652.1 1093.6,633.1 1094.0,648.3 1094.4,635.2 1094.9,646.2 1095.3,629.1 1095.7,630.6 1096.1,627.3 1096.5,664.1 1097.0,638.9 1097.4,661.1 1097.8,605.0 1098.2,642.0 1098.6,641.7 1099.1,640.0 1099.5,660.1 1099.9,645.4 1100.3,646.9 1100.7,654.2 1101.2,622.9 1101.6,636.0 1102.0,636.1 1102.4,654.1 1102.9,612.7 1103.3,632.1 1103.7,639.6 1104.1,640.1 1104.5,638.5 1105.0,629.5 1105.4,648.5 1105.8,638.9 1106.2,628.6 1106.6,636.3 1107.1,666.1 1107.5,655.5 1107.9,650.6 1108.3,627.3 1108.7,609.0 1109.2,629.5 1109.6,648.0 1110.0,628.7 1110.4,623.3 1110.8,648.9 1111.3,641.3 1111.7,636.3 1112.1,651.2 1112.5,645.3 1112.9,646.1 1113.4,627.0 1113.8,635.2 1114.2,623.3 1114.6,619.4 1115.0,606.0 1115.5,621.2 1115.9,620.9 1116.3,660.8 1116.7,652.0 1117.1,637.4 1117.6,652.2 1118.0,627.0 1118.4,633.9 1118.8,647.2 1119.3,609.2 1119.7,632.7 1120.1,634.6 1120.5,623.4 1120.9,641.6 1121.4,650.0 1121.8,640.5 1122.2,614.6 1122.6,635.9 1123.0,620.4 1123.5,634.6 1123.9,634.4 1124.3,636.6 1124.7,635.2 1125.1,649.3 1125.6,614.1 1126.0,642.9 1126.4,620.4 1126.8,651.1 1127.2,640.6 1127.7,660.7 1128.1,647.0 1128.5,655.1 1128.9,639.7 1129.3,610.3 1129.8,650.8 1130.2,683.8 1130.6,642.3 1131.0,666.4 1131.4,660.1 1131.9,633.0 1132.3,633.8 1132.7,651.7 1133.1,627.1 1133.5,616.1 1134.0,639.4 1134.4,649.3 1134.8,612.7 1135.2,633.3 1135.7,642.7 1136.1,661.6 1136.5,617.2 1136.9,668.0 1137.3,630.7 1137.8,643.1 1138.2,577.0 1138.6,664.2 1139.0,649.9 1139.4,644.0 1139.9,622.9 1140.3,624.2 1140.7,669.7 1141.1,618.3 1141.5,630.2 1142.0,633.7 1142.4,636.0 1142.8,637.6 1143.2,624.8 1143.6,620.2 1144.1,671.1 1144.5,624.3 1144.9,659.6 1145.3,645.4 1145.7,629.1 1146.2,645.2 1146.6,655.6 1147.0,618.4 1147.4,606.0 1147.8,633.4 1148.3,669.1 1148.7,620.7 1149.1,635.0 1149.5,635.3 1149.9,636.3 1150.4,634.2 1150.8,626.0 1151.2,646.6 1151.6,653.1 1152.1,641.2 1152.5,637.2 1152.9,606.7 1153.3,653.6 1153.7,660.7 1154.2,636.7 1154.6,634.1 1155.0,640.1 1155.4,626.2 1155.8,612.9 1156.3,633.7 1156.7,654.6 1157.1,650.7 1157.5,638.7 1157.9,617.6 1158.4,637.1 1158.8,616.7 1159.2,628.0 1159.6,632.9 1160.0,648.9 1160.5,640.3 1160.9,659.2 1161.3,638.8 1161.7,649.2 1162.1,638.3 1162.6,624.3 1163.0,631.3 1163.4,634.4 1163.8,627.0 1164.2,665.6 1164.7,614.4 1165.1,640.8 1165.5,647.6 1165.9,617.3 1166.3,623.2 1166.8,660.5 1167.2,615.4 1167.6,652.3 1168.0,637.0 1168.5,642.2 1168.9,608.6 1169.3,639.1 1169.7,626.3 1170.1,605.0 1170.6,658.8 1171.0,624.8 1171.4,638.9 1171.8,632.2 1172.2,667.7 1172.7,620.0 1173.1,612.1 1173.5,647.9 1173.9,629.6 1174.3,649.5 1174.8,628.9 1175.2,628.8 1175.6,632.4 1176.0,641.1 1176.4,639.8 1176.9,649.6 1177.3,638.5 1177.7,642.8 1178.1,625.1 1178.5,688.8 1179.0,657.4 1179.4,640.2 1179.8,651.3 1180.2,629.5 1180.6,640.2 1181.1,598.7 1181.5,637.4 1181.9,634.1 1182.3,644.1 1182.7,648.1 1183.2,641.8 1183.6,637.5 1184.0,645.8 1184.4,662.2 1184.9,648.7 1185.3,615.4 1185.7,650.8 1186.1,636.6 1186.5,616.1 1187.0,645.9 1187.4,654.4 1187.8,653.1 1188.2,647.8 1188.6,639.5 1189.1,644.4 1189.5,598.7 1189.9,617.2 1190.3,624.2 1190.7,639.9 1191.2,641.4 1191.6,647.2 1192.0,631.3 1192.4,633.4 1192.8,619.9 1193.3,632.3 1193.7,676.1 1194.1,653.3 1194.5,652.4 1194.9,624.5 1195.4,669.1 1195.8,619.8 1196.2,643.9 1196.6,649.0 1197.0,655.5 1197.5,612.4 1197.9,636.2" fill="none" stroke="#3a6ab0" stroke-width="2.6" stroke-linejoin="round"/>
<polyline points="56.0,1223.6 56.4,1208.9 56.8,1213.2 57.2,1217.2 57.6,1221.1 58.0,1223.8 58.4,1227.0 58.8,1229.0 59.3,1231.9 59.7,1233.4 60.1,1233.3 60.5,1233.8 60.9,1234.7 61.3,1234.4 61.7,1234.1 62.1,1234.6 62.5,1233.0 63.0,1234.4 63.4,1234.3 63.8,1234.2 64.2,1231.4 64.6,1234.3 65.0,1230.5 65.4,1231.0 65.8,1233.8 66.2,1233.0 66.7,1233.0 67.1,1234.2 67.5,1232.9 67.9,1234.8 68.3,1234.2 68.7,1232.3 69.1,1234.3 69.5,1229.4 69.9,1233.0 70.4,1227.3 70.8,1200.3 71.2,1225.0 71.6,1228.5 72.0,1234.0 72.4,1234.8 72.8,1217.7 73.2,1182.2 73.6,1219.0 74.1,1226.4 74.5,1232.5 74.9,1232.0 75.3,1234.0 75.7,1230.7 76.1,1233.7 76.5,1231.8 76.9,1214.4 77.3,1162.9 77.8,1213.2 78.2,1211.3 78.6,1224.9 79.0,1229.0 79.4,1234.7 79.8,1234.1 80.2,1232.8 80.6,1233.0 81.0,1216.8 81.5,1177.1 81.9,1215.2 82.3,1222.8 82.7,1229.0 83.1,1234.1 83.5,1232.8 83.9,1234.8 84.3,1234.2 84.7,1233.3 85.2,1233.9 85.6,1234.0 86.0,1233.8 86.4,1233.9 86.8,1230.7 87.2,1234.2 87.6,1234.0 88.0,1234.5 88.4,1234.3 88.9,1230.0 89.3,1229.9 89.7,1223.1 90.1,1229.6 90.5,1231.6 90.9,1234.7 91.3,1234.0 91.7,1233.4 92.1,1234.3 92.6,1232.4 93.0,1233.2 93.4,1233.1 93.8,1232.7 94.2,1234.2 94.6,1230.6 95.0,1232.4 95.4,1234.4 95.8,1223.2 96.3,1188.5 96.7,1218.9 97.1,1227.6 97.5,1231.8 97.9,1233.9 98.3,1223.9 98.7,1201.4 99.1,1222.8 99.5,1219.1 100.0,1227.2 100.4,1229.7 100.8,1234.6 101.2,1233.7 101.6,1232.8 102.0,1231.9 102.4,1234.8 102.8,1234.5 103.2,1233.6 103.7,1234.7 104.1,1234.0 104.5,1234.8 104.9,1233.6 105.3,1234.7 105.7,1233.6 106.1,1233.3 106.5,1231.9 106.9,1233.5 107.4,1233.0 107.8,1234.6 108.2,1229.9 108.6,1233.7 109.0,1234.7 109.4,1232.0 109.8,1233.5 110.2,1233.2 110.6,1233.8 111.1,1227.3 111.5,1234.0 111.9,1234.8 112.3,1234.7 112.7,1233.9 113.1,1234.1 113.5,1231.3 113.9,1227.1 114.3,1219.1 114.8,1225.5 115.2,1223.1 115.6,1229.4 116.0,1232.1 116.4,1234.0 116.8,1233.6 117.2,1234.7 117.6,1234.6 118.0,1233.7 118.5,1234.0 118.9,1232.1 119.3,1234.3 119.7,1231.2 120.1,1234.7 120.5,1234.6 120.9,1233.4 121.3,1234.6 121.7,1224.0 122.2,1230.6 122.6,1234.3 123.0,1233.6 123.4,1232.7 123.8,1231.1 124.2,1231.4 124.6,1234.2 125.0,1233.4 125.4,1234.0 125.9,1231.1 126.3,1232.7 126.7,1234.7 127.1,1233.7 127.5,1233.7 127.9,1234.5 128.3,1233.9 128.7,1232.1 129.1,1229.0 129.6,1223.1 130.0,1228.7 130.4,1231.1 130.8,1234.6 131.2,1233.8 131.6,1234.0 132.0,1234.7 132.4,1234.3 132.8,1233.0 133.3,1230.6 133.7,1231.0 134.1,1234.2 134.5,1233.6 134.9,1234.3 135.3,1232.8 135.7,1234.5 136.1,1233.5 136.5,1234.4 137.0,1234.6 137.4,1233.0 137.8,1234.5 138.2,1233.4 138.6,1234.2 139.0,1234.8 139.4,1232.6 139.8,1230.6 140.2,1226.4 140.7,1215.2 141.1,1223.8 141.5,1229.4 141.9,1234.5 142.3,1232.0 142.7,1232.0 143.1,1234.4 143.5,1234.1 143.9,1234.8 144.4,1234.4 144.8,1234.2 145.2,1231.5 145.6,1232.3 146.0,1234.5 146.4,1233.9 146.8,1228.9 147.2,1233.8 147.6,1233.1 148.1,1232.8 148.5,1234.4 148.9,1234.8 149.3,1231.7 149.7,1234.4 150.1,1228.4 150.5,1221.9 150.9,1209.3 151.3,1224.1 151.8,1228.0 152.2,1232.0 152.6,1233.5 153.0,1233.2 153.4,1234.7 153.8,1233.5 154.2,1234.0 154.6,1234.3 155.0,1234.0 155.5,1234.2 155.9,1234.6 156.3,1234.0 156.7,1233.9 157.1,1233.4 157.5,1233.1 157.9,1232.3 158.3,1233.8 158.7,1233.4 159.2,1234.1 159.6,1233.7 160.0,1234.2 160.4,1233.6 160.8,1230.6 161.2,1233.0 161.6,1234.1 162.0,1232.7 162.4,1233.9 162.9,1234.8 163.3,1234.4 163.7,1231.3 164.1,1227.1 164.5,1217.2 164.9,1224.2 165.3,1228.4 165.7,1234.7 166.1,1234.6 166.6,1232.9 167.0,1234.6 167.4,1234.7 167.8,1234.6 168.2,1229.4 168.6,1225.8 169.0,1214.0 169.4,1224.0 169.9,1223.1 170.3,1229.1 170.7,1231.5 171.1,1233.7 171.5,1232.4 171.9,1234.1 172.3,1234.6 172.7,1233.8 173.1,1234.8 173.6,1230.8 174.0,1233.4 174.4,1233.5 174.8,1230.4 175.2,1234.7 175.6,1234.0 176.0,1234.7 176.4,1230.3 176.8,1234.7 177.3,1232.4 177.7,1231.2 178.1,1232.5 178.5,1234.5 178.9,1232.4 179.3,1230.6 179.7,1233.7 180.1,1234.4 180.5,1234.0 181.0,1232.9 181.4,1234.2 181.8,1234.2 182.2,1234.8 182.6,1234.0 183.0,1234.5 183.4,1234.6 183.8,1233.7 184.2,1224.7 184.7,1186.5 185.1,1223.1 185.5,1228.0 185.9,1233.9 186.3,1234.7 186.7,1233.6 187.1,1234.8 187.5,1232.3 187.9,1234.1 188.4,1225.4 188.8,1234.5 189.2,1231.5 189.6,1234.8 190.0,1234.2 190.4,1234.5 190.8,1234.6 191.2,1234.6 191.6,1233.1 192.1,1233.3 192.5,1232.3 192.9,1233.2 193.3,1233.2 193.7,1234.8 194.1,1233.6 194.5,1234.2 194.9,1232.9 195.3,1233.6 195.8,1231.6 196.2,1233.8 196.6,1234.8 197.0,1232.4 197.4,1233.3 197.8,1233.5 198.2,1233.8 198.6,1232.7 199.0,1234.2 199.5,1234.5 199.9,1234.7 200.3,1232.6 200.7,1234.7 201.1,1234.3 201.5,1233.3 201.9,1231.7 202.3,1234.6 202.7,1234.8 203.2,1233.5 203.6,1233.1 204.0,1232.9 204.4,1233.8 204.8,1232.9 205.2,1233.7 205.6,1234.5 206.0,1234.5 206.4,1231.4 206.9,1234.3 207.3,1233.2 207.7,1234.3 208.1,1231.9 208.5,1233.9 208.9,1231.4 209.3,1232.9 209.7,1234.6 210.1,1223.1 210.6,1190.0 211.0,1217.7 211.4,1219.1 211.8,1226.3 212.2,1230.1 212.6,1233.4 213.0,1234.0 213.4,1232.8 213.8,1232.8 214.3,1233.2 214.7,1223.0 215.1,1192.0 215.5,1218.7 215.9,1225.8 216.3,1234.5 216.7,1234.5 217.1,1234.4 217.5,1231.9 218.0,1232.1 218.4,1234.0 218.8,1231.5 219.2,1234.2 219.6,1234.5 220.0,1234.4 220.4,1234.1 220.8,1233.8 221.2,1233.8 221.7,1234.7 222.1,1232.6 222.5,1234.7 222.9,1232.1 223.3,1229.1 223.7,1220.3 224.1,1226.9 224.5,1231.0 224.9,1234.3 225.4,1233.1 225.8,1234.5 226.2,1232.4 226.6,1232.1 227.0,1234.3 227.4,1232.8 227.8,1231.3 228.2,1227.0 228.6,1230.3 229.1,1232.5 229.5,1233.1 229.9,1234.8 230.3,1233.7 230.7,1234.8 231.1,1234.6 231.5,1234.4 231.9,1234.5 232.3,1231.3 232.8,1231.8 233.2,1227.0 233.6,1230.8 234.0,1233.0 234.4,1234.7 234.8,1232.8 235.2,1232.5 235.6,1230.1 236.0,1230.8 236.5,1234.7 236.9,1233.6 237.3,1233.1 237.7,1234.8 238.1,1232.7 238.5,1234.8 238.9,1234.2 239.3,1233.8 239.7,1233.8 240.2,1234.4 240.6,1232.9 241.0,1234.5 241.4,1234.5 241.8,1234.1 242.2,1230.3 242.6,1233.3 243.0,1232.4 243.4,1229.5 243.9,1233.4 244.3,1233.3 244.7,1234.3 245.1,1233.5 245.5,1234.3 245.9,1231.1 246.3,1234.6 246.7,1234.3 247.1,1233.7 247.6,1234.4 248.0,1233.0 248.4,1233.0 248.8,1232.1 249.2,1234.8 249.6,1234.6 250.0,1233.8 250.4,1232.2 250.8,1229.3 251.3,1232.3 251.7,1233.3 252.1,1233.9 252.5,1233.7 252.9,1232.8 253.3,1233.1 253.7,1233.5 254.1,1233.9 254.5,1230.6 255.0,1234.2 255.4,1232.5 255.8,1234.8 256.2,1233.9 256.6,1234.6 257.0,1234.7 257.4,1232.9 257.8,1234.7 258.2,1234.3 258.7,1234.6 259.1,1234.3 259.5,1233.9 259.9,1234.5 260.3,1232.0 260.7,1234.1 261.1,1233.2 261.5,1234.1 261.9,1234.8 262.4,1234.0 262.8,1232.6 263.2,1232.9 263.6,1230.5 264.0,1234.6 264.4,1234.0 264.8,1234.5 265.2,1233.3 265.6,1234.2 266.1,1234.7 266.5,1234.2 266.9,1234.5 267.3,1233.5 267.7,1234.4 268.1,1234.7 268.5,1234.0 268.9,1234.8 269.3,1234.7 269.8,1233.9 270.2,1234.3 270.6,1234.8 271.0,1234.5 271.4,1233.1 271.8,1233.5 272.2,1232.0 272.6,1229.0 273.0,1231.6 273.5,1233.5 273.9,1234.1 274.3,1234.1 274.7,1234.3 275.1,1234.8 275.5,1234.4 275.9,1234.1 276.3,1232.9 276.7,1233.3 277.2,1234.7 277.6,1234.4 278.0,1234.4 278.4,1234.7 278.8,1233.4 279.2,1234.3 279.6,1233.0 280.0,1234.0 280.4,1234.3 280.9,1234.8 281.3,1234.3 281.7,1234.1 282.1,1234.5 282.5,1232.3 282.9,1228.5 283.3,1223.8 283.7,1228.0 284.1,1232.4 284.6,1234.2 285.0,1234.4 285.4,1234.5 285.8,1234.0 286.2,1234.8 286.6,1234.1 287.0,1234.6 287.4,1233.6 287.8,1234.3 288.3,1234.7 288.7,1234.7 289.1,1233.2 289.5,1233.5 289.9,1232.9 290.3,1234.5 290.7,1234.4 291.1,1234.2 291.5,1231.5 292.0,1233.7 292.4,1234.8 292.8,1234.8 293.2,1234.7 293.6,1233.7 294.0,1234.3 294.4,1233.7 294.8,1234.4 295.2,1233.7 295.7,1234.6 296.1,1234.2 296.5,1233.1 296.9,1234.5 297.3,1234.6 297.7,1234.3 298.1,1232.1 298.5,1228.7 298.9,1224.2 299.4,1229.0 299.8,1232.3 300.2,1234.0 300.6,1234.4 301.0,1231.3 301.4,1225.7 301.8,1218.0 302.2,1225.4 302.6,1230.5 303.1,1233.4 303.5,1234.7 303.9,1234.8 304.3,1234.5 304.7,1233.8 305.1,1234.5 305.5,1234.4 305.9,1234.7 306.3,1232.8 306.8,1233.7 307.2,1233.0 307.6,1233.6 308.0,1234.7 308.4,1232.4 308.8,1234.2 309.2,1234.8 309.6,1234.2 310.0,1234.8 310.5,1233.7 310.9,1233.6 311.3,1234.6 311.7,1234.8 312.1,1234.7 312.5,1234.8 312.9,1234.4 313.3,1233.5 313.8,1234.6 314.2,1233.3 314.6,1234.5 315.0,1233.8 315.4,1233.9 315.8,1234.3 316.2,1234.3 316.6,1234.4 317.0,1233.8 317.5,1234.8 317.9,1234.8 318.3,1232.4 318.7,1234.7 319.1,1232.3 319.5,1234.4 319.9,1234.7 320.3,1233.4 320.7,1233.6 321.2,1234.4 321.6,1234.5 322.0,1234.4 322.4,1234.8 322.8,1234.4 323.2,1233.4 323.6,1233.6 324.0,1234.5 324.4,1234.8 324.9,1234.4 325.3,1234.4 325.7,1230.7 326.1,1233.4 326.5,1234.8 326.9,1234.2 327.3,1233.9 327.7,1234.1 328.1,1233.2 328.6,1234.4 329.0,1234.6 329.4,1234.1 329.8,1234.4 330.2,1217.6 330.6,1181.8 331.0,1217.0 331.4,1215.2 331.8,1223.3 332.3,1230.6 332.7,1234.6 333.1,1234.5 333.5,1233.1 333.9,1234.7 334.3,1234.3 334.7,1234.1 335.1,1234.6 335.5,1234.7 336.0,1234.8 336.4,1233.8 336.8,1234.6 337.2,1234.2 337.6,1234.5 338.0,1232.8 338.4,1233.3 338.8,1232.9 339.2,1232.9 339.7,1228.8 340.1,1224.6 340.5,1230.4 340.9,1231.9 341.3,1234.4 341.7,1233.5 342.1,1234.6 342.5,1234.3 342.9,1234.7 343.4,1234.2 343.8,1234.0 344.2,1234.7 344.6,1229.5 345.0,1221.9 345.4,1212.4 345.8,1222.4 346.2,1212.8 346.6,1222.0 347.1,1229.3 347.5,1234.8 347.9,1233.7 348.3,1234.6 348.7,1234.1 349.1,1234.3 349.5,1232.0 349.9,1234.2 350.3,1234.7 350.8,1232.1 351.2,1234.1 351.6,1232.8 352.0,1233.8 352.4,1231.8 352.8,1233.5 353.2,1234.5 353.6,1234.5 354.0,1234.5 354.5,1234.5 354.9,1233.6 355.3,1234.7 355.7,1234.8 356.1,1234.6 356.5,1234.6 356.9,1234.2 357.3,1231.7 357.7,1233.4 358.2,1232.8 358.6,1233.7 359.0,1234.2 359.4,1234.7 359.8,1233.2 360.2,1234.7 360.6,1234.6 361.0,1234.7 361.4,1234.4 361.9,1229.6 362.3,1225.3 362.7,1212.4 363.1,1223.6 363.5,1228.2 363.9,1234.4 364.3,1231.8 364.7,1234.3 365.1,1234.4 365.6,1234.0 366.0,1234.7 366.4,1233.4 366.8,1234.7 367.2,1234.1 367.6,1232.8 368.0,1233.4 368.4,1232.3 368.8,1228.6 369.3,1230.9 369.7,1233.2 370.1,1233.8 370.5,1234.5 370.9,1234.7 371.3,1234.7 371.7,1234.8 372.1,1233.9 372.5,1234.6 373.0,1234.0 373.4,1233.9 373.8,1234.5 374.2,1233.9 374.6,1233.7 375.0,1234.7 375.4,1233.9 375.8,1231.4 376.2,1230.1 376.7,1231.8 377.1,1233.4 377.5,1233.6 377.9,1234.8 378.3,1234.1 378.7,1233.1 379.1,1231.7 379.5,1231.0 379.9,1234.6 380.4,1234.6 380.8,1233.8 381.2,1234.1 381.6,1233.7 382.0,1234.8 382.4,1233.2 382.8,1233.8 383.2,1233.8 383.6,1233.7 384.1,1234.5 384.5,1233.0 384.9,1233.5 385.3,1234.8 385.7,1234.7 386.1,1234.0 386.5,1234.7 386.9,1234.8 387.3,1232.9 387.8,1232.5 388.2,1233.1 388.6,1234.8 389.0,1234.6 389.4,1233.4 389.8,1233.7 390.2,1232.0 390.6,1234.2 391.0,1234.1 391.5,1233.7 391.9,1234.8 392.3,1234.2 392.7,1233.5 393.1,1234.4 393.5,1233.3 393.9,1234.7 394.3,1234.1 394.7,1234.8 395.2,1234.6 395.6,1233.2 396.0,1234.2 396.4,1234.3 396.8,1234.6 397.2,1234.5 397.6,1234.5 398.0,1234.0 398.4,1234.6 398.9,1234.4 399.3,1234.6 399.7,1234.3 400.1,1234.7 400.5,1234.4 400.9,1234.8 401.3,1234.5 401.7,1233.5 402.1,1233.8 402.6,1234.4 403.0,1234.7 403.4,1234.1 403.8,1234.4 404.2,1233.7 404.6,1234.3 405.0,1234.6 405.4,1234.8 405.8,1233.0 406.3,1234.1 406.7,1234.3 407.1,1234.6 407.5,1232.5 407.9,1233.8 408.3,1234.0 408.7,1234.7 409.1,1234.5 409.5,1234.4 410.0,1234.6 410.4,1234.6 410.8,1234.4 411.2,1233.5 411.6,1233.4 412.0,1233.7 412.4,1234.3 412.8,1234.1 413.2,1234.5 413.7,1234.6 414.1,1233.0 414.5,1231.5 414.9,1227.0 415.3,1229.9 415.7,1233.1 416.1,1234.8 416.5,1232.7 416.9,1233.1 417.4,1232.6 417.8,1229.6 418.2,1225.0 418.6,1228.5 419.0,1232.0 419.4,1234.1 419.8,1234.8 420.2,1234.3 420.6,1233.3 421.1,1232.7 421.5,1229.0 421.9,1223.1 422.3,1227.3 422.7,1232.0 423.1,1233.7 423.5,1232.6 423.9,1234.5 424.3,1231.6 424.8,1233.7 425.2,1234.7 425.6,1233.4 426.0,1227.5 426.4,1196.7 426.8,1225.3 427.2,1227.1 427.6,1234.5 428.0,1234.0 428.5,1234.4 428.9,1233.7 429.3,1232.3 429.7,1230.3 430.1,1225.4 430.5,1230.2 430.9,1232.4 431.3,1233.6 431.7,1233.2 432.2,1233.9 432.6,1233.9 433.0,1234.5 433.4,1233.8 433.8,1234.8 434.2,1232.6 434.6,1233.8 435.0,1233.1 435.4,1234.4 435.9,1234.4 436.3,1234.8 436.7,1234.6 437.1,1234.5 437.5,1233.3 437.9,1234.0 438.3,1234.8 438.7,1233.1 439.1,1234.6 439.6,1234.8 440.0,1234.3 440.4,1234.7 440.8,1234.7 441.2,1234.4 441.6,1233.2 442.0,1234.5 442.4,1230.5 442.8,1224.1 443.3,1212.4 443.7,1222.9 444.1,1228.7 444.5,1234.7 444.9,1234.5 445.3,1234.8 445.7,1234.0 446.1,1234.6 446.5,1233.3 447.0,1233.2 447.4,1234.4 447.8,1234.1 448.2,1233.4 448.6,1234.6 449.0,1234.6 449.4,1234.6 449.8,1233.4 450.2,1233.8 450.7,1233.8 451.1,1234.1 451.5,1234.8 451.9,1234.6 452.3,1231.0 452.7,1232.4 453.1,1234.3 453.5,1234.6 453.9,1233.8 454.4,1234.8 454.8,1234.0 455.2,1232.0 455.6,1230.1 456.0,1232.2 456.4,1233.5 456.8,1234.2 457.2,1233.5 457.7,1234.1 458.1,1233.5 458.5,1234.6 458.9,1234.0 459.3,1234.8 459.7,1233.9 460.1,1234.2 460.5,1234.7 460.9,1234.5 461.4,1233.4 461.8,1234.2 462.2,1234.2 462.6,1234.8 463.0,1234.1 463.4,1234.8 463.8,1234.2 464.2,1234.6 464.6,1234.5 465.1,1234.4 465.5,1234.1 465.9,1234.3 466.3,1234.4 466.7,1233.6 467.1,1234.4 467.5,1234.2 467.9,1234.4 468.3,1234.5 468.8,1234.7 469.2,1234.2 469.6,1234.4 470.0,1234.7 470.4,1234.8 470.8,1233.2 471.2,1234.8 471.6,1233.6 472.0,1233.3 472.5,1230.9 472.9,1232.6 473.3,1233.9 473.7,1233.7 474.1,1232.9 474.5,1234.2 474.9,1234.1 475.3,1234.5 475.7,1234.6 476.2,1234.0 476.6,1234.6 477.0,1233.3 477.4,1231.8 477.8,1229.7 478.2,1232.6 478.6,1232.9 479.0,1234.4 479.4,1233.4 479.9,1233.0 480.3,1234.8 480.7,1234.6 481.1,1234.8 481.5,1234.0 481.9,1234.4 482.3,1233.4 482.7,1232.3 483.1,1229.7 483.6,1231.7 484.0,1233.3 484.4,1234.7 484.8,1234.8 485.2,1233.3 485.6,1234.1 486.0,1233.7 486.4,1232.7 486.8,1229.7 487.3,1232.1 487.7,1233.5 488.1,1233.5 488.5,1233.2 488.9,1234.2 489.3,1233.7 489.7,1234.3 490.1,1234.1 490.5,1234.6 491.0,1234.8 491.4,1234.2 491.8,1232.2 492.2,1233.0 492.6,1234.5 493.0,1234.8 493.4,1232.4 493.8,1234.6 494.2,1232.6 494.7,1234.4 495.1,1234.8 495.5,1234.8 495.9,1234.7 496.3,1233.6 496.7,1234.2 497.1,1234.4 497.5,1233.2 497.9,1231.5 498.4,1234.3 498.8,1234.6 499.2,1233.0 499.6,1233.6 500.0,1232.9 500.4,1228.9 500.8,1224.6 501.2,1228.5 501.6,1232.0 502.1,1233.6 502.5,1234.7 502.9,1230.7 503.3,1233.8 503.7,1232.5 504.1,1231.0 504.5,1233.6 504.9,1233.0 505.3,1232.3 505.8,1233.1 506.2,1230.2 506.6,1223.0 507.0,1211.7 507.4,1223.3 507.8,1228.2 508.2,1232.2 508.6,1233.4 509.0,1234.6 509.5,1234.2 509.9,1234.5 510.3,1234.5 510.7,1234.8 511.1,1233.4 511.5,1234.5 511.9,1229.4 512.3,1231.1 512.7,1231.7 513.2,1234.5 513.6,1233.7 514.0,1233.8 514.4,1234.5 514.8,1232.5 515.2,1232.8 515.6,1233.8 516.0,1231.6 516.4,1234.1 516.9,1233.0 517.3,1233.6 517.7,1231.2 518.1,1227.8 518.5,1230.9 518.9,1229.8 519.3,1234.3 519.7,1233.8 520.1,1234.2 520.6,1234.3 521.0,1233.0 521.4,1233.0 521.8,1234.8 522.2,1234.7 522.6,1225.2 523.0,1233.3 523.4,1232.1 523.8,1234.3 524.3,1234.2 524.7,1234.8 525.1,1232.2 525.5,1234.2 525.9,1231.2 526.3,1233.0 526.7,1230.5 527.1,1227.0 527.5,1231.1 528.0,1232.7 528.4,1226.9 528.8,1232.2 529.2,1229.4 529.6,1233.0 530.0,1233.9 530.4,1234.8 530.8,1234.2 531.2,1233.3 531.7,1234.5 532.1,1234.1 532.5,1227.7 532.9,1203.4 533.3,1221.1 533.7,1228.1 534.1,1233.5 534.5,1234.4 534.9,1234.7 535.4,1229.0 535.8,1233.5 536.2,1233.3 536.6,1234.4 537.0,1224.6 537.4,1232.4 537.8,1234.4 538.2,1234.4 538.6,1231.8 539.1,1232.9 539.5,1229.7 539.9,1225.0 540.3,1230.6 540.7,1228.6 541.1,1234.1 541.5,1234.8 541.9,1232.8 542.3,1232.7 542.8,1233.6 543.2,1232.1 543.6,1232.0 544.0,1234.3 544.4,1234.0 544.8,1234.8 545.2,1231.9 545.6,1233.6 546.0,1233.6 546.5,1234.0 546.9,1231.2 547.3,1234.6 547.7,1229.0 548.1,1231.4 548.5,1233.8 548.9,1234.1 549.3,1234.1 549.7,1234.5 550.2,1221.6 550.6,1231.6 551.0,1224.7 551.4,1234.2 551.8,1232.1 552.2,1233.0 552.6,1234.0 553.0,1230.8 553.4,1230.7 553.9,1233.1 554.3,1232.7 554.7,1226.0 555.1,1227.0 555.5,1230.2 555.9,1232.7 556.3,1233.0 556.7,1234.2 557.1,1233.3 557.6,1233.9 558.0,1233.2 558.4,1230.8 558.8,1227.8 559.2,1219.9 559.6,1225.6 560.0,1226.3 560.4,1233.6 560.8,1231.8 561.3,1234.8 561.7,1228.3 562.1,1234.7 562.5,1227.3 562.9,1234.5 563.3,1229.9 563.7,1228.8 564.1,1221.4 564.5,1211.3 565.0,1221.3 565.4,1228.9 565.8,1225.0 566.2,1217.2 566.6,1223.9 567.0,1229.2 567.4,1230.6 567.8,1233.5 568.2,1233.9 568.7,1230.5 569.1,1226.9 569.5,1215.2 569.9,1226.1 570.3,1229.2 570.7,1233.1 571.1,1234.7 571.5,1228.7 571.9,1234.3 572.4,1234.8 572.8,1220.1 573.2,1229.6 573.6,1225.0 574.0,1229.5 574.4,1232.3 574.8,1233.1 575.2,1234.2 575.6,1232.7 576.1,1234.8 576.5,1224.0 576.9,1232.3 577.3,1233.5 577.7,1233.7 578.1,1234.3 578.5,1234.2 578.9,1228.2 579.3,1233.6 579.8,1230.7 580.2,1231.1 580.6,1234.0 581.0,1232.0 581.4,1234.7 581.8,1225.6 582.2,1232.2 582.6,1234.3 583.0,1233.0 583.5,1232.5 583.9,1231.7 584.3,1228.5 584.7,1229.7 585.1,1232.6 585.5,1232.3 585.9,1233.7 586.3,1234.4 586.7,1231.4 587.2,1219.9 587.6,1164.1 588.0,1205.9 588.4,1224.4 588.8,1231.4 589.2,1222.6 589.6,1234.1 590.0,1232.7 590.4,1232.4 590.9,1229.8 591.3,1230.0 591.7,1228.3 592.1,1234.8 592.5,1231.8 592.9,1228.9 593.3,1224.6 593.7,1209.7 594.1,1218.5 594.6,1227.9 595.0,1227.1 595.4,1229.7 595.8,1222.0 596.2,1212.1 596.6,1224.0 597.0,1228.3 597.4,1232.4 597.8,1231.3 598.3,1234.2 598.7,1233.4 599.1,1230.9 599.5,1229.2 599.9,1220.7 600.3,1231.0 600.7,1224.3 601.1,1217.2 601.6,1226.9 602.0,1230.7 602.4,1228.9 602.8,1233.5 603.2,1234.1 603.6,1234.2 604.0,1234.2 604.4,1234.1 604.8,1233.7 605.3,1228.5 605.7,1226.9 606.1,1219.9 606.5,1226.5 606.9,1222.2 607.3,1226.5 607.7,1225.6 608.1,1229.3 608.5,1232.7 609.0,1234.5 609.4,1231.4 609.8,1234.4 610.2,1218.4 610.6,1170.0 611.0,1218.4 611.4,1222.7 611.8,1231.1 612.2,1233.8 612.7,1234.8 613.1,1234.2 613.5,1233.4 613.9,1232.0 614.3,1233.3 614.7,1234.8 615.1,1230.9 615.5,1234.4 615.9,1233.8 616.4,1233.1 616.8,1227.6 617.2,1234.5 617.6,1234.5 618.0,1232.7 618.4,1224.6 618.8,1234.3 619.2,1229.1 619.6,1231.1 620.1,1234.2 620.5,1229.9 620.9,1221.2 621.3,1175.5 621.7,1209.2 622.1,1225.4 622.5,1220.9 622.9,1233.2 623.3,1231.3 623.8,1232.5 624.2,1233.7 624.6,1229.8 625.0,1231.9 625.4,1232.8 625.8,1230.9 626.2,1224.6 626.6,1224.4 627.0,1231.2 627.5,1230.4 627.9,1232.4 628.3,1233.5 628.7,1232.2 629.1,1229.8 629.5,1223.8 629.9,1224.2 630.3,1229.5 630.7,1229.5 631.2,1225.5 631.6,1232.0 632.0,1225.9 632.4,1229.5 632.8,1233.8 633.2,1233.2 633.6,1228.7 634.0,1228.8 634.4,1234.8 634.9,1229.8 635.3,1223.5 635.7,1207.3 636.1,1218.4 636.5,1225.4 636.9,1234.1 637.3,1233.6 637.7,1233.4 638.1,1233.6 638.6,1233.7 639.0,1234.7 639.4,1225.7 639.8,1230.0 640.2,1228.3 640.6,1234.6 641.0,1231.4 641.4,1233.9 641.8,1229.5 642.3,1224.3 642.7,1199.5 643.1,1223.6 643.5,1226.1 643.9,1231.7 644.3,1232.2 644.7,1227.9 645.1,1209.5 645.5,1141.7 646.0,1210.5 646.4,1216.6 646.8,1233.2 647.2,1217.9 647.6,1180.6 648.0,1220.6 648.4,1223.1 648.8,1222.4 649.2,1232.3 649.7,1227.6 650.1,1234.1 650.5,1233.8 650.9,1216.6 651.3,1174.3 651.7,1213.0 652.1,1223.4 652.5,1234.1 652.9,1233.1 653.4,1231.9 653.8,1221.7 654.2,1234.1 654.6,1224.0 655.0,1233.3 655.4,1232.8 655.8,1228.4 656.2,1200.3 656.6,1225.0 657.1,1227.6 657.5,1228.5 657.9,1233.4 658.3,1233.8 658.7,1229.7 659.1,1226.3 659.5,1215.2 659.9,1224.0 660.3,1229.9 660.8,1227.6 661.2,1234.5 661.6,1232.2 662.0,1226.7 662.4,1195.5 662.8,1219.3 663.2,1227.5 663.6,1233.5 664.0,1234.0 664.5,1234.6 664.9,1230.7 665.3,1233.2 665.7,1227.8 666.1,1223.2 666.5,1234.5 666.9,1223.8 667.3,1231.2 667.7,1232.5 668.2,1233.1 668.6,1234.2 669.0,1233.6 669.4,1218.4 669.8,1148.4 670.2,1202.5 670.6,1224.4 671.0,1234.7 671.4,1229.0 671.9,1229.6 672.3,1221.2 672.7,1206.2 673.1,1222.6 673.5,1227.0 673.9,1233.1 674.3,1234.6 674.7,1234.7 675.1,1234.2 675.6,1229.6 676.0,1233.4 676.4,1234.8 676.8,1231.4 677.2,1228.6 677.6,1220.7 678.0,1226.5 678.4,1231.8 678.8,1232.3 679.3,1225.5 679.7,1233.7 680.1,1227.8 680.5,1230.2 680.9,1232.6 681.3,1233.5 681.7,1227.2 682.1,1229.1 682.5,1230.7 683.0,1231.1 683.4,1224.7 683.8,1214.4 684.2,1226.1 684.6,1228.7 685.0,1234.3 685.4,1234.0 685.8,1234.8 686.2,1234.4 686.7,1226.9 687.1,1227.6 687.5,1216.0 687.9,1223.3 688.3,1229.6 688.7,1233.6 689.1,1233.7 689.5,1234.7 689.9,1234.5 690.4,1233.4 690.8,1232.3 691.2,1232.3 691.6,1228.8 692.0,1234.6 692.4,1234.4 692.8,1228.8 693.2,1233.2 693.6,1233.4 694.1,1232.1 694.5,1229.7 694.9,1230.2 695.3,1233.1 695.7,1221.4 696.1,1193.6 696.5,1218.3 696.9,1226.2 697.3,1234.6 697.8,1234.7 698.2,1232.8 698.6,1233.4 699.0,1234.4 699.4,1230.6 699.8,1232.9 700.2,1232.6 700.6,1229.9 701.0,1226.2 701.5,1228.1 701.9,1232.1 702.3,1232.8 702.7,1230.5 703.1,1227.9 703.5,1234.4 703.9,1234.6 704.3,1234.4 704.7,1233.1 705.2,1233.6 705.6,1233.7 706.0,1233.0 706.4,1234.8 706.8,1232.8 707.2,1232.6 707.6,1233.8 708.0,1233.4 708.4,1234.0 708.9,1234.8 709.3,1234.1 709.7,1234.4 710.1,1233.4 710.5,1234.5 710.9,1232.5 711.3,1231.2 711.7,1234.4 712.1,1232.8 712.6,1232.4 713.0,1233.3 713.4,1233.3 713.8,1233.1 714.2,1234.6 714.6,1234.8 715.0,1232.9 715.4,1232.2 715.8,1230.9 716.3,1227.8 716.7,1230.7 717.1,1233.1 717.5,1234.3 717.9,1234.7 718.3,1234.7 718.7,1233.9 719.1,1234.3 719.5,1233.2 720.0,1233.9 720.4,1234.2 720.8,1228.1 721.2,1234.0 721.6,1232.5 722.0,1232.6 722.4,1229.2 722.8,1233.9 723.2,1234.8 723.7,1234.8 724.1,1226.4 724.5,1232.0 724.9,1228.0 725.3,1233.7 725.7,1217.5 726.1,1231.8 726.5,1234.5 726.9,1233.5 727.4,1234.6 727.8,1234.2 728.2,1232.8 728.6,1231.3 729.0,1233.2 729.4,1233.7 729.8,1233.8 730.2,1234.6 730.6,1233.6 731.1,1233.4 731.5,1230.7 731.9,1234.6 732.3,1234.8 732.7,1234.0 733.1,1234.7 733.5,1234.6 733.9,1231.7 734.3,1231.2 734.8,1227.9 735.2,1218.0 735.6,1226.5 736.0,1228.0 736.4,1232.7 736.8,1230.2 737.2,1231.8 737.6,1233.0 738.0,1234.4 738.5,1231.9 738.9,1227.9 739.3,1223.1 739.7,1229.2 740.1,1232.1 740.5,1234.5 740.9,1230.3 741.3,1233.4 741.8,1225.8 742.2,1231.4 742.6,1234.6 743.0,1234.4 743.4,1234.7 743.8,1234.4 744.2,1233.4 744.6,1232.9 745.0,1234.2 745.5,1233.1 745.9,1230.6 746.3,1227.8 746.7,1231.3 747.1,1227.6 747.5,1232.7 747.9,1234.4 748.3,1234.0 748.7,1234.2 749.2,1234.4 749.6,1231.8 750.0,1232.5 750.4,1232.7 750.8,1234.8 751.2,1232.9 751.6,1233.9 752.0,1234.1 752.4,1234.8 752.9,1234.7 753.3,1234.7 753.7,1234.2 754.1,1234.4 754.5,1233.8 754.9,1232.4 755.3,1234.7 755.7,1233.6 756.1,1231.4 756.6,1233.5 757.0,1231.2 757.4,1232.8 757.8,1234.2 758.2,1234.3 758.6,1231.8 759.0,1229.2 759.4,1227.6 759.8,1227.4 760.3,1232.5 760.7,1233.0 761.1,1229.6 761.5,1233.8 761.9,1234.6 762.3,1233.2 762.7,1233.6 763.1,1234.4 763.5,1233.9 764.0,1234.0 764.4,1234.1 764.8,1230.3 765.2,1230.9 765.6,1232.3 766.0,1233.1 766.4,1229.6 766.8,1234.6 767.2,1234.4 767.7,1231.9 768.1,1230.9 768.5,1226.6 768.9,1234.4 769.3,1234.6 769.7,1233.9 770.1,1232.1 770.5,1230.6 770.9,1232.6 771.4,1232.4 771.8,1228.5 772.2,1218.6 772.6,1206.6 773.0,1221.5 773.4,1226.7 773.8,1232.1 774.2,1232.0 774.6,1234.6 775.1,1233.0 775.5,1233.2 775.9,1234.7 776.3,1233.3 776.7,1234.7 777.1,1234.8 777.5,1234.2 777.9,1233.2 778.3,1234.8 778.8,1233.4 779.2,1233.4 779.6,1232.0 780.0,1228.3 780.4,1234.2 780.8,1230.9 781.2,1232.9 781.6,1233.7 782.0,1234.3 782.5,1234.0 782.9,1234.5 783.3,1234.7 783.7,1233.0 784.1,1231.3 784.5,1230.6 784.9,1234.6 785.3,1232.4 785.7,1233.6 786.2,1234.6 786.6,1229.0 787.0,1224.7 787.4,1212.8 787.8,1222.2 788.2,1228.3 788.6,1233.0 789.0,1233.9 789.4,1234.1 789.9,1229.6 790.3,1222.7 790.7,1207.3 791.1,1219.4 791.5,1224.5 791.9,1229.0 792.3,1230.4 792.7,1234.5 793.1,1233.3 793.6,1234.4 794.0,1234.5 794.4,1231.0 794.8,1234.0 795.2,1231.4 795.6,1233.4 796.0,1233.5 796.4,1231.1 796.8,1231.1 797.3,1226.6 797.7,1215.2 798.1,1222.9 798.5,1229.3 798.9,1234.4 799.3,1229.4 799.7,1222.5 800.1,1211.3 800.5,1223.1 801.0,1228.0 801.4,1233.9 801.8,1234.5 802.2,1232.8 802.6,1231.7 803.0,1231.4 803.4,1228.5 803.8,1219.1 804.2,1226.3 804.7,1230.6 805.1,1233.8 805.5,1234.5 805.9,1234.1 806.3,1234.8 806.7,1232.5 807.1,1229.2 807.5,1225.4 807.9,1230.8 808.4,1232.2 808.8,1233.6 809.2,1233.8 809.6,1233.2 810.0,1234.8 810.4,1234.4 810.8,1233.0 811.2,1231.4 811.6,1234.1 812.1,1234.8 812.5,1231.8 812.9,1232.2 813.3,1233.8 813.7,1233.0 814.1,1229.9 814.5,1233.9 814.9,1233.7 815.3,1234.7 815.8,1234.6 816.2,1234.2 816.6,1234.7 817.0,1232.4 817.4,1234.3 817.8,1231.7 818.2,1233.8 818.6,1234.7 819.0,1234.4 819.5,1232.1 819.9,1231.3 820.3,1227.7 820.7,1220.3 821.1,1227.2 821.5,1230.6 821.9,1231.2 822.3,1229.5 822.7,1234.5 823.2,1230.9 823.6,1233.7 824.0,1232.1 824.4,1229.2 824.8,1223.1 825.2,1228.0 825.6,1231.5 826.0,1230.3 826.4,1234.2 826.9,1228.6 827.3,1234.0 827.7,1225.1 828.1,1234.7 828.5,1234.8 828.9,1233.0 829.3,1233.0 829.7,1232.5 830.1,1233.5 830.6,1227.2 831.0,1232.6 831.4,1228.9 831.8,1233.2 832.2,1231.8 832.6,1234.5 833.0,1233.0 833.4,1234.6 833.8,1234.5 834.3,1232.4 834.7,1231.3 835.1,1234.2 835.5,1234.1 835.9,1233.3 836.3,1232.2 836.7,1233.8 837.1,1234.8 837.5,1232.5 838.0,1232.6 838.4,1234.2 838.8,1234.4 839.2,1233.1 839.6,1232.0 840.0,1234.2 840.4,1233.9 840.8,1233.9 841.2,1233.2 841.7,1224.4 842.1,1181.0 842.5,1218.1 842.9,1223.6 843.3,1231.4 843.7,1233.0 844.1,1234.3 844.5,1232.7 844.9,1231.8 845.4,1228.1 845.8,1234.5 846.2,1231.0 846.6,1234.0 847.0,1234.1 847.4,1234.4 847.8,1231.8 848.2,1234.5 848.6,1234.3 849.1,1234.5 849.5,1224.0 849.9,1226.3 850.3,1233.8 850.7,1231.2 851.1,1233.8 851.5,1228.5 851.9,1229.3 852.3,1231.9 852.8,1229.4 853.2,1228.8 853.6,1234.4 854.0,1233.3 854.4,1231.4 854.8,1232.1 855.2,1232.6 855.6,1233.3 856.0,1232.1 856.5,1231.0 856.9,1231.0 857.3,1230.2 857.7,1234.4 858.1,1231.8 858.5,1226.4 858.9,1193.6 859.3,1220.6 859.7,1227.3 860.2,1234.3 860.6,1234.6 861.0,1234.7 861.4,1229.0 861.8,1205.4 862.2,1226.6 862.6,1230.4 863.0,1233.6 863.4,1234.6 863.9,1233.6 864.3,1230.3 864.7,1231.4 865.1,1228.8 865.5,1220.3 865.9,1226.1 866.3,1230.6 866.7,1234.2 867.1,1233.5 867.6,1234.4 868.0,1232.8 868.4,1234.6 868.8,1234.4 869.2,1234.1 869.6,1234.0 870.0,1229.6 870.4,1233.7 870.8,1230.3 871.3,1227.2 871.7,1231.8 872.1,1234.7 872.5,1234.7 872.9,1227.8 873.3,1234.4 873.7,1231.9 874.1,1234.2 874.5,1231.0 875.0,1234.2 875.4,1232.6 875.8,1234.6 876.2,1233.8 876.6,1233.6 877.0,1226.0 877.4,1205.4 877.8,1226.4 878.2,1229.7 878.7,1234.5 879.1,1232.9 879.5,1233.0 879.9,1229.1 880.3,1224.3 880.7,1212.8 881.1,1222.6 881.5,1229.1 881.9,1232.2 882.4,1231.3 882.8,1233.8 883.2,1231.9 883.6,1231.1 884.0,1234.6 884.4,1229.0 884.8,1233.9 885.2,1234.1 885.7,1233.7 886.1,1228.1 886.5,1220.7 886.9,1207.7 887.3,1218.6 887.7,1226.0 888.1,1234.3 888.5,1234.3 888.9,1233.8 889.4,1234.0 889.8,1234.4 890.2,1233.8 890.6,1234.8 891.0,1233.2 891.4,1234.5 891.8,1234.5 892.2,1232.7 892.6,1225.4 893.1,1234.4 893.5,1228.7 893.9,1232.3 894.3,1229.6 894.7,1224.6 895.1,1229.9 895.5,1228.7 895.9,1232.0 896.3,1232.8 896.8,1232.7 897.2,1229.6 897.6,1231.8 898.0,1232.0 898.4,1228.6 898.8,1229.8 899.2,1230.9 899.6,1234.8 900.0,1234.3 900.5,1230.8 900.9,1233.1 901.3,1234.6 901.7,1233.1 902.1,1232.0 902.5,1234.6 902.9,1234.7 903.3,1231.7 903.7,1230.3 904.2,1225.4 904.6,1230.1 905.0,1227.0 905.4,1231.3 905.8,1232.6 906.2,1233.6 906.6,1234.0 907.0,1233.3 907.4,1233.8 907.9,1231.2 908.3,1231.4 908.7,1230.2 909.1,1234.3 909.5,1234.4 909.9,1231.3 910.3,1230.4 910.7,1233.0 911.1,1229.5 911.6,1234.1 912.0,1234.1 912.4,1233.8 912.8,1232.1 913.2,1226.7 913.6,1219.5 914.0,1226.3 914.4,1231.0 914.8,1234.8 915.3,1234.7 915.7,1232.2 916.1,1234.2 916.5,1232.6 916.9,1233.0 917.3,1234.8 917.7,1233.6 918.1,1233.6 918.5,1233.1 919.0,1232.3 919.4,1229.3 919.8,1232.3 920.2,1233.7 920.6,1231.0 921.0,1233.1 921.4,1226.4 921.8,1232.6 922.2,1231.7 922.7,1234.8 923.1,1233.4 923.5,1229.1 923.9,1234.6 924.3,1233.5 924.7,1230.7 925.1,1232.3 925.5,1234.8 925.9,1221.4 926.4,1186.5 926.8,1218.4 927.2,1227.2 927.6,1228.8 928.0,1205.4 928.4,1225.1 928.8,1230.3 929.2,1231.7 929.6,1233.8 930.1,1234.0 930.5,1231.7 930.9,1233.5 931.3,1232.3 931.7,1233.3 932.1,1229.0 932.5,1234.6 932.9,1231.3 933.3,1232.6 933.8,1229.2 934.2,1234.0 934.6,1223.1 935.0,1234.6 935.4,1234.2 935.8,1233.5 936.2,1232.5 936.6,1234.8 937.0,1228.3 937.5,1232.9 937.9,1234.1 938.3,1233.3 938.7,1234.4 939.1,1232.3 939.5,1230.2 939.9,1223.1 940.3,1229.8 940.7,1231.4 941.2,1234.2 941.6,1233.6 942.0,1231.8 942.4,1229.7 942.8,1232.5 943.2,1232.1 943.6,1232.0 944.0,1233.8 944.4,1234.6 944.9,1230.8 945.3,1231.7 945.7,1232.9 946.1,1232.8 946.5,1234.6 946.9,1234.6 947.3,1229.0 947.7,1219.7 948.1,1207.7 948.6,1218.0 949.0,1228.0 949.4,1231.7 949.8,1230.3 950.2,1233.1 950.6,1233.0 951.0,1234.8 951.4,1234.7 951.8,1224.1 952.3,1234.2 952.7,1230.8 953.1,1231.0 953.5,1233.2 953.9,1234.7 954.3,1232.8 954.7,1232.5 955.1,1234.4 955.5,1233.5 956.0,1234.0 956.4,1232.6 956.8,1229.0 957.2,1232.8 957.6,1234.5 958.0,1234.4 958.4,1231.6 958.8,1226.6 959.2,1219.9 959.7,1228.1 960.1,1229.4 960.5,1232.9 960.9,1232.4 961.3,1234.0 961.7,1231.2 962.1,1234.7 962.5,1230.9 962.9,1234.3 963.4,1233.2 963.8,1222.8 964.2,1234.6 964.6,1234.4 965.0,1230.5 965.4,1229.7 965.8,1234.5 966.2,1233.6 966.6,1232.2 967.1,1233.7 967.5,1232.4 967.9,1229.3 968.3,1231.9 968.7,1232.8 969.1,1233.9 969.5,1230.1 969.9,1233.0 970.3,1234.1 970.8,1233.7 971.2,1232.1 971.6,1230.1 972.0,1230.1 972.4,1233.4 972.8,1234.4 973.2,1233.8 973.6,1234.1 974.0,1231.2 974.5,1231.7 974.9,1229.3 975.3,1232.5 975.7,1233.4 976.1,1234.0 976.5,1234.5 976.9,1231.3 977.3,1233.6 977.7,1230.4 978.2,1233.1 978.6,1234.5 979.0,1232.0 979.4,1234.2 979.8,1232.2 980.2,1230.3 980.6,1233.0 981.0,1234.0 981.4,1234.4 981.9,1233.6 982.3,1231.6 982.7,1227.9 983.1,1227.7 983.5,1202.0 983.9,1092.6 984.3,1199.0 984.7,1211.4 985.1,1231.3 985.6,1229.8 986.0,1222.2 986.4,1183.8 986.8,1217.2 987.2,1226.9 987.6,1234.3 988.0,1224.7 988.4,1228.5 988.8,1205.4 989.3,1224.3 989.7,1231.1 990.1,1231.8 990.5,1234.8 990.9,1231.5 991.3,1224.7 991.7,1216.4 992.1,1226.2 992.5,1228.8 993.0,1232.7 993.4,1234.8 993.8,1233.8 994.2,1233.5 994.6,1231.3 995.0,1230.6 995.4,1233.6 995.8,1232.3 996.2,1232.0 996.7,1233.8 997.1,1232.1 997.5,1227.8 997.9,1221.1 998.3,1228.3 998.7,1230.9 999.1,1233.9 999.5,1223.9 999.9,1234.8 1000.4,1233.5 1000.8,1229.8 1001.2,1234.5 1001.6,1234.8 1002.0,1234.4 1002.4,1234.2 1002.8,1225.2 1003.2,1199.9 1003.6,1223.6 1004.1,1227.4 1004.5,1232.0 1004.9,1230.1 1005.3,1234.8 1005.7,1234.5 1006.1,1229.0 1006.5,1227.7 1006.9,1217.6 1007.3,1226.6 1007.8,1231.0 1008.2,1231.0 1008.6,1233.6 1009.0,1228.4 1009.4,1232.7 1009.8,1231.1 1010.2,1232.7 1010.6,1233.0 1011.0,1234.3 1011.5,1230.6 1011.9,1233.2 1012.3,1234.1 1012.7,1234.7 1013.1,1231.0 1013.5,1227.1 1013.9,1230.4 1014.3,1230.5 1014.7,1228.4 1015.2,1234.6 1015.6,1233.9 1016.0,1232.1 1016.4,1230.6 1016.8,1228.5 1017.2,1219.9 1017.6,1227.0 1018.0,1231.5 1018.4,1234.5 1018.9,1233.6 1019.3,1233.9 1019.7,1227.7 1020.1,1232.5 1020.5,1226.6 1020.9,1234.4 1021.3,1234.7 1021.7,1234.7 1022.1,1232.6 1022.6,1233.8 1023.0,1230.4 1023.4,1234.4 1023.8,1231.5 1024.2,1232.7 1024.6,1230.3 1025.0,1232.6 1025.4,1226.5 1025.8,1234.5 1026.3,1234.5 1026.7,1234.5 1027.1,1233.2 1027.5,1232.3 1027.9,1233.3 1028.3,1231.0 1028.7,1234.5 1029.1,1232.5 1029.6,1234.0 1030.0,1234.7 1030.4,1231.2 1030.8,1234.4 1031.2,1234.4 1031.6,1234.3 1032.0,1234.6 1032.4,1233.8 1032.8,1234.3 1033.3,1234.2 1033.7,1234.4 1034.1,1231.9 1034.5,1234.5 1034.9,1233.0 1035.3,1234.4 1035.7,1233.4 1036.1,1233.7 1036.5,1231.3 1037.0,1231.5 1037.4,1233.8 1037.8,1233.6 1038.2,1234.4 1038.6,1233.5 1039.0,1233.9 1039.4,1228.9 1039.8,1222.8 1040.2,1206.6 1040.7,1222.8 1041.1,1227.5 1041.5,1232.1 1041.9,1232.2 1042.3,1232.3 1042.7,1232.5 1043.1,1233.4 1043.5,1232.3 1043.9,1229.3 1044.4,1231.1 1044.8,1233.2 1045.2,1234.3 1045.6,1232.6 1046.0,1234.0 1046.4,1233.8 1046.8,1232.8 1047.2,1233.9 1047.6,1231.1 1048.1,1233.1 1048.5,1234.1 1048.9,1234.2 1049.3,1231.6 1049.7,1234.6 1050.1,1233.0 1050.5,1228.6 1050.9,1231.1 1051.3,1232.8 1051.8,1233.7 1052.2,1234.7 1052.6,1233.7 1053.0,1233.6 1053.4,1231.9 1053.8,1234.0 1054.2,1232.5 1054.6,1234.2 1055.0,1234.5 1055.5,1232.4 1055.9,1234.4 1056.3,1231.3 1056.7,1233.5 1057.1,1233.6 1057.5,1234.6 1057.9,1231.9 1058.3,1234.8 1058.7,1234.2 1059.2,1229.7 1059.6,1233.8 1060.0,1234.5 1060.4,1233.3 1060.8,1231.3 1061.2,1233.7 1061.6,1234.1 1062.0,1234.6 1062.4,1234.2 1062.9,1233.6 1063.3,1234.1 1063.7,1234.1 1064.1,1231.5 1064.5,1229.3 1064.9,1224.0 1065.3,1232.7 1065.7,1233.6 1066.1,1232.8 1066.6,1231.3 1067.0,1234.2 1067.4,1234.4 1067.8,1232.7 1068.2,1233.3 1068.6,1234.3 1069.0,1230.6 1069.4,1230.2 1069.8,1232.4 1070.3,1233.0 1070.7,1233.8 1071.1,1232.5 1071.5,1234.4 1071.9,1232.3 1072.3,1233.5 1072.7,1232.4 1073.1,1230.8 1073.5,1234.5 1074.0,1234.0 1074.4,1231.6 1074.8,1227.8 1075.2,1219.1 1075.6,1227.5 1076.0,1230.0 1076.4,1231.4 1076.8,1232.5 1077.2,1233.9 1077.7,1233.7 1078.1,1233.9 1078.5,1234.5 1078.9,1232.6 1079.3,1234.7 1079.7,1227.1 1080.1,1231.9 1080.5,1229.5 1080.9,1224.7 1081.4,1215.2 1081.8,1225.4 1082.2,1230.2 1082.6,1231.5 1083.0,1232.4 1083.4,1234.0 1083.8,1233.8 1084.2,1231.0 1084.6,1232.3 1085.1,1232.0 1085.5,1229.1 1085.9,1227.0 1086.3,1230.0 1086.7,1229.1 1087.1,1232.5 1087.5,1226.8 1087.9,1233.5 1088.3,1234.6 1088.8,1233.0 1089.2,1229.4 1089.6,1229.1 1090.0,1228.2 1090.4,1232.3 1090.8,1233.7 1091.2,1232.6 1091.6,1224.6 1092.0,1223.1 1092.5,1228.7 1092.9,1231.2 1093.3,1233.3 1093.7,1234.5 1094.1,1216.9 1094.5,1234.0 1094.9,1224.9 1095.3,1232.8 1095.7,1234.8 1096.2,1234.2 1096.6,1226.6 1097.0,1232.8 1097.4,1231.2 1097.8,1226.0 1098.2,1215.2 1098.6,1226.1 1099.0,1228.8 1099.4,1233.3 1099.9,1229.5 1100.3,1230.3 1100.7,1231.0 1101.1,1230.7 1101.5,1230.7 1101.9,1233.5 1102.3,1234.1 1102.7,1230.7 1103.1,1234.0 1103.6,1234.1 1104.0,1229.5 1104.4,1229.2 1104.8,1222.0 1105.2,1212.1 1105.6,1223.5 1106.0,1226.9 1106.4,1234.4 1106.8,1231.0 1107.3,1233.0 1107.7,1234.5 1108.1,1229.1 1108.5,1232.6 1108.9,1229.2 1109.3,1227.6 1109.7,1224.1 1110.1,1207.3 1110.5,1218.0 1111.0,1226.5 1111.4,1221.6 1111.8,1231.9 1112.2,1233.0 1112.6,1234.8 1113.0,1229.4 1113.4,1233.7 1113.8,1222.1 1114.2,1229.4 1114.7,1222.2 1115.1,1212.1 1115.5,1221.1 1115.9,1229.6 1116.3,1223.9 1116.7,1231.1 1117.1,1234.7 1117.5,1232.0 1117.9,1232.8 1118.4,1234.1 1118.8,1233.5 1119.2,1234.5 1119.6,1233.5 1120.0,1231.8 1120.4,1231.8 1120.8,1212.7 1121.2,1166.9 1121.6,1205.7 1122.1,1224.9 1122.5,1227.1 1122.9,1230.2 1123.3,1229.0 1123.7,1229.6 1124.1,1230.2 1124.5,1230.9 1124.9,1233.4 1125.3,1228.1 1125.8,1226.5 1126.2,1218.3 1126.6,1225.9 1127.0,1229.8 1127.4,1229.1 1127.8,1226.4 1128.2,1217.2 1128.6,1226.9 1129.0,1229.4 1129.5,1234.6 1129.9,1233.8 1130.3,1234.4 1130.7,1229.5 1131.1,1230.8 1131.5,1233.6 1131.9,1233.1 1132.3,1233.5 1132.7,1233.0 1133.2,1234.7 1133.6,1232.0 1134.0,1228.9 1134.4,1223.1 1134.8,1228.5 1135.2,1231.1 1135.6,1233.6 1136.0,1226.0 1136.4,1234.7 1136.9,1232.2 1137.3,1229.2 1137.7,1225.7 1138.1,1231.3 1138.5,1233.0 1138.9,1234.1 1139.3,1234.4 1139.7,1229.1 1140.1,1232.8 1140.6,1230.9 1141.0,1230.5 1141.4,1234.6 1141.8,1229.3 1142.2,1234.4 1142.6,1231.7 1143.0,1227.0 1143.4,1233.9 1143.8,1233.8 1144.3,1230.3 1144.7,1233.3 1145.1,1234.0 1145.5,1233.2 1145.9,1229.3 1146.3,1227.8 1146.7,1228.2 1147.1,1230.6 1147.5,1232.4 1148.0,1232.6 1148.4,1232.4 1148.8,1233.8 1149.2,1234.7 1149.6,1234.0 1150.0,1234.3 1150.4,1222.6 1150.8,1228.4 1151.2,1229.7 1151.7,1234.3 1152.1,1232.0 1152.5,1230.3 1152.9,1224.7 1153.3,1215.2 1153.7,1226.1 1154.1,1230.3 1154.5,1229.2 1154.9,1234.0 1155.4,1234.7 1155.8,1230.1 1156.2,1232.6 1156.6,1233.3 1157.0,1232.5 1157.4,1232.3 1157.8,1233.8 1158.2,1233.9 1158.6,1231.6 1159.1,1233.4 1159.5,1234.8 1159.9,1224.4 1160.3,1229.1 1160.7,1229.2 1161.1,1232.7 1161.5,1231.2 1161.9,1224.4 1162.3,1179.8 1162.8,1217.1 1163.2,1219.3 1163.6,1234.4 1164.0,1228.0 1164.4,1203.4 1164.8,1221.8 1165.2,1229.6 1165.6,1234.3 1166.0,1230.0 1166.5,1233.2 1166.9,1233.6 1167.3,1228.7 1167.7,1234.6 1168.1,1230.2 1168.5,1234.4 1168.9,1227.8 1169.3,1204.6 1169.7,1226.2 1170.2,1228.3 1170.6,1231.5 1171.0,1232.2 1171.4,1230.1 1171.8,1230.5 1172.2,1221.8 1172.6,1212.1 1173.0,1222.4 1173.5,1229.3 1173.9,1231.4 1174.3,1233.3 1174.7,1234.6 1175.1,1229.5 1175.5,1232.6 1175.9,1231.4 1176.3,1229.0 1176.7,1220.7 1177.2,1226.8 1177.6,1229.9 1178.0,1234.4 1178.4,1230.1 1178.8,1234.5 1179.2,1232.4 1179.6,1227.3 1180.0,1225.8" fill="none" stroke="#3a6ab0" stroke-width="2.4" stroke-linejoin="round"/>
<line x1="96.7" y1="8.7" x2="1161" y2="8.7" stroke="#000" stroke-width="2.2"/>
<line x1="96.7" y1="277.4" x2="1161" y2="277.4" stroke="#000" stroke-width="2"/>
<line x1="97.7" y1="7.6" x2="97.7" y2="278.4" stroke="#000" stroke-width="2"/>
<line x1="1160" y1="7.6" x2="1160" y2="278.4" stroke="#000" stroke-width="2"/>
<line x1="89.3" y1="277.4" x2="97.7" y2="277.4" stroke="#000" stroke-width="2"/>
<text x="81.2" y="279.9" font-size="16.5" text-anchor="end" stroke="#000" stroke-width="0.6" textLength="12.2" lengthAdjust="spacingAndGlyphs">0</text>
<line x1="89.3" y1="239" x2="97.7" y2="239" stroke="#000" stroke-width="2"/>
<text x="81.2" y="241.5" font-size="16.5" text-anchor="end" stroke="#000" stroke-width="0.6" textLength="72.4" lengthAdjust="spacingAndGlyphs">10,000</text>
<line x1="89.3" y1="200.6" x2="97.7" y2="200.6" stroke="#000" stroke-width="2"/>
<text x="81.2" y="203.1" font-size="16.5" text-anchor="end" stroke="#000" stroke-width="0.6" textLength="72.2" lengthAdjust="spacingAndGlyphs">20,000</text>
<line x1="89.3" y1="162.2" x2="97.7" y2="162.2" stroke="#000" stroke-width="2"/>
<text x="81.2" y="164.7" font-size="16.5" text-anchor="end" stroke="#000" stroke-width="0.6" textLength="72.2" lengthAdjust="spacingAndGlyphs">30,000</text>
<line x1="89.3" y1="123.8" x2="97.7" y2="123.8" stroke="#000" stroke-width="2"/>
<text x="81.2" y="126.3" font-size="16.5" text-anchor="end" stroke="#000" stroke-width="0.6" textLength="72.2" lengthAdjust="spacingAndGlyphs">40,000</text>
<line x1="89.3" y1="85.4" x2="97.7" y2="85.4" stroke="#000" stroke-width="2"/>
<text x="81.2" y="87.9" font-size="16.5" text-anchor="end" stroke="#000" stroke-width="0.6" textLength="72.2" lengthAdjust="spacingAndGlyphs">50,000</text>
<line x1="89.3" y1="47.1" x2="97.7" y2="47.1" stroke="#000" stroke-width="2"/>
<text x="81.2" y="49.6" font-size="16.5" text-anchor="end" stroke="#000" stroke-width="0.6" textLength="72.2" lengthAdjust="spacingAndGlyphs">60,000</text>
<line x1="89.3" y1="8.7" x2="97.7" y2="8.7" stroke="#000" stroke-width="2"/>
<text x="81.2" y="11.2" font-size="16.5" text-anchor="end" stroke="#000" stroke-width="0.6" textLength="70.8" lengthAdjust="spacingAndGlyphs">70,000</text>
<line x1="97.7" y1="277.4" x2="97.7" y2="283" stroke="#000" stroke-width="2"/>
<line x1="132.2" y1="277.4" x2="132.2" y2="281.8" stroke="#000" stroke-width="2"/>
<line x1="167.5" y1="277.4" x2="167.5" y2="281.8" stroke="#000" stroke-width="2"/>
<line x1="203.3" y1="277.4" x2="203.3" y2="281.8" stroke="#000" stroke-width="2"/>
<line x1="239" y1="277.4" x2="239" y2="283" stroke="#000" stroke-width="2"/>
<line x1="274" y1="277.4" x2="274" y2="281.8" stroke="#000" stroke-width="2"/>
<line x1="309.3" y1="277.4" x2="309.3" y2="281.8" stroke="#000" stroke-width="2"/>
<line x1="345" y1="277.4" x2="345" y2="281.8" stroke="#000" stroke-width="2"/>
<line x1="380.8" y1="277.4" x2="380.8" y2="283" stroke="#000" stroke-width="2"/>
<line x1="416" y1="277.4" x2="416" y2="281.8" stroke="#000" stroke-width="2"/>
<line x1="451.3" y1="277.4" x2="451.3" y2="281.8" stroke="#000" stroke-width="2"/>
<line x1="486.9" y1="277.4" x2="486.9" y2="281.8" stroke="#000" stroke-width="2"/>
<line x1="522.5" y1="277.4" x2="522.5" y2="283" stroke="#000" stroke-width="2"/>
<line x1="557.5" y1="277.4" x2="557.5" y2="281.8" stroke="#000" stroke-width="2"/>
<line x1="592.8" y1="277.4" x2="592.8" y2="281.8" stroke="#000" stroke-width="2"/>
<line x1="628.5" y1="277.4" x2="628.5" y2="281.8" stroke="#000" stroke-width="2"/>
<line x1="664.3" y1="277.4" x2="664.3" y2="283" stroke="#000" stroke-width="2"/>
<line x1="699.2" y1="277.4" x2="699.2" y2="281.8" stroke="#000" stroke-width="2"/>
<line x1="734.6" y1="277.4" x2="734.6" y2="281.8" stroke="#000" stroke-width="2"/>
<line x1="770.3" y1="277.4" x2="770.3" y2="281.8" stroke="#000" stroke-width="2"/>
<line x1="806" y1="277.4" x2="806" y2="283" stroke="#000" stroke-width="2"/>
<line x1="841" y1="277.4" x2="841" y2="281.8" stroke="#000" stroke-width="2"/>
<line x1="876.3" y1="277.4" x2="876.3" y2="281.8" stroke="#000" stroke-width="2"/>
<line x1="912.1" y1="277.4" x2="912.1" y2="281.8" stroke="#000" stroke-width="2"/>
<line x1="947.8" y1="277.4" x2="947.8" y2="283" stroke="#000" stroke-width="2"/>
<line x1="983" y1="277.4" x2="983" y2="281.8" stroke="#000" stroke-width="2"/>
<line x1="1018.3" y1="277.4" x2="1018.3" y2="281.8" stroke="#000" stroke-width="2"/>
<line x1="1053.9" y1="277.4" x2="1053.9" y2="281.8" stroke="#000" stroke-width="2"/>
<line x1="1089.6" y1="277.4" x2="1089.6" y2="283" stroke="#000" stroke-width="2"/>
<line x1="1124.5" y1="277.4" x2="1124.5" y2="281.8" stroke="#000" stroke-width="2"/>
<line x1="1159.9" y1="277.4" x2="1159.9" y2="281.8" stroke="#000" stroke-width="2"/>
<rect x="112.67" y="287.80" width="2.90" height="11.50" rx="0.6"/>
<rect x="144.84" y="287.80" width="2.90" height="11.50" rx="0.6"/>
<rect x="150.79" y="287.80" width="2.90" height="11.50" rx="0.6"/>
<rect x="177.40" y="287.80" width="2.90" height="11.50" rx="0.6"/>
<rect x="183.35" y="287.80" width="2.90" height="11.50" rx="0.6"/>
<rect x="189.30" y="287.80" width="2.90" height="11.50" rx="0.6"/>
<rect x="211.38" y="287.80" width="2.90" height="11.50" rx="0.6"/>
<polygon points="215.78,287.80 219.08,287.80 222.73,295.84 226.38,287.80 229.68,287.80 224.30,299.30 221.17,299.30"/>
<rect x="254.43" y="287.80" width="2.90" height="11.50" rx="0.6"/>
<rect x="286.60" y="287.80" width="2.90" height="11.50" rx="0.6"/>
<rect x="292.55" y="287.80" width="2.90" height="11.50" rx="0.6"/>
<rect x="319.16" y="287.80" width="2.90" height="11.50" rx="0.6"/>
<rect x="325.11" y="287.80" width="2.90" height="11.50" rx="0.6"/>
<rect x="331.06" y="287.80" width="2.90" height="11.50" rx="0.6"/>
<rect x="353.14" y="287.80" width="2.90" height="11.50" rx="0.6"/>
<polygon points="357.54,287.80 360.84,287.80 364.49,295.84 368.14,287.80 371.44,287.80 366.06,299.30 362.93,299.30"/>
<rect x="396.33" y="287.80" width="2.90" height="11.50" rx="0.6"/>
<rect x="428.60" y="287.80" width="2.90" height="11.50" rx="0.6"/>
<rect x="434.55" y="287.80" width="2.90" height="11.50" rx="0.6"/>
<rect x="461.07" y="287.80" width="2.90" height="11.50" rx="0.6"/>
<rect x="467.02" y="287.80" width="2.90" height="11.50" rx="0.6"/>
<rect x="472.97" y="287.80" width="2.90" height="11.50" rx="0.6"/>
<rect x="494.95" y="287.80" width="2.90" height="11.50" rx="0.6"/>
<polygon points="499.35,287.80 502.65,287.80 506.30,295.84 509.95,287.80 513.25,287.80 507.87,299.30 504.74,299.30"/>
<rect x="537.95" y="287.80" width="2.90" height="11.50" rx="0.6"/>
<rect x="570.12" y="287.80" width="2.90" height="11.50" rx="0.6"/>
<rect x="576.07" y="287.80" width="2.90" height="11.50" rx="0.6"/>
<rect x="602.68" y="287.80" width="2.90" height="11.50" rx="0.6"/>
<rect x="608.63" y="287.80" width="2.90" height="11.50" rx="0.6"/>
<rect x="614.58" y="287.80" width="2.90" height="11.50" rx="0.6"/>
<rect x="636.66" y="287.80" width="2.90" height="11.50" rx="0.6"/>
<polygon points="641.06,287.80 644.36,287.80 648.01,295.84 651.66,287.80 654.96,287.80 649.58,299.30 646.45,299.30"/>
<rect x="679.71" y="287.80" width="2.90" height="11.50" rx="0.6"/>
<rect x="711.88" y="287.80" width="2.90" height="11.50" rx="0.6"/>
<rect x="717.83" y="287.80" width="2.90" height="11.50" rx="0.6"/>
<rect x="744.44" y="287.80" width="2.90" height="11.50" rx="0.6"/>
<rect x="750.39" y="287.80" width="2.90" height="11.50" rx="0.6"/>
<rect x="756.34" y="287.80" width="2.90" height="11.50" rx="0.6"/>
<rect x="778.42" y="287.80" width="2.90" height="11.50" rx="0.6"/>
<polygon points="782.82,287.80 786.12,287.80 789.77,295.84 793.42,287.80 796.72,287.80 791.34,299.30 788.21,299.30"/>
<rect x="821.47" y="287.80" width="2.90" height="11.50" rx="0.6"/>
<rect x="853.64" y="287.80" width="2.90" height="11.50" rx="0.6"/>
<rect x="859.59" y="287.80" width="2.90" height="11.50" rx="0.6"/>
<rect x="886.20" y="287.80" width="2.90" height="11.50" rx="0.6"/>
<rect x="892.15" y="287.80" width="2.90" height="11.50" rx="0.6"/>
<rect x="898.10" y="287.80" width="2.90" height="11.50" rx="0.6"/>
<rect x="920.18" y="287.80" width="2.90" height="11.50" rx="0.6"/>
<polygon points="924.58,287.80 927.88,287.80 931.53,295.84 935.18,287.80 938.48,287.80 933.10,299.30 929.97,299.30"/>
<rect x="963.37" y="287.80" width="2.90" height="11.50" rx="0.6"/>
<rect x="995.64" y="287.80" width="2.90" height="11.50" rx="0.6"/>
<rect x="1001.59" y="287.80" width="2.90" height="11.50" rx="0.6"/>
<rect x="1028.11" y="287.80" width="2.90" height="11.50" rx="0.6"/>
<rect x="1034.06" y="287.80" width="2.90" height="11.50" rx="0.6"/>
<rect x="1040.01" y="287.80" width="2.90" height="11.50" rx="0.6"/>
<rect x="1061.99" y="287.80" width="2.90" height="11.50" rx="0.6"/>
<polygon points="1066.39,287.80 1069.69,287.80 1073.34,295.84 1076.99,287.80 1080.29,287.80 1074.91,299.30 1071.78,299.30"/>
<rect x="1104.99" y="287.80" width="2.90" height="11.50" rx="0.6"/>
<rect x="1137.16" y="287.80" width="2.90" height="11.50" rx="0.6"/>
<rect x="1143.11" y="287.80" width="2.90" height="11.50" rx="0.6"/>
<text x="166.7" y="331.3" font-size="16.5" text-anchor="middle" stroke="#000" stroke-width="0.6" textLength="52.6" lengthAdjust="spacingAndGlyphs">2014</text>
<text x="309" y="331.3" font-size="16.5" text-anchor="middle" stroke="#000" stroke-width="0.6" textLength="52.6" lengthAdjust="spacingAndGlyphs">2015</text>
<text x="450.7" y="331.3" font-size="16.5" text-anchor="middle" stroke="#000" stroke-width="0.6" textLength="52.6" lengthAdjust="spacingAndGlyphs">2016</text>
<text x="592.5" y="331.3" font-size="16.5" text-anchor="middle" stroke="#000" stroke-width="0.6" textLength="52.6" lengthAdjust="spacingAndGlyphs">2017</text>
<text x="734.3" y="331.3" font-size="16.5" text-anchor="middle" stroke="#000" stroke-width="0.6" textLength="52.6" lengthAdjust="spacingAndGlyphs">2018</text>
<text x="876" y="331.3" font-size="16.5" text-anchor="middle" stroke="#000" stroke-width="0.6" textLength="52.6" lengthAdjust="spacingAndGlyphs">2019</text>
<text x="1017.8" y="331.3" font-size="16.5" text-anchor="middle" stroke="#000" stroke-width="0.6" textLength="52.6" lengthAdjust="spacingAndGlyphs">2020</text>
<text x="1128.8" y="331.3" font-size="16.5" text-anchor="middle" stroke="#000" stroke-width="0.6" textLength="52.6" lengthAdjust="spacingAndGlyphs">2021</text>
<line x1="46.4" y1="537.6" x2="1200" y2="537.6" stroke="#000" stroke-width="2.8"/>
<line x1="46.4" y1="805.3" x2="1200" y2="805.3" stroke="#000" stroke-width="2.4"/>
<line x1="47.2" y1="536.2" x2="47.2" y2="806.5" stroke="#000" stroke-width="1.7"/>
<line x1="1199" y1="536.2" x2="1199" y2="806.5" stroke="#000" stroke-width="2"/>
<line x1="40" y1="538.3" x2="47.2" y2="538.3" stroke="#000" stroke-width="2"/>
<text x="34.5" y="540.5" font-size="16" text-anchor="end" stroke="#000" stroke-width="0.6"></text>
<line x1="40" y1="571.7" x2="47.2" y2="571.7" stroke="#000" stroke-width="2"/>
<text x="34.5" y="573.9" font-size="16" text-anchor="end" stroke="#000" stroke-width="0.6" textLength="16.8" lengthAdjust="spacingAndGlyphs">.2</text>
<line x1="40" y1="605" x2="47.2" y2="605" stroke="#000" stroke-width="2"/>
<text x="34.5" y="607.2" font-size="16" text-anchor="end" stroke="#000" stroke-width="0.6" textLength="16.8" lengthAdjust="spacingAndGlyphs">.1</text>
<line x1="40" y1="638.4" x2="47.2" y2="638.4" stroke="#000" stroke-width="2"/>
<text x="34.5" y="640.6" font-size="16" text-anchor="end" stroke="#000" stroke-width="0.6" textLength="16.8" lengthAdjust="spacingAndGlyphs">.0</text>
<line x1="40" y1="671.8" x2="47.2" y2="671.8" stroke="#000" stroke-width="2"/>
<text x="34.5" y="674" font-size="16" text-anchor="end" stroke="#000" stroke-width="0.6" textLength="25.8" lengthAdjust="spacingAndGlyphs">-.1</text>
<line x1="40" y1="705.1" x2="47.2" y2="705.1" stroke="#000" stroke-width="2"/>
<text x="34.5" y="707.3" font-size="16" text-anchor="end" stroke="#000" stroke-width="0.6" textLength="25.8" lengthAdjust="spacingAndGlyphs">-.2</text>
<line x1="40" y1="738.5" x2="47.2" y2="738.5" stroke="#000" stroke-width="2"/>
<text x="34.5" y="740.7" font-size="16" text-anchor="end" stroke="#000" stroke-width="0.6" textLength="25.8" lengthAdjust="spacingAndGlyphs">-.3</text>
<line x1="40" y1="771.8" x2="47.2" y2="771.8" stroke="#000" stroke-width="2"/>
<text x="34.5" y="774" font-size="16" text-anchor="end" stroke="#000" stroke-width="0.6" textLength="25.8" lengthAdjust="spacingAndGlyphs">-.4</text>
<line x1="40" y1="805.2" x2="47.2" y2="805.2" stroke="#000" stroke-width="2"/>
<text x="34.5" y="807.4" font-size="16" text-anchor="end" stroke="#000" stroke-width="0.6" textLength="25.8" lengthAdjust="spacingAndGlyphs">-.5</text>
<line x1="47.2" y1="805.3" x2="47.2" y2="812.3" stroke="#000" stroke-width="2"/>
<line x1="84.8" y1="805.3" x2="84.8" y2="809.8" stroke="#000" stroke-width="2"/>
<line x1="123.1" y1="805.3" x2="123.1" y2="809.8" stroke="#000" stroke-width="2"/>
<line x1="161.8" y1="805.3" x2="161.8" y2="809.8" stroke="#000" stroke-width="2"/>
<line x1="200.6" y1="805.3" x2="200.6" y2="812.3" stroke="#000" stroke-width="2"/>
<line x1="238.4" y1="805.3" x2="238.4" y2="809.8" stroke="#000" stroke-width="2"/>
<line x1="276.7" y1="805.3" x2="276.7" y2="809.8" stroke="#000" stroke-width="2"/>
<line x1="315.4" y1="805.3" x2="315.4" y2="809.8" stroke="#000" stroke-width="2"/>
<line x1="354.1" y1="805.3" x2="354.1" y2="812.3" stroke="#000" stroke-width="2"/>
<line x1="392.3" y1="805.3" x2="392.3" y2="809.8" stroke="#000" stroke-width="2"/>
<line x1="430.5" y1="805.3" x2="430.5" y2="809.8" stroke="#000" stroke-width="2"/>
<line x1="469.1" y1="805.3" x2="469.1" y2="809.8" stroke="#000" stroke-width="2"/>
<line x1="507.7" y1="805.3" x2="507.7" y2="812.3" stroke="#000" stroke-width="2"/>
<line x1="545.6" y1="805.3" x2="545.6" y2="809.8" stroke="#000" stroke-width="2"/>
<line x1="583.9" y1="805.3" x2="583.9" y2="809.8" stroke="#000" stroke-width="2"/>
<line x1="622.6" y1="805.3" x2="622.6" y2="809.8" stroke="#000" stroke-width="2"/>
<line x1="661.3" y1="805.3" x2="661.3" y2="812.3" stroke="#000" stroke-width="2"/>
<line x1="699.2" y1="805.3" x2="699.2" y2="809.8" stroke="#000" stroke-width="2"/>
<line x1="737.5" y1="805.3" x2="737.5" y2="809.8" stroke="#000" stroke-width="2"/>
<line x1="776.2" y1="805.3" x2="776.2" y2="809.8" stroke="#000" stroke-width="2"/>
<line x1="814.9" y1="805.3" x2="814.9" y2="812.3" stroke="#000" stroke-width="2"/>
<line x1="852.8" y1="805.3" x2="852.8" y2="809.8" stroke="#000" stroke-width="2"/>
<line x1="891.1" y1="805.3" x2="891.1" y2="809.8" stroke="#000" stroke-width="2"/>
<line x1="929.8" y1="805.3" x2="929.8" y2="809.8" stroke="#000" stroke-width="2"/>
<line x1="968.5" y1="805.3" x2="968.5" y2="812.3" stroke="#000" stroke-width="2"/>
<line x1="1006.7" y1="805.3" x2="1006.7" y2="809.8" stroke="#000" stroke-width="2"/>
<line x1="1044.9" y1="805.3" x2="1044.9" y2="809.8" stroke="#000" stroke-width="2"/>
<line x1="1083.5" y1="805.3" x2="1083.5" y2="809.8" stroke="#000" stroke-width="2"/>
<line x1="1122.1" y1="805.3" x2="1122.1" y2="812.3" stroke="#000" stroke-width="2"/>
<line x1="1160" y1="805.3" x2="1160" y2="809.8" stroke="#000" stroke-width="2"/>
<line x1="1198.3" y1="805.3" x2="1198.3" y2="809.8" stroke="#000" stroke-width="2"/>
<rect x="64.50" y="817.10" width="2.60" height="11.60" rx="0.6"/>
<rect x="99.43" y="817.10" width="2.60" height="11.60" rx="0.6"/>
<rect x="105.73" y="817.10" width="2.60" height="11.60" rx="0.6"/>
<rect x="134.78" y="817.10" width="2.60" height="11.60" rx="0.6"/>
<rect x="141.08" y="817.10" width="2.60" height="11.60" rx="0.6"/>
<rect x="147.38" y="817.10" width="2.60" height="11.60" rx="0.6"/>
<rect x="171.89" y="817.10" width="2.60" height="11.60" rx="0.6"/>
<polygon points="176.09,817.10 179.19,817.10 183.19,825.45 187.19,817.10 190.29,817.10 184.67,828.70 181.72,828.70"/>
<rect x="218.09" y="817.10" width="2.60" height="11.60" rx="0.6"/>
<rect x="253.02" y="817.10" width="2.60" height="11.60" rx="0.6"/>
<rect x="259.32" y="817.10" width="2.60" height="11.60" rx="0.6"/>
<rect x="288.37" y="817.10" width="2.60" height="11.60" rx="0.6"/>
<rect x="294.67" y="817.10" width="2.60" height="11.60" rx="0.6"/>
<rect x="300.97" y="817.10" width="2.60" height="11.60" rx="0.6"/>
<rect x="325.48" y="817.10" width="2.60" height="11.60" rx="0.6"/>
<polygon points="329.68,817.10 332.78,817.10 336.78,825.45 340.78,817.10 343.88,817.10 338.26,828.70 335.31,828.70"/>
<rect x="371.83" y="817.10" width="2.60" height="11.60" rx="0.6"/>
<rect x="406.87" y="817.10" width="2.60" height="11.60" rx="0.6"/>
<rect x="413.17" y="817.10" width="2.60" height="11.60" rx="0.6"/>
<rect x="442.12" y="817.10" width="2.60" height="11.60" rx="0.6"/>
<rect x="448.42" y="817.10" width="2.60" height="11.60" rx="0.6"/>
<rect x="454.72" y="817.10" width="2.60" height="11.60" rx="0.6"/>
<rect x="479.13" y="817.10" width="2.60" height="11.60" rx="0.6"/>
<polygon points="483.33,817.10 486.43,817.10 490.43,825.45 494.43,817.10 497.53,817.10 491.90,828.70 488.95,828.70"/>
<rect x="525.27" y="817.10" width="2.60" height="11.60" rx="0.6"/>
<rect x="560.20" y="817.10" width="2.60" height="11.60" rx="0.6"/>
<rect x="566.50" y="817.10" width="2.60" height="11.60" rx="0.6"/>
<rect x="595.55" y="817.10" width="2.60" height="11.60" rx="0.6"/>
<rect x="601.85" y="817.10" width="2.60" height="11.60" rx="0.6"/>
<rect x="608.15" y="817.10" width="2.60" height="11.60" rx="0.6"/>
<rect x="632.66" y="817.10" width="2.60" height="11.60" rx="0.6"/>
<polygon points="636.86,817.10 639.96,817.10 643.96,825.45 647.96,817.10 651.06,817.10 645.44,828.70 642.49,828.70"/>
<rect x="678.86" y="817.10" width="2.60" height="11.60" rx="0.6"/>
<rect x="713.79" y="817.10" width="2.60" height="11.60" rx="0.6"/>
<rect x="720.09" y="817.10" width="2.60" height="11.60" rx="0.6"/>
<rect x="749.14" y="817.10" width="2.60" height="11.60" rx="0.6"/>
<rect x="755.44" y="817.10" width="2.60" height="11.60" rx="0.6"/>
<rect x="761.74" y="817.10" width="2.60" height="11.60" rx="0.6"/>
<rect x="786.25" y="817.10" width="2.60" height="11.60" rx="0.6"/>
<polygon points="790.45,817.10 793.55,817.10 797.55,825.45 801.55,817.10 804.65,817.10 799.03,828.70 796.08,828.70"/>
<rect x="832.45" y="817.10" width="2.60" height="11.60" rx="0.6"/>
<rect x="867.38" y="817.10" width="2.60" height="11.60" rx="0.6"/>
<rect x="873.68" y="817.10" width="2.60" height="11.60" rx="0.6"/>
<rect x="902.73" y="817.10" width="2.60" height="11.60" rx="0.6"/>
<rect x="909.03" y="817.10" width="2.60" height="11.60" rx="0.6"/>
<rect x="915.33" y="817.10" width="2.60" height="11.60" rx="0.6"/>
<rect x="939.84" y="817.10" width="2.60" height="11.60" rx="0.6"/>
<polygon points="944.04,817.10 947.14,817.10 951.14,825.45 955.14,817.10 958.24,817.10 952.62,828.70 949.67,828.70"/>
<rect x="986.19" y="817.10" width="2.60" height="11.60" rx="0.6"/>
<rect x="1021.23" y="817.10" width="2.60" height="11.60" rx="0.6"/>
<rect x="1027.53" y="817.10" width="2.60" height="11.60" rx="0.6"/>
<rect x="1056.48" y="817.10" width="2.60" height="11.60" rx="0.6"/>
<rect x="1062.78" y="817.10" width="2.60" height="11.60" rx="0.6"/>
<rect x="1069.08" y="817.10" width="2.60" height="11.60" rx="0.6"/>
<rect x="1093.49" y="817.10" width="2.60" height="11.60" rx="0.6"/>
<polygon points="1097.69,817.10 1100.79,817.10 1104.79,825.45 1108.79,817.10 1111.89,817.10 1106.26,828.70 1103.31,828.70"/>
<rect x="1139.63" y="817.10" width="2.60" height="11.60" rx="0.6"/>
<rect x="1174.56" y="817.10" width="2.60" height="11.60" rx="0.6"/>
<rect x="1180.86" y="817.10" width="2.60" height="11.60" rx="0.6"/>
<text x="124.3" y="860" font-size="16.6" text-anchor="middle" stroke="#000" stroke-width="0.6" textLength="43.3" lengthAdjust="spacingAndGlyphs">2014</text>
<text x="277.8" y="860" font-size="16.6" text-anchor="middle" stroke="#000" stroke-width="0.6" textLength="43.3" lengthAdjust="spacingAndGlyphs">2015</text>
<text x="431.4" y="860" font-size="16.6" text-anchor="middle" stroke="#000" stroke-width="0.6" textLength="43.3" lengthAdjust="spacingAndGlyphs">2016</text>
<text x="585" y="860" font-size="16.6" text-anchor="middle" stroke="#000" stroke-width="0.6" textLength="43.3" lengthAdjust="spacingAndGlyphs">2017</text>
<text x="738.6" y="860" font-size="16.6" text-anchor="middle" stroke="#000" stroke-width="0.6" textLength="43.3" lengthAdjust="spacingAndGlyphs">2018</text>
<text x="892.2" y="860" font-size="16.6" text-anchor="middle" stroke="#000" stroke-width="0.6" textLength="43.3" lengthAdjust="spacingAndGlyphs">2019</text>
<text x="1045.8" y="860" font-size="16.6" text-anchor="middle" stroke="#000" stroke-width="0.6" textLength="43.3" lengthAdjust="spacingAndGlyphs">2020</text>
<text x="1166.8" y="860" font-size="16.6" text-anchor="middle" stroke="#000" stroke-width="0.6" textLength="43.3" lengthAdjust="spacingAndGlyphs">2021</text>
<text x="23.4" y="540.6" font-size="16" text-anchor="start" stroke="#000" stroke-width="0.6" textLength="10.4" lengthAdjust="spacingAndGlyphs">3</text>
<text x="0.4" y="537" font-family="Liberation Serif" font-size="17.6" stroke="#000" stroke-width="0.4">0</text>
<text x="12" y="547" font-family="Liberation Serif" font-size="17.6" stroke="#000" stroke-width="0.4">0</text>
<line x1="0.3" y1="546.3" x2="21" y2="524.8" stroke="#000" stroke-width="1.4"/>
<line x1="55.1" y1="990.4" x2="1180.8" y2="990.4" stroke="#000" stroke-width="1.9"/>
<line x1="55.1" y1="1307.8" x2="1180.8" y2="1307.8" stroke="#000" stroke-width="2.1"/>
<line x1="56.1" y1="989.4" x2="56.1" y2="1308.8" stroke="#000" stroke-width="2"/>
<line x1="1179.8" y1="989.4" x2="1179.8" y2="1308.8" stroke="#000" stroke-width="2"/>
<line x1="47.3" y1="999" x2="56.1" y2="999" stroke="#000" stroke-width="2"/>
<text x="39.3" y="1002.3" font-size="18" text-anchor="end" stroke="#000" stroke-width="0.6" textLength="20.5" lengthAdjust="spacingAndGlyphs">.6</text>
<line x1="47.3" y1="1038.3" x2="56.1" y2="1038.3" stroke="#000" stroke-width="2"/>
<text x="39.3" y="1041.6" font-size="18" text-anchor="end" stroke="#000" stroke-width="0.6" textLength="20.5" lengthAdjust="spacingAndGlyphs">.5</text>
<line x1="47.3" y1="1077.6" x2="56.1" y2="1077.6" stroke="#000" stroke-width="2"/>
<text x="39.3" y="1080.9" font-size="18" text-anchor="end" stroke="#000" stroke-width="0.6" textLength="20.5" lengthAdjust="spacingAndGlyphs">.4</text>
<line x1="47.3" y1="1116.9" x2="56.1" y2="1116.9" stroke="#000" stroke-width="2"/>
<text x="39.3" y="1120.2" font-size="18" text-anchor="end" stroke="#000" stroke-width="0.6" textLength="20.5" lengthAdjust="spacingAndGlyphs">.3</text>
<line x1="47.3" y1="1156.2" x2="56.1" y2="1156.2" stroke="#000" stroke-width="2"/>
<text x="39.3" y="1159.5" font-size="18" text-anchor="end" stroke="#000" stroke-width="0.6" textLength="20.5" lengthAdjust="spacingAndGlyphs">.2</text>
<line x1="47.3" y1="1195.5" x2="56.1" y2="1195.5" stroke="#000" stroke-width="2"/>
<text x="39.3" y="1198.8" font-size="18" text-anchor="end" stroke="#000" stroke-width="0.6" textLength="20.5" lengthAdjust="spacingAndGlyphs">.1</text>
<line x1="47.3" y1="1234.8" x2="56.1" y2="1234.8" stroke="#000" stroke-width="2"/>
<text x="39.3" y="1238.1" font-size="18" text-anchor="end" stroke="#000" stroke-width="0.6" textLength="20.5" lengthAdjust="spacingAndGlyphs">.0</text>
<line x1="47.3" y1="1274.1" x2="56.1" y2="1274.1" stroke="#000" stroke-width="2"/>
<text x="39.3" y="1277.4" font-size="18" text-anchor="end" stroke="#000" stroke-width="0.6" textLength="30" lengthAdjust="spacingAndGlyphs">-.1</text>
<line x1="56.1" y1="1307.8" x2="56.1" y2="1314.5" stroke="#000" stroke-width="2"/>
<line x1="91.8" y1="1307.8" x2="91.8" y2="1312.3" stroke="#000" stroke-width="2"/>
<line x1="129.2" y1="1307.8" x2="129.2" y2="1312.3" stroke="#000" stroke-width="2"/>
<line x1="167" y1="1307.8" x2="167" y2="1312.3" stroke="#000" stroke-width="2"/>
<line x1="204.9" y1="1307.8" x2="204.9" y2="1314.5" stroke="#000" stroke-width="2"/>
<line x1="241.9" y1="1307.8" x2="241.9" y2="1312.3" stroke="#000" stroke-width="2"/>
<line x1="279.4" y1="1307.8" x2="279.4" y2="1312.3" stroke="#000" stroke-width="2"/>
<line x1="317.2" y1="1307.8" x2="317.2" y2="1312.3" stroke="#000" stroke-width="2"/>
<line x1="355.1" y1="1307.8" x2="355.1" y2="1314.5" stroke="#000" stroke-width="2"/>
<line x1="392.4" y1="1307.8" x2="392.4" y2="1312.3" stroke="#000" stroke-width="2"/>
<line x1="429.7" y1="1307.8" x2="429.7" y2="1312.3" stroke="#000" stroke-width="2"/>
<line x1="467.5" y1="1307.8" x2="467.5" y2="1312.3" stroke="#000" stroke-width="2"/>
<line x1="505.2" y1="1307.8" x2="505.2" y2="1314.5" stroke="#000" stroke-width="2"/>
<line x1="542.3" y1="1307.8" x2="542.3" y2="1312.3" stroke="#000" stroke-width="2"/>
<line x1="579.7" y1="1307.8" x2="579.7" y2="1312.3" stroke="#000" stroke-width="2"/>
<line x1="617.6" y1="1307.8" x2="617.6" y2="1312.3" stroke="#000" stroke-width="2"/>
<line x1="655.4" y1="1307.8" x2="655.4" y2="1314.5" stroke="#000" stroke-width="2"/>
<line x1="692.4" y1="1307.8" x2="692.4" y2="1312.3" stroke="#000" stroke-width="2"/>
<line x1="729.9" y1="1307.8" x2="729.9" y2="1312.3" stroke="#000" stroke-width="2"/>
<line x1="767.7" y1="1307.8" x2="767.7" y2="1312.3" stroke="#000" stroke-width="2"/>
<line x1="805.6" y1="1307.8" x2="805.6" y2="1314.5" stroke="#000" stroke-width="2"/>
<line x1="842.6" y1="1307.8" x2="842.6" y2="1312.3" stroke="#000" stroke-width="2"/>
<line x1="880" y1="1307.8" x2="880" y2="1312.3" stroke="#000" stroke-width="2"/>
<line x1="917.9" y1="1307.8" x2="917.9" y2="1312.3" stroke="#000" stroke-width="2"/>
<line x1="955.8" y1="1307.8" x2="955.8" y2="1314.5" stroke="#000" stroke-width="2"/>
<line x1="993.1" y1="1307.8" x2="993.1" y2="1312.3" stroke="#000" stroke-width="2"/>
<line x1="1030.4" y1="1307.8" x2="1030.4" y2="1312.3" stroke="#000" stroke-width="2"/>
<line x1="1068.2" y1="1307.8" x2="1068.2" y2="1312.3" stroke="#000" stroke-width="2"/>
<line x1="1105.9" y1="1307.8" x2="1105.9" y2="1314.5" stroke="#000" stroke-width="2"/>
<line x1="1142.9" y1="1307.8" x2="1142.9" y2="1312.3" stroke="#000" stroke-width="2"/>
<line x1="1179.8" y1="1307.8" x2="1179.8" y2="1312.3" stroke="#000" stroke-width="2"/>
<rect x="71.74" y="1320.00" width="3.00" height="13.00" rx="0.6"/>
<rect x="105.18" y="1320.00" width="3.00" height="13.00" rx="0.6"/>
<rect x="112.78" y="1320.00" width="3.00" height="13.00" rx="0.6"/>
<rect x="139.02" y="1320.00" width="3.00" height="13.00" rx="0.6"/>
<rect x="146.62" y="1320.00" width="3.00" height="13.00" rx="0.6"/>
<rect x="154.22" y="1320.00" width="3.00" height="13.00" rx="0.6"/>
<rect x="175.72" y="1320.00" width="3.00" height="13.00" rx="0.6"/>
<polygon points="180.52,1320.00 184.02,1320.00 188.37,1329.33 192.72,1320.00 196.22,1320.00 190.04,1333.00 186.71,1333.00"/>
<rect x="221.91" y="1320.00" width="3.00" height="13.00" rx="0.6"/>
<rect x="255.35" y="1320.00" width="3.00" height="13.00" rx="0.6"/>
<rect x="262.95" y="1320.00" width="3.00" height="13.00" rx="0.6"/>
<rect x="289.19" y="1320.00" width="3.00" height="13.00" rx="0.6"/>
<rect x="296.79" y="1320.00" width="3.00" height="13.00" rx="0.6"/>
<rect x="304.39" y="1320.00" width="3.00" height="13.00" rx="0.6"/>
<rect x="325.89" y="1320.00" width="3.00" height="13.00" rx="0.6"/>
<polygon points="330.69,1320.00 334.19,1320.00 338.54,1329.33 342.89,1320.00 346.39,1320.00 340.21,1333.00 336.88,1333.00"/>
<rect x="372.24" y="1320.00" width="3.00" height="13.00" rx="0.6"/>
<rect x="405.78" y="1320.00" width="3.00" height="13.00" rx="0.6"/>
<rect x="413.38" y="1320.00" width="3.00" height="13.00" rx="0.6"/>
<rect x="439.52" y="1320.00" width="3.00" height="13.00" rx="0.6"/>
<rect x="447.12" y="1320.00" width="3.00" height="13.00" rx="0.6"/>
<rect x="454.72" y="1320.00" width="3.00" height="13.00" rx="0.6"/>
<rect x="476.12" y="1320.00" width="3.00" height="13.00" rx="0.6"/>
<polygon points="480.92,1320.00 484.42,1320.00 488.77,1329.33 493.12,1320.00 496.62,1320.00 490.43,1333.00 487.10,1333.00"/>
<rect x="522.25" y="1320.00" width="3.00" height="13.00" rx="0.6"/>
<rect x="555.69" y="1320.00" width="3.00" height="13.00" rx="0.6"/>
<rect x="563.29" y="1320.00" width="3.00" height="13.00" rx="0.6"/>
<rect x="589.53" y="1320.00" width="3.00" height="13.00" rx="0.6"/>
<rect x="597.13" y="1320.00" width="3.00" height="13.00" rx="0.6"/>
<rect x="604.73" y="1320.00" width="3.00" height="13.00" rx="0.6"/>
<rect x="626.23" y="1320.00" width="3.00" height="13.00" rx="0.6"/>
<polygon points="631.03,1320.00 634.53,1320.00 638.88,1329.33 643.23,1320.00 646.73,1320.00 640.55,1333.00 637.22,1333.00"/>
<rect x="672.42" y="1320.00" width="3.00" height="13.00" rx="0.6"/>
<rect x="705.86" y="1320.00" width="3.00" height="13.00" rx="0.6"/>
<rect x="713.46" y="1320.00" width="3.00" height="13.00" rx="0.6"/>
<rect x="739.70" y="1320.00" width="3.00" height="13.00" rx="0.6"/>
<rect x="747.30" y="1320.00" width="3.00" height="13.00" rx="0.6"/>
<rect x="754.90" y="1320.00" width="3.00" height="13.00" rx="0.6"/>
<rect x="776.40" y="1320.00" width="3.00" height="13.00" rx="0.6"/>
<polygon points="781.20,1320.00 784.70,1320.00 789.05,1329.33 793.40,1320.00 796.90,1320.00 790.72,1333.00 787.39,1333.00"/>
<rect x="822.59" y="1320.00" width="3.00" height="13.00" rx="0.6"/>
<rect x="856.03" y="1320.00" width="3.00" height="13.00" rx="0.6"/>
<rect x="863.63" y="1320.00" width="3.00" height="13.00" rx="0.6"/>
<rect x="889.87" y="1320.00" width="3.00" height="13.00" rx="0.6"/>
<rect x="897.47" y="1320.00" width="3.00" height="13.00" rx="0.6"/>
<rect x="905.07" y="1320.00" width="3.00" height="13.00" rx="0.6"/>
<rect x="926.57" y="1320.00" width="3.00" height="13.00" rx="0.6"/>
<polygon points="931.37,1320.00 934.87,1320.00 939.22,1329.33 943.57,1320.00 947.07,1320.00 940.89,1333.00 937.56,1333.00"/>
<rect x="972.92" y="1320.00" width="3.00" height="13.00" rx="0.6"/>
<rect x="1006.46" y="1320.00" width="3.00" height="13.00" rx="0.6"/>
<rect x="1014.06" y="1320.00" width="3.00" height="13.00" rx="0.6"/>
<rect x="1040.20" y="1320.00" width="3.00" height="13.00" rx="0.6"/>
<rect x="1047.80" y="1320.00" width="3.00" height="13.00" rx="0.6"/>
<rect x="1055.40" y="1320.00" width="3.00" height="13.00" rx="0.6"/>
<rect x="1076.80" y="1320.00" width="3.00" height="13.00" rx="0.6"/>
<polygon points="1081.60,1320.00 1085.10,1320.00 1089.45,1329.33 1093.80,1320.00 1097.30,1320.00 1091.11,1333.00 1087.78,1333.00"/>
<rect x="1122.93" y="1320.00" width="3.00" height="13.00" rx="0.6"/>
<rect x="1156.37" y="1320.00" width="3.00" height="13.00" rx="0.6"/>
<rect x="1163.97" y="1320.00" width="3.00" height="13.00" rx="0.6"/>
<text x="130.1" y="1371.2" font-size="17.8" text-anchor="middle" stroke="#000" stroke-width="0.6" textLength="54.4" lengthAdjust="spacingAndGlyphs">2014</text>
<text x="280.2" y="1371.2" font-size="17.8" text-anchor="middle" stroke="#000" stroke-width="0.6" textLength="54.4" lengthAdjust="spacingAndGlyphs">2015</text>
<text x="430.4" y="1371.2" font-size="17.8" text-anchor="middle" stroke="#000" stroke-width="0.6" textLength="54.4" lengthAdjust="spacingAndGlyphs">2016</text>
<text x="580.5" y="1371.2" font-size="17.8" text-anchor="middle" stroke="#000" stroke-width="0.6" textLength="54.4" lengthAdjust="spacingAndGlyphs">2017</text>
<text x="730.7" y="1371.2" font-size="17.8" text-anchor="middle" stroke="#000" stroke-width="0.6" textLength="54.4" lengthAdjust="spacingAndGlyphs">2018</text>
<text x="880.9" y="1371.2" font-size="17.8" text-anchor="middle" stroke="#000" stroke-width="0.6" textLength="54.4" lengthAdjust="spacingAndGlyphs">2019</text>
<text x="1031" y="1371.2" font-size="17.8" text-anchor="middle" stroke="#000" stroke-width="0.6" textLength="54.4" lengthAdjust="spacingAndGlyphs">2020</text>
<text x="1148.4" y="1371.2" font-size="17.8" text-anchor="middle" stroke="#000" stroke-width="0.6" textLength="54.4" lengthAdjust="spacingAndGlyphs">2021</text>
<text x="9.5" y="357" font-size="22.5" text-anchor="start" font-family="Liberation Serif" textLength="1078.5" lengthAdjust="spacingAndGlyphs" stroke="#000" stroke-width="0.3">Notes. The price movement shows the Bitcoin prices in US dollar over the sample period from Jan. 2014 to Jun.</text>
<text x="9.5" y="384.6" font-size="22.5" text-anchor="start" font-family="Liberation Serif" textLength="1144" lengthAdjust="spacingAndGlyphs" stroke="#000" stroke-width="0.3">2021, huge jump starting from Q3/2017. Figure 1 further shows time series of daily BTC/USD exchange rates between</text>
<text x="9.5" y="412.3" font-size="22.5" text-anchor="start" font-family="Liberation Serif" textLength="1149.1" lengthAdjust="spacingAndGlyphs" stroke="#000" stroke-width="0.3">11/01/2017 and 1/31/2018 when the first wave of Bitcoin crash. We can observe some obvious jumps in the price series</text>
<text x="9.5" y="439.5" font-size="22.5" text-anchor="start" font-family="Liberation Serif" textLength="521" lengthAdjust="spacingAndGlyphs" stroke="#000" stroke-width="0.3">marked with red circle during this three-month period.</text>
<text x="9.6" y="911" font-size="26" text-anchor="start" font-family="Liberation Serif" textLength="665" lengthAdjust="spacingAndGlyphs" stroke="#000" stroke-width="0.3">Notes. The graph plots the daily logarithmic returns of Bitcoin</text>
<text x="10" y="1410.6" font-family="Liberation Serif" font-size="26" stroke="#000" stroke-width="0.3" textLength="704" lengthAdjust="spacingAndGlyphs">Notes. The figure depicts time series of the Bipower variation (</text>
<text x="714.2" y="1410.6" font-family="Liberation Serif" font-style="italic" font-size="28" stroke="#000" stroke-width="0.4" textLength="33" lengthAdjust="spacingAndGlyphs">BV</text>
<text x="746.8" y="1415.4" font-family="Liberation Serif" font-style="italic" font-size="21" stroke="#000" stroke-width="0.4">t</text>
<text x="757.2" y="1410.6" font-family="Liberation Serif" font-size="26" stroke="#000" stroke-width="0.3" textLength="306" lengthAdjust="spacingAndGlyphs">, Eq. (4)) for Bitcoin prices.</text>
<text x="641.5" y="509" font-family="Liberation Serif" font-style="italic" font-size="28" stroke="#000" stroke-width="0.4">R</text>
<text x="659.2" y="514.4" font-family="Liberation Serif" font-style="italic" font-size="21" stroke="#000" stroke-width="0.4" textLength="8.6" lengthAdjust="spacingAndGlyphs">t</text>
<text x="600.8" y="958" font-family="Liberation Serif" font-style="italic" font-size="31" stroke="#000" stroke-width="0.4">BV<tspan font-size="22" dy="6">t</tspan></text>
<ellipse cx="641.9" cy="253.5" rx="16" ry="9.6" fill="none" stroke="#ff0000" stroke-width="3.8"/>
<ellipse cx="677.3" cy="239.5" rx="21.9" ry="7.6" fill="none" stroke="#ff0000" stroke-width="3.8"/>
<line x1="680" y1="268" x2="671.5" y2="716" stroke="#ff0000" stroke-width="2.8" stroke-dasharray="11 6.7"/>
<polygon points="663.8,714.6 679.3,714.6 671.5,729.4" fill="#ff0000"/>
<circle cx="680" cy="268" r="7.4" fill="#ff0000"/>
<line x1="977" y1="275.75" x2="993.6" y2="722" stroke="#ff0000" stroke-width="2.8"/>
<polygon points="986.1,721.1 1000.8,720.5 994,735.2" fill="#ff0000"/>
<circle cx="977" cy="275.75" r="7.4" fill="#ff0000"/>
</svg></body></html>
